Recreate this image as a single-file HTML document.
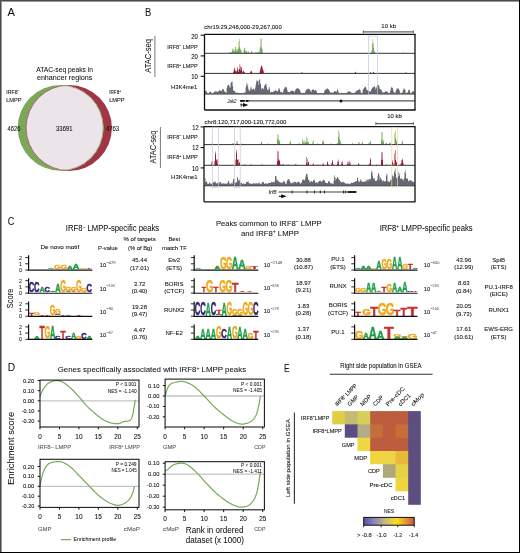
<!DOCTYPE html>
<html><head><meta charset="utf-8"><style>
html,body{margin:0;padding:0;background:#fff;width:520px;height:553px;overflow:hidden}
svg{display:block;will-change:transform}
text{font-family:"Liberation Sans", sans-serif;}
</style></head><body>
<svg width="520" height="553" viewBox="0 0 520 553">
<rect x="0" y="0" width="520" height="553" fill="#fff"/>
<text x="7.60" y="15.90" font-size="11" fill="#111" stroke="#111" stroke-width="0.050" textLength="7.40" lengthAdjust="spacingAndGlyphs" >A</text>
<text x="36.20" y="71.60" font-size="7.4" fill="#111" stroke="#111" stroke-width="0.050" textLength="56.90" lengthAdjust="spacingAndGlyphs" >ATAC-seq peaks in</text>
<text x="36.90" y="80.40" font-size="7.4" fill="#111" stroke="#111" stroke-width="0.050" textLength="55.40" lengthAdjust="spacingAndGlyphs" >enhancer regions</text>
<text x="6.20" y="94.20" font-size="6.2" fill="#111" stroke="#111" stroke-width="0.080" textLength="13.40" lengthAdjust="spacingAndGlyphs" >IRF8<tspan font-size="65%" dy="-0.5em">&#8722;</tspan><tspan dy="0.325em"></tspan></text>
<text x="6.20" y="101.90" font-size="6.2" fill="#111" stroke="#111" stroke-width="0.080" textLength="15.30" lengthAdjust="spacingAndGlyphs" >LMPP</text>
<text x="109.20" y="94.10" font-size="6.2" fill="#111" stroke="#111" stroke-width="0.080" textLength="11.80" lengthAdjust="spacingAndGlyphs" >IRF8<tspan font-size="65%" dy="-0.5em">+</tspan><tspan dy="0.325em"></tspan></text>
<text x="109.20" y="101.90" font-size="6.2" fill="#111" stroke="#111" stroke-width="0.080" textLength="15.40" lengthAdjust="spacingAndGlyphs" >LMPP</text>
<defs><clipPath id="cg"><circle cx="60.6" cy="127.9" r="42.9"/></clipPath><clipPath id="cr"><circle cx="68.9" cy="127.9" r="43.0"/></clipPath></defs>
<circle cx="60.6" cy="127.9" r="42.9" fill="#7aa85a"/>
<circle cx="68.9" cy="127.9" r="43.0" fill="#a03644"/>
<g clip-path="url(#cg)"><circle cx="68.9" cy="127.9" r="43.0" fill="#ebe5ea"/><circle cx="68.9" cy="127.9" r="42.10" fill="none" stroke="#ffffff" stroke-width="0.6"/><circle cx="68.9" cy="127.9" r="42.70" fill="none" stroke="#a03644" stroke-width="0.7"/></g>
<g clip-path="url(#cr)"><circle cx="60.6" cy="127.9" r="42.60" fill="none" stroke="#7aa85a" stroke-width="0.7"/></g>
<text x="7.50" y="130.80" font-size="6.4" fill="#111" stroke="#111" stroke-width="0.080" textLength="13.00" lengthAdjust="spacingAndGlyphs" >4626</text>
<text x="56.10" y="130.60" font-size="6.6" fill="#111" stroke="#111" stroke-width="0.080" textLength="16.40" lengthAdjust="spacingAndGlyphs" >33691</text>
<text x="105.90" y="130.60" font-size="6.4" fill="#111" stroke="#111" stroke-width="0.080" textLength="13.30" lengthAdjust="spacingAndGlyphs" >4763</text>
<text x="145.00" y="15.90" font-size="11" fill="#111" stroke="#111" stroke-width="0.050" textLength="6.30" lengthAdjust="spacingAndGlyphs" >B</text>
<text x="0" y="0" font-size="9.2" fill="#111" stroke="#111" stroke-width="0.050" textLength="33.70" lengthAdjust="spacingAndGlyphs" transform="translate(150.90 72.80) rotate(-90)">ATAC-seq</text>
<line x1="154.90" y1="35.90" x2="154.90" y2="77.00" stroke="#777" stroke-width="1" />
<text x="204.20" y="29.40" font-size="6.2" fill="#111" stroke="#111" stroke-width="0.080" textLength="77.50" lengthAdjust="spacingAndGlyphs" >chr19:29,248,000-29,267,000</text>
<text x="381.30" y="27.50" font-size="6.2" fill="#111" stroke="#111" stroke-width="0.080" textLength="14.70" lengthAdjust="spacingAndGlyphs" >10 kb</text>
<line x1="363.10" y1="31.90" x2="413.50" y2="31.90" stroke="#666" stroke-width="1.3" />
<line x1="363.30" y1="30.40" x2="363.30" y2="33.20" stroke="#444" stroke-width="0.8" />
<line x1="413.30" y1="30.40" x2="413.30" y2="33.20" stroke="#444" stroke-width="0.8" />
<path d="M205.10 53.20 L205.10 53.20 L205.60 53.20 L205.60 53.20 L206.10 53.20 L206.10 53.20 L206.60 53.20 L206.60 53.20 L207.10 53.20 L207.10 53.20 L207.60 53.20 L207.60 53.20 L208.10 53.20 L208.10 53.20 L208.60 53.20 L208.60 53.20 L209.10 53.20 L209.10 53.20 L209.60 53.20 L209.60 53.20 L210.10 53.20 L210.10 53.20 L210.60 53.20 L210.60 53.20 L211.10 53.20 L211.10 53.20 L211.60 53.20 L211.60 53.20 L212.10 53.20 L212.10 53.20 L212.60 53.20 L212.60 53.20 L213.10 53.20 L213.10 53.20 L213.60 53.20 L213.60 53.20 L214.10 53.20 L214.10 53.20 L214.60 53.20 L214.60 53.20 L215.10 53.20 L215.10 53.20 L215.60 53.20 L215.60 53.20 L216.10 53.20 L216.10 53.20 L216.60 53.20 L216.60 53.20 L217.10 53.20 L217.10 53.20 L217.60 53.20 L217.60 53.20 L218.10 53.20 L218.10 53.20 L218.60 53.20 L218.60 53.20 L219.10 53.20 L219.10 53.20 L219.60 53.20 L219.60 53.20 L220.10 53.20 L220.10 53.20 L220.60 53.20 L220.60 53.20 L221.10 53.20 L221.10 53.20 L221.60 53.20 L221.60 53.20 L222.10 53.20 L222.10 53.20 L222.60 53.20 L222.60 53.20 L223.10 53.20 L223.10 53.20 L223.60 53.20 L223.60 53.20 L224.10 53.20 L224.10 53.20 L224.60 53.20 L224.60 53.20 L225.10 53.20 L225.10 53.20 L225.60 53.20 L225.60 53.20 L226.10 53.20 L226.10 53.20 L226.60 53.20 L226.60 53.20 L227.10 53.20 L227.10 53.20 L227.60 53.20 L227.60 53.20 L228.10 53.20 L228.10 53.20 L228.60 53.20 L228.60 53.20 L229.10 53.20 L229.10 52.84 L229.60 52.84 L229.60 52.49 L230.10 52.49 L230.10 52.11 L230.60 52.11 L230.60 52.25 L231.10 52.25 L231.10 52.86 L231.60 52.86 L231.60 52.22 L232.10 52.22 L232.10 50.15 L232.60 50.15 L232.60 48.29 L233.10 48.29 L233.10 48.93 L233.60 48.93 L233.60 50.87 L234.10 50.87 L234.10 51.62 L234.60 51.62 L234.60 50.40 L235.10 50.40 L235.10 46.91 L235.60 46.91 L235.60 46.91 L236.10 46.91 L236.10 49.85 L236.60 49.85 L236.60 51.68 L237.10 51.68 L237.10 49.74 L237.60 49.74 L237.60 48.86 L238.10 48.86 L238.10 48.52 L238.60 48.52 L238.60 41.20 L239.10 41.20 L239.10 38.91 L239.60 38.91 L239.60 46.97 L240.10 46.97 L240.10 50.23 L240.60 50.23 L240.60 48.78 L241.10 48.78 L241.10 50.60 L241.60 50.60 L241.60 53.20 L242.10 53.20 L242.10 53.20 L242.60 53.20 L242.60 53.20 L243.10 53.20 L243.10 53.20 L243.60 53.20 L243.60 50.02 L244.10 50.02 L244.10 47.52 L244.60 47.52 L244.60 48.34 L245.10 48.34 L245.10 50.40 L245.60 50.40 L245.60 52.24 L246.10 52.24 L246.10 51.32 L246.60 51.32 L246.60 50.97 L247.10 50.97 L247.10 52.14 L247.60 52.14 L247.60 52.70 L248.10 52.70 L248.10 51.59 L248.60 51.59 L248.60 51.96 L249.10 51.96 L249.10 53.20 L249.60 53.20 L249.60 53.20 L250.10 53.20 L250.10 53.20 L250.60 53.20 L250.60 52.42 L251.10 52.42 L251.10 51.15 L251.60 51.15 L251.60 51.15 L252.10 51.15 L252.10 52.54 L252.60 52.54 L252.60 53.20 L253.10 53.20 L253.10 53.20 L253.60 53.20 L253.60 53.20 L254.10 53.20 L254.10 53.20 L254.60 53.20 L254.60 52.99 L255.10 52.99 L255.10 52.64 L255.60 52.64 L255.60 52.11 L256.10 52.11 L256.10 52.25 L256.60 52.25 L256.60 52.79 L257.10 52.79 L257.10 52.86 L257.60 52.86 L257.60 52.33 L258.10 52.33 L258.10 51.83 L258.60 51.83 L258.60 52.02 L259.10 52.02 L259.10 52.62 L259.60 52.62 L259.60 49.03 L260.10 49.03 L260.10 46.69 L260.60 46.69 L260.60 38.56 L261.10 38.56 L261.10 38.56 L261.60 38.56 L261.60 47.64 L262.10 47.64 L262.10 49.58 L262.60 49.58 L262.60 53.20 L263.10 53.20 L263.10 53.20 L263.60 53.20 L263.60 53.20 L264.10 53.20 L264.10 53.20 L264.60 53.20 L264.60 53.20 L265.10 53.20 L265.10 53.20 L265.60 53.20 L265.60 53.20 L266.10 53.20 L266.10 53.20 L266.60 53.20 L266.60 53.20 L267.10 53.20 L267.10 53.20 L267.60 53.20 L267.60 53.20 L268.10 53.20 L268.10 53.20 L268.60 53.20 L268.60 53.20 L269.10 53.20 L269.10 53.20 L269.60 53.20 L269.60 53.20 L270.10 53.20 L270.10 53.20 L270.60 53.20 L270.60 53.20 L271.10 53.20 L271.10 53.20 L271.60 53.20 L271.60 53.20 L272.10 53.20 L272.10 53.20 L272.60 53.20 L272.60 53.20 L273.10 53.20 L273.10 53.20 L273.60 53.20 L273.60 53.20 L274.10 53.20 L274.10 53.20 L274.60 53.20 L274.60 53.20 L275.10 53.20 L275.10 53.20 L275.60 53.20 L275.60 53.20 L276.10 53.20 L276.10 53.20 L276.60 53.20 L276.60 53.20 L277.10 53.20 L277.10 53.20 L277.60 53.20 L277.60 53.20 L278.10 53.20 L278.10 53.20 L278.60 53.20 L278.60 53.20 L279.10 53.20 L279.10 53.20 L279.60 53.20 L279.60 53.20 L280.10 53.20 L280.10 53.20 L280.60 53.20 L280.60 53.20 L281.10 53.20 L281.10 53.20 L281.60 53.20 L281.60 53.20 L282.10 53.20 L282.10 53.20 L282.60 53.20 L282.60 53.20 L283.10 53.20 L283.10 53.20 L283.60 53.20 L283.60 53.20 L284.10 53.20 L284.10 53.20 L284.60 53.20 L284.60 53.20 L285.10 53.20 L285.10 53.20 L285.60 53.20 L285.60 53.20 L286.10 53.20 L286.10 53.20 L286.60 53.20 L286.60 53.20 L287.10 53.20 L287.10 53.20 L287.60 53.20 L287.60 53.20 L288.10 53.20 L288.10 53.20 L288.60 53.20 L288.60 53.20 L289.10 53.20 L289.10 53.20 L289.60 53.20 L289.60 53.20 L290.10 53.20 L290.10 53.20 L290.60 53.20 L290.60 53.20 L291.10 53.20 L291.10 53.20 L291.60 53.20 L291.60 53.20 L292.10 53.20 L292.10 53.20 L292.60 53.20 L292.60 53.20 L293.10 53.20 L293.10 53.20 L293.60 53.20 L293.60 53.20 L294.10 53.20 L294.10 53.20 L294.60 53.20 L294.60 53.20 L295.10 53.20 L295.10 53.20 L295.60 53.20 L295.60 53.20 L296.10 53.20 L296.10 53.20 L296.60 53.20 L296.60 53.20 L297.10 53.20 L297.10 53.20 L297.60 53.20 L297.60 53.20 L298.10 53.20 L298.10 53.20 L298.60 53.20 L298.60 53.20 L299.10 53.20 L299.10 53.20 L299.60 53.20 L299.60 53.20 L300.10 53.20 L300.10 53.20 L300.60 53.20 L300.60 53.20 L301.10 53.20 L301.10 53.20 L301.60 53.20 L301.60 53.20 L302.10 53.20 L302.10 53.20 L302.60 53.20 L302.60 53.20 L303.10 53.20 L303.10 53.20 L303.60 53.20 L303.60 53.20 L304.10 53.20 L304.10 53.20 L304.60 53.20 L304.60 53.20 L305.10 53.20 L305.10 53.20 L305.60 53.20 L305.60 53.20 L306.10 53.20 L306.10 53.20 L306.60 53.20 L306.60 53.20 L307.10 53.20 L307.10 53.20 L307.60 53.20 L307.60 53.20 L308.10 53.20 L308.10 53.20 L308.60 53.20 L308.60 53.20 L309.10 53.20 L309.10 53.20 L309.60 53.20 L309.60 53.20 L310.10 53.20 L310.10 53.20 L310.60 53.20 L310.60 53.20 L311.10 53.20 L311.10 53.20 L311.60 53.20 L311.60 53.20 L312.10 53.20 L312.10 53.20 L312.60 53.20 L312.60 53.20 L313.10 53.20 L313.10 53.20 L313.60 53.20 L313.60 53.20 L314.10 53.20 L314.10 53.20 L314.60 53.20 L314.60 53.20 L315.10 53.20 L315.10 53.20 L315.60 53.20 L315.60 53.20 L316.10 53.20 L316.10 53.20 L316.60 53.20 L316.60 53.20 L317.10 53.20 L317.10 53.20 L317.60 53.20 L317.60 53.20 L318.10 53.20 L318.10 53.20 L318.60 53.20 L318.60 53.20 L319.10 53.20 L319.10 53.20 L319.60 53.20 L319.60 53.20 L320.10 53.20 L320.10 53.20 L320.60 53.20 L320.60 53.20 L321.10 53.20 L321.10 53.20 L321.60 53.20 L321.60 53.20 L322.10 53.20 L322.10 53.20 L322.60 53.20 L322.60 53.20 L323.10 53.20 L323.10 53.20 L323.60 53.20 L323.60 53.20 L324.10 53.20 L324.10 53.20 L324.60 53.20 L324.60 53.20 L325.10 53.20 L325.10 53.20 L325.60 53.20 L325.60 53.20 L326.10 53.20 L326.10 53.20 L326.60 53.20 L326.60 53.20 L327.10 53.20 L327.10 53.20 L327.60 53.20 L327.60 53.20 L328.10 53.20 L328.10 53.20 L328.60 53.20 L328.60 53.20 L329.10 53.20 L329.10 53.20 L329.60 53.20 L329.60 53.20 L330.10 53.20 L330.10 53.20 L330.60 53.20 L330.60 53.20 L331.10 53.20 L331.10 53.20 L331.60 53.20 L331.60 53.20 L332.10 53.20 L332.10 53.20 L332.60 53.20 L332.60 53.20 L333.10 53.20 L333.10 53.20 L333.60 53.20 L333.60 53.20 L334.10 53.20 L334.10 53.20 L334.60 53.20 L334.60 53.20 L335.10 53.20 L335.10 53.20 L335.60 53.20 L335.60 53.20 L336.10 53.20 L336.10 53.20 L336.60 53.20 L336.60 53.20 L337.10 53.20 L337.10 53.20 L337.60 53.20 L337.60 53.20 L338.10 53.20 L338.10 53.20 L338.60 53.20 L338.60 53.20 L339.10 53.20 L339.10 53.20 L339.60 53.20 L339.60 53.20 L340.10 53.20 L340.10 53.20 L340.60 53.20 L340.60 53.20 L341.10 53.20 L341.10 53.20 L341.60 53.20 L341.60 53.20 L342.10 53.20 L342.10 53.20 L342.60 53.20 L342.60 53.20 L343.10 53.20 L343.10 53.20 L343.60 53.20 L343.60 53.20 L344.10 53.20 L344.10 53.20 L344.60 53.20 L344.60 53.20 L345.10 53.20 L345.10 53.20 L345.60 53.20 L345.60 53.20 L346.10 53.20 L346.10 53.20 L346.60 53.20 L346.60 53.20 L347.10 53.20 L347.10 53.20 L347.60 53.20 L347.60 53.20 L348.10 53.20 L348.10 53.20 L348.60 53.20 L348.60 53.20 L349.10 53.20 L349.10 53.20 L349.60 53.20 L349.60 53.20 L350.10 53.20 L350.10 53.20 L350.60 53.20 L350.60 53.20 L351.10 53.20 L351.10 53.20 L351.60 53.20 L351.60 53.20 L352.10 53.20 L352.10 53.20 L352.60 53.20 L352.60 53.20 L353.10 53.20 L353.10 53.20 L353.60 53.20 L353.60 53.20 L354.10 53.20 L354.10 53.20 L354.60 53.20 L354.60 53.20 L355.10 53.20 L355.10 53.20 L355.60 53.20 L355.60 53.20 L356.10 53.20 L356.10 53.20 L356.60 53.20 L356.60 53.20 L357.10 53.20 L357.10 53.20 L357.60 53.20 L357.60 53.20 L358.10 53.20 L358.10 53.20 L358.60 53.20 L358.60 53.20 L359.10 53.20 L359.10 53.20 L359.60 53.20 L359.60 53.20 L360.10 53.20 L360.10 53.20 L360.60 53.20 L360.60 53.20 L361.10 53.20 L361.10 53.20 L361.60 53.20 L361.60 53.20 L362.10 53.20 L362.10 53.20 L362.60 53.20 L362.60 53.20 L363.10 53.20 L363.10 53.20 L363.60 53.20 L363.60 53.20 L364.10 53.20 L364.10 53.20 L364.60 53.20 L364.60 53.20 L365.10 53.20 L365.10 53.20 L365.60 53.20 L365.60 53.20 L366.10 53.20 L366.10 53.20 L366.60 53.20 L366.60 53.20 L367.10 53.20 L367.10 53.20 L367.60 53.20 L367.60 53.20 L368.10 53.20 L368.10 53.20 L368.60 53.20 L368.60 53.20 L369.10 53.20 L369.10 53.20 L369.60 53.20 L369.60 53.20 L370.10 53.20 L370.10 53.20 L370.60 53.20 L370.60 53.20 L371.10 53.20 L371.10 51.76 L371.60 51.76 L371.60 50.37 L372.10 50.37 L372.10 43.84 L372.60 43.84 L372.60 39.08 L373.10 39.08 L373.10 42.88 L373.60 42.88 L373.60 47.65 L374.10 47.65 L374.10 51.08 L374.60 51.08 L374.60 52.45 L375.10 52.45 L375.10 53.20 L375.60 53.20 L375.60 53.20 L376.10 53.20 L376.10 53.20 L376.60 53.20 L376.60 53.20 L377.10 53.20 L377.10 53.20 L377.60 53.20 L377.60 53.20 L378.10 53.20 L378.10 53.20 L378.60 53.20 L378.60 53.20 L379.10 53.20 L379.10 53.20 L379.60 53.20 L379.60 53.20 L380.10 53.20 L380.10 53.20 L380.60 53.20 L380.60 53.20 L381.10 53.20 L381.10 53.20 L381.60 53.20 L381.60 53.20 L382.10 53.20 L382.10 53.20 L382.60 53.20 L382.60 53.20 L383.10 53.20 L383.10 53.20 L383.60 53.20 L383.60 53.20 L384.10 53.20 L384.10 53.20 L384.60 53.20 L384.60 53.20 L385.10 53.20 L385.10 53.20 L385.60 53.20 L385.60 53.20 L386.10 53.20 L386.10 53.20 L386.60 53.20 L386.60 53.20 L387.10 53.20 L387.10 53.20 L387.60 53.20 L387.60 53.20 L388.10 53.20 L388.10 53.20 L388.60 53.20 L388.60 53.20 L389.10 53.20 L389.10 53.20 L389.60 53.20 L389.60 53.20 L390.10 53.20 L390.10 53.20 L390.60 53.20 L390.60 53.20 L391.10 53.20 L391.10 53.20 L391.60 53.20 L391.60 53.20 L392.10 53.20 L392.10 53.20 L392.60 53.20 L392.60 53.20 L393.10 53.20 L393.10 53.20 L393.60 53.20 L393.60 53.20 L394.10 53.20 L394.10 53.20 L394.60 53.20 L394.60 53.20 L395.10 53.20 L395.10 53.20 L395.60 53.20 L395.60 53.20 L396.10 53.20 L396.10 53.20 L396.60 53.20 L396.60 53.20 L397.10 53.20 L397.10 53.20 L397.60 53.20 L397.60 53.20 L398.10 53.20 L398.10 53.20 L398.60 53.20 L398.60 53.20 L399.10 53.20 L399.10 53.20 L399.60 53.20 L399.60 53.20 L400.10 53.20 L400.10 53.20 L400.60 53.20 L400.60 53.20 L401.10 53.20 L401.10 53.20 L401.60 53.20 L401.60 53.20 L402.10 53.20 L402.10 53.02 L402.60 53.02 L402.60 52.52 L403.10 52.52 L403.10 52.68 L403.60 52.68 L403.60 53.20 L404.10 53.20 L404.10 53.20 L404.60 53.20 L404.60 53.20 L405.10 53.20 L405.10 53.20 L405.60 53.20 L405.60 53.20 L406.10 53.20 L406.10 53.20 L406.60 53.20 L406.60 53.20 L407.10 53.20 L407.10 53.20 L407.60 53.20 L407.60 53.20 L408.10 53.20 L408.10 53.20 L408.60 53.20 L408.60 53.20 L409.10 53.20 L409.10 53.20 L409.60 53.20 L409.60 53.20 L410.10 53.20 L410.10 53.20 L410.60 53.20 L410.60 53.20 L411.10 53.20 L411.10 53.20 L411.60 53.20 L411.60 53.20 L412.10 53.20 L412.10 53.20 L412.60 53.20 L412.60 53.20 L413.10 53.20 L413.10 53.20 L413.60 53.20 L413.60 53.20 L414.10 53.20 L414.10 53.20 L414.60 53.20 L414.40 53.20 Z" fill="#76aa5a"/>
<path d="M205.10 73.40 L205.10 73.40 L205.60 73.40 L205.60 73.40 L206.10 73.40 L206.10 73.40 L206.60 73.40 L206.60 73.40 L207.10 73.40 L207.10 73.40 L207.60 73.40 L207.60 73.40 L208.10 73.40 L208.10 73.40 L208.60 73.40 L208.60 73.40 L209.10 73.40 L209.10 73.40 L209.60 73.40 L209.60 73.40 L210.10 73.40 L210.10 73.40 L210.60 73.40 L210.60 73.40 L211.10 73.40 L211.10 73.40 L211.60 73.40 L211.60 73.40 L212.10 73.40 L212.10 73.40 L212.60 73.40 L212.60 73.40 L213.10 73.40 L213.10 73.40 L213.60 73.40 L213.60 73.40 L214.10 73.40 L214.10 73.40 L214.60 73.40 L214.60 73.40 L215.10 73.40 L215.10 73.40 L215.60 73.40 L215.60 73.40 L216.10 73.40 L216.10 73.40 L216.60 73.40 L216.60 73.40 L217.10 73.40 L217.10 73.40 L217.60 73.40 L217.60 73.40 L218.10 73.40 L218.10 73.40 L218.60 73.40 L218.60 73.40 L219.10 73.40 L219.10 73.40 L219.60 73.40 L219.60 73.40 L220.10 73.40 L220.10 73.40 L220.60 73.40 L220.60 73.40 L221.10 73.40 L221.10 73.40 L221.60 73.40 L221.60 73.40 L222.10 73.40 L222.10 73.40 L222.60 73.40 L222.60 73.40 L223.10 73.40 L223.10 73.40 L223.60 73.40 L223.60 73.40 L224.10 73.40 L224.10 73.40 L224.60 73.40 L224.60 73.40 L225.10 73.40 L225.10 73.40 L225.60 73.40 L225.60 73.40 L226.10 73.40 L226.10 73.40 L226.60 73.40 L226.60 73.40 L227.10 73.40 L227.10 73.40 L227.60 73.40 L227.60 73.40 L228.10 73.40 L228.10 73.40 L228.60 73.40 L228.60 73.40 L229.10 73.40 L229.10 73.40 L229.60 73.40 L229.60 73.40 L230.10 73.40 L230.10 73.40 L230.60 73.40 L230.60 73.40 L231.10 73.40 L231.10 73.40 L231.60 73.40 L231.60 73.40 L232.10 73.40 L232.10 73.40 L232.60 73.40 L232.60 73.40 L233.10 73.40 L233.10 72.03 L233.60 72.03 L233.60 70.59 L234.10 70.59 L234.10 68.42 L234.60 68.42 L234.60 67.84 L235.10 67.84 L235.10 70.45 L235.60 70.45 L235.60 71.21 L236.10 71.21 L236.10 71.72 L236.60 71.72 L236.60 71.02 L237.10 71.02 L237.10 67.21 L237.60 67.21 L237.60 68.88 L238.10 68.88 L238.10 72.05 L238.60 72.05 L238.60 69.77 L239.10 69.77 L239.10 69.05 L239.60 69.05 L239.60 64.26 L240.10 64.26 L240.10 66.35 L240.60 66.35 L240.60 70.49 L241.10 70.49 L241.10 67.11 L241.60 67.11 L241.60 68.59 L242.10 68.59 L242.10 72.43 L242.60 72.43 L242.60 71.49 L243.10 71.49 L243.10 70.86 L243.60 70.86 L243.60 71.37 L244.10 71.37 L244.10 72.10 L244.60 72.10 L244.60 72.81 L245.10 72.81 L245.10 73.40 L245.60 73.40 L245.60 73.40 L246.10 73.40 L246.10 73.40 L246.60 73.40 L246.60 73.40 L247.10 73.40 L247.10 73.40 L247.60 73.40 L247.60 73.40 L248.10 73.40 L248.10 73.40 L248.60 73.40 L248.60 73.40 L249.10 73.40 L249.10 73.40 L249.60 73.40 L249.60 73.40 L250.10 73.40 L250.10 72.29 L250.60 72.29 L250.60 71.30 L251.10 71.30 L251.10 70.68 L251.60 70.68 L251.60 71.46 L252.10 71.46 L252.10 72.68 L252.60 72.68 L252.60 73.40 L253.10 73.40 L253.10 73.40 L253.60 73.40 L253.60 73.40 L254.10 73.40 L254.10 73.40 L254.60 73.40 L254.60 73.40 L255.10 73.40 L255.10 73.40 L255.60 73.40 L255.60 73.40 L256.10 73.40 L256.10 73.40 L256.60 73.40 L256.60 73.40 L257.10 73.40 L257.10 73.40 L257.60 73.40 L257.60 73.40 L258.10 73.40 L258.10 73.40 L258.60 73.40 L258.60 73.40 L259.10 73.40 L259.10 73.40 L259.60 73.40 L259.60 71.24 L260.10 71.24 L260.10 69.27 L260.60 69.27 L260.60 67.21 L261.10 67.21 L261.10 65.40 L261.60 65.40 L261.60 65.40 L262.10 65.40 L262.10 67.21 L262.60 67.21 L262.60 69.52 L263.10 69.52 L263.10 70.36 L263.60 70.36 L263.60 72.54 L264.10 72.54 L264.10 73.40 L264.60 73.40 L264.60 73.40 L265.10 73.40 L265.10 73.40 L265.60 73.40 L265.60 73.40 L266.10 73.40 L266.10 73.40 L266.60 73.40 L266.60 73.40 L267.10 73.40 L267.10 73.40 L267.60 73.40 L267.60 73.40 L268.10 73.40 L268.10 73.40 L268.60 73.40 L268.60 73.40 L269.10 73.40 L269.10 73.40 L269.60 73.40 L269.60 73.40 L270.10 73.40 L270.10 73.40 L270.60 73.40 L270.60 73.40 L271.10 73.40 L271.10 73.40 L271.60 73.40 L271.60 73.40 L272.10 73.40 L272.10 73.40 L272.60 73.40 L272.60 73.40 L273.10 73.40 L273.10 73.40 L273.60 73.40 L273.60 73.40 L274.10 73.40 L274.10 73.40 L274.60 73.40 L274.60 73.40 L275.10 73.40 L275.10 73.40 L275.60 73.40 L275.60 73.40 L276.10 73.40 L276.10 73.40 L276.60 73.40 L276.60 73.40 L277.10 73.40 L277.10 73.40 L277.60 73.40 L277.60 73.40 L278.10 73.40 L278.10 73.40 L278.60 73.40 L278.60 73.40 L279.10 73.40 L279.10 73.40 L279.60 73.40 L279.60 73.40 L280.10 73.40 L280.10 73.40 L280.60 73.40 L280.60 73.40 L281.10 73.40 L281.10 73.40 L281.60 73.40 L281.60 73.40 L282.10 73.40 L282.10 73.40 L282.60 73.40 L282.60 73.40 L283.10 73.40 L283.10 73.40 L283.60 73.40 L283.60 73.40 L284.10 73.40 L284.10 73.40 L284.60 73.40 L284.60 73.40 L285.10 73.40 L285.10 73.40 L285.60 73.40 L285.60 73.40 L286.10 73.40 L286.10 73.40 L286.60 73.40 L286.60 73.40 L287.10 73.40 L287.10 73.40 L287.60 73.40 L287.60 73.40 L288.10 73.40 L288.10 73.40 L288.60 73.40 L288.60 73.40 L289.10 73.40 L289.10 73.40 L289.60 73.40 L289.60 73.40 L290.10 73.40 L290.10 73.40 L290.60 73.40 L290.60 73.40 L291.10 73.40 L291.10 73.40 L291.60 73.40 L291.60 73.40 L292.10 73.40 L292.10 73.40 L292.60 73.40 L292.60 73.40 L293.10 73.40 L293.10 73.40 L293.60 73.40 L293.60 73.40 L294.10 73.40 L294.10 73.40 L294.60 73.40 L294.60 73.40 L295.10 73.40 L295.10 73.40 L295.60 73.40 L295.60 73.40 L296.10 73.40 L296.10 73.40 L296.60 73.40 L296.60 73.40 L297.10 73.40 L297.10 73.40 L297.60 73.40 L297.60 73.40 L298.10 73.40 L298.10 73.40 L298.60 73.40 L298.60 73.40 L299.10 73.40 L299.10 73.40 L299.60 73.40 L299.60 73.40 L300.10 73.40 L300.10 73.40 L300.60 73.40 L300.60 73.40 L301.10 73.40 L301.10 72.87 L301.60 72.87 L301.60 72.19 L302.10 72.19 L302.10 72.43 L302.60 72.43 L302.60 73.40 L303.10 73.40 L303.10 73.40 L303.60 73.40 L303.60 73.40 L304.10 73.40 L304.10 73.40 L304.60 73.40 L304.60 73.40 L305.10 73.40 L305.10 73.40 L305.60 73.40 L305.60 73.40 L306.10 73.40 L306.10 73.40 L306.60 73.40 L306.60 73.40 L307.10 73.40 L307.10 73.40 L307.60 73.40 L307.60 73.40 L308.10 73.40 L308.10 73.40 L308.60 73.40 L308.60 73.40 L309.10 73.40 L309.10 73.40 L309.60 73.40 L309.60 73.40 L310.10 73.40 L310.10 73.40 L310.60 73.40 L310.60 73.40 L311.10 73.40 L311.10 73.40 L311.60 73.40 L311.60 73.40 L312.10 73.40 L312.10 73.40 L312.60 73.40 L312.60 73.40 L313.10 73.40 L313.10 73.40 L313.60 73.40 L313.60 73.40 L314.10 73.40 L314.10 73.40 L314.60 73.40 L314.60 73.40 L315.10 73.40 L315.10 73.40 L315.60 73.40 L315.60 73.40 L316.10 73.40 L316.10 73.40 L316.60 73.40 L316.60 73.40 L317.10 73.40 L317.10 73.40 L317.60 73.40 L317.60 73.40 L318.10 73.40 L318.10 73.40 L318.60 73.40 L318.60 73.40 L319.10 73.40 L319.10 73.40 L319.60 73.40 L319.60 73.40 L320.10 73.40 L320.10 73.40 L320.60 73.40 L320.60 73.40 L321.10 73.40 L321.10 73.40 L321.60 73.40 L321.60 73.40 L322.10 73.40 L322.10 73.40 L322.60 73.40 L322.60 73.40 L323.10 73.40 L323.10 73.40 L323.60 73.40 L323.60 73.40 L324.10 73.40 L324.10 73.40 L324.60 73.40 L324.60 73.40 L325.10 73.40 L325.10 73.40 L325.60 73.40 L325.60 73.40 L326.10 73.40 L326.10 73.40 L326.60 73.40 L326.60 73.40 L327.10 73.40 L327.10 73.40 L327.60 73.40 L327.60 73.40 L328.10 73.40 L328.10 73.40 L328.60 73.40 L328.60 73.40 L329.10 73.40 L329.10 73.40 L329.60 73.40 L329.60 73.40 L330.10 73.40 L330.10 73.40 L330.60 73.40 L330.60 73.40 L331.10 73.40 L331.10 73.40 L331.60 73.40 L331.60 73.40 L332.10 73.40 L332.10 73.40 L332.60 73.40 L332.60 73.40 L333.10 73.40 L333.10 73.40 L333.60 73.40 L333.60 73.40 L334.10 73.40 L334.10 73.40 L334.60 73.40 L334.60 73.40 L335.10 73.40 L335.10 73.40 L335.60 73.40 L335.60 73.40 L336.10 73.40 L336.10 73.40 L336.60 73.40 L336.60 73.40 L337.10 73.40 L337.10 73.40 L337.60 73.40 L337.60 73.40 L338.10 73.40 L338.10 73.40 L338.60 73.40 L338.60 73.40 L339.10 73.40 L339.10 73.40 L339.60 73.40 L339.60 73.40 L340.10 73.40 L340.10 73.40 L340.60 73.40 L340.60 73.40 L341.10 73.40 L341.10 73.40 L341.60 73.40 L341.60 73.40 L342.10 73.40 L342.10 73.40 L342.60 73.40 L342.60 73.40 L343.10 73.40 L343.10 73.40 L343.60 73.40 L343.60 73.40 L344.10 73.40 L344.10 73.40 L344.60 73.40 L344.60 73.40 L345.10 73.40 L345.10 73.40 L345.60 73.40 L345.60 73.40 L346.10 73.40 L346.10 73.40 L346.60 73.40 L346.60 73.40 L347.10 73.40 L347.10 73.40 L347.60 73.40 L347.60 73.40 L348.10 73.40 L348.10 73.40 L348.60 73.40 L348.60 73.40 L349.10 73.40 L349.10 73.40 L349.60 73.40 L349.60 73.40 L350.10 73.40 L350.10 73.40 L350.60 73.40 L350.60 73.40 L351.10 73.40 L351.10 73.40 L351.60 73.40 L351.60 73.40 L352.10 73.40 L352.10 73.40 L352.60 73.40 L352.60 73.40 L353.10 73.40 L353.10 73.40 L353.60 73.40 L353.60 73.40 L354.10 73.40 L354.10 73.40 L354.60 73.40 L354.60 72.47 L355.10 72.47 L355.10 71.68 L355.60 71.68 L355.60 72.31 L356.10 72.31 L356.10 73.40 L356.60 73.40 L356.60 73.40 L357.10 73.40 L357.10 73.40 L357.60 73.40 L357.60 73.40 L358.10 73.40 L358.10 73.40 L358.60 73.40 L358.60 73.40 L359.10 73.40 L359.10 73.40 L359.60 73.40 L359.60 73.40 L360.10 73.40 L360.10 73.40 L360.60 73.40 L360.60 73.40 L361.10 73.40 L361.10 73.40 L361.60 73.40 L361.60 73.40 L362.10 73.40 L362.10 73.40 L362.60 73.40 L362.60 73.40 L363.10 73.40 L363.10 73.40 L363.60 73.40 L363.60 73.40 L364.10 73.40 L364.10 73.40 L364.60 73.40 L364.60 73.40 L365.10 73.40 L365.10 73.40 L365.60 73.40 L365.60 73.40 L366.10 73.40 L366.10 73.40 L366.60 73.40 L366.60 73.40 L367.10 73.40 L367.10 73.40 L367.60 73.40 L367.60 73.40 L368.10 73.40 L368.10 73.40 L368.60 73.40 L368.60 73.40 L369.10 73.40 L369.10 73.40 L369.60 73.40 L369.60 72.97 L370.10 72.97 L370.10 72.12 L370.60 72.12 L370.60 72.43 L371.10 72.43 L371.10 73.40 L371.60 73.40 L371.60 73.40 L372.10 73.40 L372.10 73.40 L372.60 73.40 L372.60 72.87 L373.10 72.87 L373.10 71.84 L373.60 71.84 L373.60 72.16 L374.10 72.16 L374.10 73.40 L374.60 73.40 L374.60 73.40 L375.10 73.40 L375.10 73.40 L375.60 73.40 L375.60 73.40 L376.10 73.40 L376.10 73.40 L376.60 73.40 L376.60 73.40 L377.10 73.40 L377.10 73.40 L377.60 73.40 L377.60 73.40 L378.10 73.40 L378.10 73.40 L378.60 73.40 L378.60 73.40 L379.10 73.40 L379.10 73.40 L379.60 73.40 L379.60 73.40 L380.10 73.40 L380.10 73.40 L380.60 73.40 L380.60 73.40 L381.10 73.40 L381.10 73.40 L381.60 73.40 L381.60 73.40 L382.10 73.40 L382.10 73.40 L382.60 73.40 L382.60 73.40 L383.10 73.40 L383.10 73.40 L383.60 73.40 L383.60 73.40 L384.10 73.40 L384.10 73.40 L384.60 73.40 L384.60 73.40 L385.10 73.40 L385.10 73.40 L385.60 73.40 L385.60 73.40 L386.10 73.40 L386.10 73.40 L386.60 73.40 L386.60 73.40 L387.10 73.40 L387.10 73.40 L387.60 73.40 L387.60 73.40 L388.10 73.40 L388.10 73.40 L388.60 73.40 L388.60 73.40 L389.10 73.40 L389.10 73.40 L389.60 73.40 L389.60 73.40 L390.10 73.40 L390.10 73.40 L390.60 73.40 L390.60 73.40 L391.10 73.40 L391.10 73.40 L391.60 73.40 L391.60 73.40 L392.10 73.40 L392.10 73.40 L392.60 73.40 L392.60 73.40 L393.10 73.40 L393.10 73.40 L393.60 73.40 L393.60 73.40 L394.10 73.40 L394.10 73.40 L394.60 73.40 L394.60 73.40 L395.10 73.40 L395.10 73.40 L395.60 73.40 L395.60 73.40 L396.10 73.40 L396.10 73.40 L396.60 73.40 L396.60 73.40 L397.10 73.40 L397.10 73.40 L397.60 73.40 L397.60 73.40 L398.10 73.40 L398.10 73.40 L398.60 73.40 L398.60 73.40 L399.10 73.40 L399.10 73.40 L399.60 73.40 L399.60 73.40 L400.10 73.40 L400.10 73.40 L400.60 73.40 L400.60 73.40 L401.10 73.40 L401.10 73.40 L401.60 73.40 L401.60 73.40 L402.10 73.40 L402.10 73.40 L402.60 73.40 L402.60 73.40 L403.10 73.40 L403.10 73.40 L403.60 73.40 L403.60 73.40 L404.10 73.40 L404.10 73.40 L404.60 73.40 L404.60 73.40 L405.10 73.40 L405.10 73.09 L405.60 73.09 L405.60 72.27 L406.10 72.27 L406.10 72.50 L406.60 72.50 L406.60 73.40 L407.10 73.40 L407.10 73.40 L407.60 73.40 L407.60 73.40 L408.10 73.40 L408.10 73.40 L408.60 73.40 L408.60 73.40 L409.10 73.40 L409.10 73.40 L409.60 73.40 L409.60 73.40 L410.10 73.40 L410.10 73.40 L410.60 73.40 L410.60 73.40 L411.10 73.40 L411.10 73.40 L411.60 73.40 L411.60 73.40 L412.10 73.40 L412.10 73.40 L412.60 73.40 L412.60 73.40 L413.10 73.40 L413.10 73.40 L413.60 73.40 L413.60 73.40 L414.10 73.40 L414.10 73.40 L414.60 73.40 L414.40 73.40 Z" fill="#9e1c32"/>
<path d="M205.10 93.70 L205.10 90.95 L205.60 90.95 L205.60 90.45 L206.10 90.45 L206.10 90.96 L206.60 90.96 L206.60 92.26 L207.10 92.26 L207.10 93.28 L207.60 93.28 L207.60 93.04 L208.10 93.04 L208.10 93.26 L208.60 93.26 L208.60 93.25 L209.10 93.25 L209.10 92.37 L209.60 92.37 L209.60 91.78 L210.10 91.78 L210.10 91.42 L210.60 91.42 L210.60 91.95 L211.10 91.95 L211.10 92.71 L211.60 92.71 L211.60 93.27 L212.10 93.27 L212.10 92.78 L212.60 92.78 L212.60 93.13 L213.10 93.13 L213.10 93.21 L213.60 93.21 L213.60 92.59 L214.10 92.59 L214.10 91.83 L214.60 91.83 L214.60 91.51 L215.10 91.51 L215.10 91.37 L215.60 91.37 L215.60 91.43 L216.10 91.43 L216.10 91.38 L216.60 91.38 L216.60 91.42 L217.10 91.42 L217.10 91.66 L217.60 91.66 L217.60 92.12 L218.10 92.12 L218.10 91.22 L218.60 91.22 L218.60 90.74 L219.10 90.74 L219.10 90.17 L219.60 90.17 L219.60 90.45 L220.10 90.45 L220.10 90.61 L220.60 90.61 L220.60 90.38 L221.10 90.38 L221.10 90.98 L221.60 90.98 L221.60 90.68 L222.10 90.68 L222.10 89.33 L222.60 89.33 L222.60 88.99 L223.10 88.99 L223.10 88.84 L223.60 88.84 L223.60 89.90 L224.10 89.90 L224.10 91.34 L224.60 91.34 L224.60 91.85 L225.10 91.85 L225.10 91.92 L225.60 91.92 L225.60 92.35 L226.10 92.35 L226.10 93.13 L226.60 93.13 L226.60 87.99 L227.10 87.99 L227.10 86.31 L227.60 86.31 L227.60 84.74 L228.10 84.74 L228.10 84.61 L228.60 84.61 L228.60 85.01 L229.10 85.01 L229.10 86.02 L229.60 86.02 L229.60 88.08 L230.10 88.08 L230.10 87.16 L230.60 87.16 L230.60 82.87 L231.10 82.87 L231.10 82.19 L231.60 82.19 L231.60 81.65 L232.10 81.65 L232.10 81.46 L232.60 81.46 L232.60 86.16 L233.10 86.16 L233.10 90.95 L233.60 90.95 L233.60 90.07 L234.10 90.07 L234.10 90.67 L234.60 90.67 L234.60 91.34 L235.10 91.34 L235.10 92.49 L235.60 92.49 L235.60 92.35 L236.10 92.35 L236.10 92.69 L236.60 92.69 L236.60 92.76 L237.10 92.76 L237.10 92.83 L237.60 92.83 L237.60 92.78 L238.10 92.78 L238.10 92.82 L238.60 92.82 L238.60 93.06 L239.10 93.06 L239.10 93.06 L239.60 93.06 L239.60 93.24 L240.10 93.24 L240.10 92.92 L240.60 92.92 L240.60 93.26 L241.10 93.26 L241.10 93.26 L241.60 93.26 L241.60 93.17 L242.10 93.17 L242.10 93.20 L242.60 93.20 L242.60 93.10 L243.10 93.10 L243.10 93.20 L243.60 93.20 L243.60 92.69 L244.10 92.69 L244.10 92.40 L244.60 92.40 L244.60 92.32 L245.10 92.32 L245.10 92.86 L245.60 92.86 L245.60 87.38 L246.10 87.38 L246.10 85.50 L246.60 85.50 L246.60 82.58 L247.10 82.58 L247.10 83.98 L247.60 83.98 L247.60 86.27 L248.10 86.27 L248.10 88.76 L248.60 88.76 L248.60 90.40 L249.10 90.40 L249.10 89.96 L249.60 89.96 L249.60 91.33 L250.10 91.33 L250.10 89.13 L250.60 89.13 L250.60 86.80 L251.10 86.80 L251.10 87.49 L251.60 87.49 L251.60 89.57 L252.10 89.57 L252.10 89.83 L252.60 89.83 L252.60 88.89 L253.10 88.89 L253.10 89.08 L253.60 89.08 L253.60 88.35 L254.10 88.35 L254.10 89.17 L254.60 89.17 L254.60 90.38 L255.10 90.38 L255.10 87.49 L255.60 87.49 L255.60 84.80 L256.10 84.80 L256.10 81.94 L256.60 81.94 L256.60 79.69 L257.10 79.69 L257.10 80.68 L257.60 80.68 L257.60 80.89 L258.10 80.89 L258.10 84.91 L258.60 84.91 L258.60 80.71 L259.10 80.71 L259.10 79.51 L259.60 79.51 L259.60 79.38 L260.10 79.38 L260.10 82.97 L260.60 82.97 L260.60 84.62 L261.10 84.62 L261.10 89.58 L261.60 89.58 L261.60 88.44 L262.10 88.44 L262.10 88.35 L262.60 88.35 L262.60 88.09 L263.10 88.09 L263.10 88.77 L263.60 88.77 L263.60 89.27 L264.10 89.27 L264.10 85.68 L264.60 85.68 L264.60 85.30 L265.10 85.30 L265.10 84.61 L265.60 84.61 L265.60 83.38 L266.10 83.38 L266.10 84.61 L266.60 84.61 L266.60 87.17 L267.10 87.17 L267.10 89.99 L267.60 89.99 L267.60 89.69 L268.10 89.69 L268.10 90.34 L268.60 90.34 L268.60 87.77 L269.10 87.77 L269.10 86.89 L269.60 86.89 L269.60 89.05 L270.10 89.05 L270.10 92.69 L270.60 92.69 L270.60 92.11 L271.10 92.11 L271.10 91.94 L271.60 91.94 L271.60 91.81 L272.10 91.81 L272.10 92.32 L272.60 92.32 L272.60 92.00 L273.10 92.00 L273.10 91.40 L273.60 91.40 L273.60 91.15 L274.10 91.15 L274.10 91.15 L274.60 91.15 L274.60 90.86 L275.10 90.86 L275.10 90.35 L275.60 90.35 L275.60 90.60 L276.10 90.60 L276.10 90.68 L276.60 90.68 L276.60 90.95 L277.10 90.95 L277.10 91.17 L277.60 91.17 L277.60 91.47 L278.10 91.47 L278.10 89.54 L278.60 89.54 L278.60 88.35 L279.10 88.35 L279.10 88.30 L279.60 88.30 L279.60 90.09 L280.10 90.09 L280.10 92.24 L280.60 92.24 L280.60 91.84 L281.10 91.84 L281.10 91.99 L281.60 91.99 L281.60 92.36 L282.10 92.36 L282.10 92.77 L282.60 92.77 L282.60 92.73 L283.10 92.73 L283.10 91.33 L283.60 91.33 L283.60 88.95 L284.10 88.95 L284.10 88.49 L284.60 88.49 L284.60 87.26 L285.10 87.26 L285.10 87.19 L285.60 87.19 L285.60 86.63 L286.10 86.63 L286.10 86.91 L286.60 86.91 L286.60 88.27 L287.10 88.27 L287.10 90.34 L287.60 90.34 L287.60 91.97 L288.10 91.97 L288.10 91.73 L288.60 91.73 L288.60 91.97 L289.10 91.97 L289.10 92.20 L289.60 92.20 L289.60 92.20 L290.10 92.20 L290.10 91.59 L290.60 91.59 L290.60 91.12 L291.10 91.12 L291.10 91.02 L291.60 91.02 L291.60 90.60 L292.10 90.60 L292.10 90.71 L292.60 90.71 L292.60 90.80 L293.10 90.80 L293.10 90.92 L293.60 90.92 L293.60 91.55 L294.10 91.55 L294.10 92.56 L294.60 92.56 L294.60 90.85 L295.10 90.85 L295.10 90.39 L295.60 90.39 L295.60 88.96 L296.10 88.96 L296.10 89.07 L296.60 89.07 L296.60 87.98 L297.10 87.98 L297.10 88.07 L297.60 88.07 L297.60 88.87 L298.10 88.87 L298.10 88.66 L298.60 88.66 L298.60 88.55 L299.10 88.55 L299.10 89.35 L299.60 89.35 L299.60 90.18 L300.10 90.18 L300.10 91.26 L300.60 91.26 L300.60 92.97 L301.10 92.97 L301.10 92.86 L301.60 92.86 L301.60 92.91 L302.10 92.91 L302.10 92.85 L302.60 92.85 L302.60 92.88 L303.10 92.88 L303.10 92.93 L303.60 92.93 L303.60 92.84 L304.10 92.84 L304.10 93.00 L304.60 93.00 L304.60 93.09 L305.10 93.09 L305.10 91.50 L305.60 91.50 L305.60 90.75 L306.10 90.75 L306.10 89.67 L306.60 89.67 L306.60 89.24 L307.10 89.24 L307.10 89.32 L307.60 89.32 L307.60 88.83 L308.10 88.83 L308.10 88.43 L308.60 88.43 L308.60 89.00 L309.10 89.00 L309.10 88.94 L309.60 88.94 L309.60 89.69 L310.10 89.69 L310.10 90.62 L310.60 90.62 L310.60 91.70 L311.10 91.70 L311.10 91.81 L311.60 91.81 L311.60 90.21 L312.10 90.21 L312.10 89.89 L312.60 89.89 L312.60 88.88 L313.10 88.88 L313.10 89.14 L313.60 89.14 L313.60 90.07 L314.10 90.07 L314.10 90.86 L314.60 90.86 L314.60 90.61 L315.10 90.61 L315.10 89.76 L315.60 89.76 L315.60 90.20 L316.10 90.20 L316.10 90.62 L316.60 90.62 L316.60 92.19 L317.10 92.19 L317.10 93.07 L317.60 93.07 L317.60 93.02 L318.10 93.02 L318.10 93.00 L318.60 93.00 L318.60 93.18 L319.10 93.18 L319.10 93.00 L319.60 93.00 L319.60 93.30 L320.10 93.30 L320.10 93.14 L320.60 93.14 L320.60 93.25 L321.10 93.25 L321.10 93.06 L321.60 93.06 L321.60 93.27 L322.10 93.27 L322.10 93.29 L322.60 93.29 L322.60 93.12 L323.10 93.12 L323.10 93.16 L323.60 93.16 L323.60 92.95 L324.10 92.95 L324.10 91.23 L324.60 91.23 L324.60 90.27 L325.10 90.27 L325.10 89.38 L325.60 89.38 L325.60 89.39 L326.10 89.39 L326.10 89.27 L326.60 89.27 L326.60 88.60 L327.10 88.60 L327.10 88.43 L327.60 88.43 L327.60 88.87 L328.10 88.87 L328.10 89.10 L328.60 89.10 L328.60 89.94 L329.10 89.94 L329.10 90.49 L329.60 90.49 L329.60 91.48 L330.10 91.48 L330.10 92.84 L330.60 92.84 L330.60 92.48 L331.10 92.48 L331.10 92.50 L331.60 92.50 L331.60 92.44 L332.10 92.44 L332.10 92.58 L332.60 92.58 L332.60 92.92 L333.10 92.92 L333.10 92.41 L333.60 92.41 L333.60 91.93 L334.10 91.93 L334.10 91.09 L334.60 91.09 L334.60 90.99 L335.10 90.99 L335.10 91.32 L335.60 91.32 L335.60 91.52 L336.10 91.52 L336.10 92.07 L336.60 92.07 L336.60 90.74 L337.10 90.74 L337.10 88.80 L337.60 88.80 L337.60 89.69 L338.10 89.69 L338.10 91.39 L338.60 91.39 L338.60 92.93 L339.10 92.93 L339.10 92.91 L339.60 92.91 L339.60 93.25 L340.10 93.25 L340.10 93.21 L340.60 93.21 L340.60 93.15 L341.10 93.15 L341.10 92.85 L341.60 92.85 L341.60 93.12 L342.10 93.12 L342.10 92.96 L342.60 92.96 L342.60 93.29 L343.10 93.29 L343.10 93.26 L343.60 93.26 L343.60 93.14 L344.10 93.14 L344.10 92.90 L344.60 92.90 L344.60 92.88 L345.10 92.88 L345.10 92.89 L345.60 92.89 L345.60 93.13 L346.10 93.13 L346.10 92.99 L346.60 92.99 L346.60 92.62 L347.10 92.62 L347.10 92.27 L347.60 92.27 L347.60 91.91 L348.10 91.91 L348.10 91.35 L348.60 91.35 L348.60 91.48 L349.10 91.48 L349.10 91.25 L349.60 91.25 L349.60 91.74 L350.10 91.74 L350.10 91.73 L350.60 91.73 L350.60 92.29 L351.10 92.29 L351.10 92.73 L351.60 92.73 L351.60 93.22 L352.10 93.22 L352.10 92.81 L352.60 92.81 L352.60 92.99 L353.10 92.99 L353.10 92.77 L353.60 92.77 L353.60 92.88 L354.10 92.88 L354.10 93.16 L354.60 93.16 L354.60 92.76 L355.10 92.76 L355.10 91.92 L355.60 91.92 L355.60 91.56 L356.10 91.56 L356.10 90.83 L356.60 90.83 L356.60 90.70 L357.10 90.70 L357.10 90.35 L357.60 90.35 L357.60 90.50 L358.10 90.50 L358.10 89.86 L358.60 89.86 L358.60 89.71 L359.10 89.71 L359.10 88.85 L359.60 88.85 L359.60 89.57 L360.10 89.57 L360.10 90.32 L360.60 90.32 L360.60 92.24 L361.10 92.24 L361.10 93.13 L361.60 93.13 L361.60 93.27 L362.10 93.27 L362.10 93.24 L362.60 93.24 L362.60 90.34 L363.10 90.34 L363.10 88.76 L363.60 88.76 L363.60 88.47 L364.10 88.47 L364.10 87.95 L364.60 87.95 L364.60 86.58 L365.10 86.58 L365.10 86.87 L365.60 86.87 L365.60 87.20 L366.10 87.20 L366.10 88.49 L366.60 88.49 L366.60 90.10 L367.10 90.10 L367.10 90.44 L367.60 90.44 L367.60 90.00 L368.10 90.00 L368.10 90.54 L368.60 90.54 L368.60 90.87 L369.10 90.87 L369.10 91.49 L369.60 91.49 L369.60 91.35 L370.10 91.35 L370.10 91.69 L370.60 91.69 L370.60 90.80 L371.10 90.80 L371.10 89.42 L371.60 89.42 L371.60 88.74 L372.10 88.74 L372.10 87.16 L372.60 87.16 L372.60 87.81 L373.10 87.81 L373.10 86.80 L373.60 86.80 L373.60 87.16 L374.10 87.16 L374.10 86.31 L374.60 86.31 L374.60 86.54 L375.10 86.54 L375.10 87.69 L375.60 87.69 L375.60 89.85 L376.10 89.85 L376.10 87.98 L376.60 87.98 L376.60 86.01 L377.10 86.01 L377.10 85.20 L377.60 85.20 L377.60 84.83 L378.10 84.83 L378.10 85.26 L378.60 85.26 L378.60 85.03 L379.10 85.03 L379.10 87.14 L379.60 87.14 L379.60 89.05 L380.10 89.05 L380.10 89.27 L380.60 89.27 L380.60 88.97 L381.10 88.97 L381.10 90.26 L381.60 90.26 L381.60 90.70 L382.10 90.70 L382.10 92.28 L382.60 92.28 L382.60 92.51 L383.10 92.51 L383.10 92.30 L383.60 92.30 L383.60 92.53 L384.10 92.53 L384.10 92.22 L384.60 92.22 L384.60 91.93 L385.10 91.93 L385.10 91.47 L385.60 91.47 L385.60 91.35 L386.10 91.35 L386.10 91.35 L386.60 91.35 L386.60 91.61 L387.10 91.61 L387.10 91.80 L387.60 91.80 L387.60 92.18 L388.10 92.18 L388.10 92.88 L388.60 92.88 L388.60 93.15 L389.10 93.15 L389.10 92.92 L389.60 92.92 L389.60 92.88 L390.10 92.88 L390.10 90.93 L390.60 90.93 L390.60 88.47 L391.10 88.47 L391.10 87.39 L391.60 87.39 L391.60 86.71 L392.10 86.71 L392.10 87.69 L392.60 87.69 L392.60 88.37 L393.10 88.37 L393.10 91.00 L393.60 91.00 L393.60 92.44 L394.10 92.44 L394.10 92.29 L394.60 92.29 L394.60 92.83 L395.10 92.83 L395.10 93.00 L395.60 93.00 L395.60 90.91 L396.10 90.91 L396.10 89.90 L396.60 89.90 L396.60 88.27 L397.10 88.27 L397.10 88.76 L397.60 88.76 L397.60 88.13 L398.10 88.13 L398.10 88.63 L398.60 88.63 L398.60 88.64 L399.10 88.64 L399.10 90.16 L399.60 90.16 L399.60 91.42 L400.10 91.42 L400.10 93.16 L400.60 93.16 L400.60 93.17 L401.10 93.17 L401.10 92.84 L401.60 92.84 L401.60 93.12 L402.10 93.12 L402.10 92.73 L402.60 92.73 L402.60 90.96 L403.10 90.96 L403.10 89.67 L403.60 89.67 L403.60 88.37 L404.10 88.37 L404.10 88.84 L404.60 88.84 L404.60 89.29 L405.10 89.29 L405.10 90.53 L405.60 90.53 L405.60 93.26 L406.10 93.26 L406.10 93.06 L406.60 93.06 L406.60 92.76 L407.10 92.76 L407.10 92.77 L407.60 92.77 L407.60 91.93 L408.10 91.93 L408.10 90.02 L408.60 90.02 L408.60 89.89 L409.10 89.89 L409.10 89.57 L409.60 89.57 L409.60 90.80 L410.10 90.80 L410.10 93.08 L410.60 93.08 L410.60 93.10 L411.10 93.10 L411.10 93.20 L411.60 93.20 L411.60 92.29 L412.10 92.29 L412.10 91.43 L412.60 91.43 L412.60 91.24 L413.10 91.24 L413.10 91.27 L413.60 91.27 L413.60 91.46 L414.10 91.46 L414.10 92.55 L414.60 92.55 L414.40 93.70 Z" fill="#646874"/>
<line x1="204.50" y1="53.30" x2="415.00" y2="53.30" stroke="#333" stroke-width="1.0" />
<line x1="204.50" y1="73.40" x2="415.00" y2="73.40" stroke="#333" stroke-width="1.0" />
<line x1="204.50" y1="94.00" x2="415.00" y2="94.00" stroke="#333" stroke-width="1.0" />
<line x1="204.50" y1="34.30" x2="415.60" y2="34.30" stroke="#111" stroke-width="1.3" />
<line x1="204.50" y1="110.00" x2="415.60" y2="110.00" stroke="#111" stroke-width="1.3" />
<line x1="204.50" y1="34.30" x2="204.50" y2="110.00" stroke="#111" stroke-width="1.3" />
<line x1="415.00" y1="34.30" x2="415.00" y2="110.00" stroke="#111" stroke-width="1.3" />
<line x1="200.60" y1="35.20" x2="204.50" y2="35.20" stroke="#111" stroke-width="1.1" />
<line x1="200.60" y1="55.90" x2="204.50" y2="55.90" stroke="#111" stroke-width="1.1" />
<line x1="200.60" y1="76.30" x2="204.50" y2="76.30" stroke="#111" stroke-width="1.1" />
<text x="197.90" y="38.60" font-size="6.3" fill="#111" stroke="#111" stroke-width="0.080" textLength="6.60" lengthAdjust="spacingAndGlyphs" text-anchor="end" >20</text>
<text x="197.70" y="48.60" font-size="6.0" fill="#111" stroke="#111" stroke-width="0.080" textLength="30.50" lengthAdjust="spacingAndGlyphs" text-anchor="end" >IRF8<tspan font-size="65%" dy="-0.5em">&#8722;</tspan><tspan dy="0.325em"> LMPP</tspan></text>
<text x="197.90" y="58.50" font-size="6.3" fill="#111" stroke="#111" stroke-width="0.080" textLength="6.60" lengthAdjust="spacingAndGlyphs" text-anchor="end" >20</text>
<text x="197.70" y="68.00" font-size="6.0" fill="#111" stroke="#111" stroke-width="0.080" textLength="30.50" lengthAdjust="spacingAndGlyphs" text-anchor="end" >IRF8<tspan font-size="65%" dy="-0.5em">+</tspan><tspan dy="0.325em"> LMPP</tspan></text>
<text x="197.90" y="78.70" font-size="6.3" fill="#111" stroke="#111" stroke-width="0.080" textLength="6.60" lengthAdjust="spacingAndGlyphs" text-anchor="end" >10</text>
<text x="197.30" y="88.50" font-size="6.0" fill="#111" stroke="#111" stroke-width="0.080" textLength="26.20" lengthAdjust="spacingAndGlyphs" text-anchor="end" >H3K4me1</text>
<rect x="368.60" y="36.10" width="9.00" height="58.40" fill="none" stroke="#c4c4e4" stroke-width="0.7" />
<text x="227.30" y="102.80" font-size="5.4" fill="#111" stroke="#111" stroke-width="0.040" textLength="9.20" lengthAdjust="spacingAndGlyphs" font-style="italic" >Jak2</text>
<line x1="240.20" y1="100.90" x2="415.00" y2="100.90" stroke="#111" stroke-width="0.9" />
<line x1="240.20" y1="100.90" x2="244.50" y2="100.90" stroke="#111" stroke-width="1.8" />
<line x1="246.00" y1="100.90" x2="248.50" y2="100.90" stroke="#111" stroke-width="1.8" />
<circle cx="341" cy="101.1" r="1.5" fill="#111"/>
<line x1="240.40" y1="104.90" x2="245.00" y2="104.90" stroke="#111" stroke-width="1.0" />
<path d="M243.0 102.9 L248.4 104.9 L243.0 106.9 Z" fill="#111"/>
<line x1="241.20" y1="103.20" x2="241.20" y2="106.80" stroke="#111" stroke-width="0.6" />
<text x="0" y="0" font-size="8.6" fill="#111" stroke="#111" stroke-width="0.050" textLength="32.60" lengthAdjust="spacingAndGlyphs" transform="translate(155.60 163.40) rotate(-90)">ATAC-seq</text>
<line x1="160.40" y1="127.00" x2="160.40" y2="168.00" stroke="#777" stroke-width="1" />
<text x="204.60" y="123.70" font-size="6.2" fill="#111" stroke="#111" stroke-width="0.080" textLength="81.70" lengthAdjust="spacingAndGlyphs" >chr8:120,717,000-120,772,000</text>
<text x="387.20" y="118.30" font-size="6.2" fill="#111" stroke="#111" stroke-width="0.080" textLength="14.50" lengthAdjust="spacingAndGlyphs" >10 kb</text>
<line x1="375.70" y1="123.60" x2="413.60" y2="123.60" stroke="#666" stroke-width="1.3" />
<line x1="375.90" y1="122.10" x2="375.90" y2="124.90" stroke="#444" stroke-width="0.8" />
<line x1="413.40" y1="122.10" x2="413.40" y2="124.90" stroke="#444" stroke-width="0.8" />
<path d="M205.00 144.60 L205.00 143.85 L205.50 143.85 L205.50 144.41 L206.00 144.41 L206.00 144.60 L206.50 144.60 L206.50 144.60 L207.00 144.60 L207.00 144.60 L207.50 144.60 L207.50 144.60 L208.00 144.60 L208.00 144.60 L208.50 144.60 L208.50 144.60 L209.00 144.60 L209.00 144.60 L209.50 144.60 L209.50 144.60 L210.00 144.60 L210.00 144.60 L210.50 144.60 L210.50 144.60 L211.00 144.60 L211.00 144.30 L211.50 144.30 L211.50 143.47 L212.00 143.47 L212.00 143.47 L212.50 143.47 L212.50 144.24 L213.00 144.24 L213.00 144.60 L213.50 144.60 L213.50 144.60 L214.00 144.60 L214.00 144.60 L214.50 144.60 L214.50 144.60 L215.00 144.60 L215.00 144.60 L215.50 144.60 L215.50 144.60 L216.00 144.60 L216.00 144.60 L216.50 144.60 L216.50 144.60 L217.00 144.60 L217.00 144.60 L217.50 144.60 L217.50 144.60 L218.00 144.60 L218.00 144.60 L218.50 144.60 L218.50 144.60 L219.00 144.60 L219.00 144.60 L219.50 144.60 L219.50 144.60 L220.00 144.60 L220.00 144.60 L220.50 144.60 L220.50 144.60 L221.00 144.60 L221.00 144.60 L221.50 144.60 L221.50 144.60 L222.00 144.60 L222.00 144.60 L222.50 144.60 L222.50 144.60 L223.00 144.60 L223.00 144.60 L223.50 144.60 L223.50 144.60 L224.00 144.60 L224.00 144.60 L224.50 144.60 L224.50 144.60 L225.00 144.60 L225.00 144.60 L225.50 144.60 L225.50 144.60 L226.00 144.60 L226.00 144.60 L226.50 144.60 L226.50 144.60 L227.00 144.60 L227.00 144.60 L227.50 144.60 L227.50 144.60 L228.00 144.60 L228.00 144.60 L228.50 144.60 L228.50 144.60 L229.00 144.60 L229.00 144.60 L229.50 144.60 L229.50 144.60 L230.00 144.60 L230.00 144.60 L230.50 144.60 L230.50 144.60 L231.00 144.60 L231.00 144.60 L231.50 144.60 L231.50 144.60 L232.00 144.60 L232.00 144.22 L232.50 144.22 L232.50 143.10 L233.00 143.10 L233.00 143.10 L233.50 143.10 L233.50 144.21 L234.00 144.21 L234.00 144.60 L234.50 144.60 L234.50 144.60 L235.00 144.60 L235.00 144.60 L235.50 144.60 L235.50 144.60 L236.00 144.60 L236.00 143.36 L236.50 143.36 L236.50 141.09 L237.00 141.09 L237.00 141.09 L237.50 141.09 L237.50 143.64 L238.00 143.64 L238.00 144.60 L238.50 144.60 L238.50 144.60 L239.00 144.60 L239.00 144.60 L239.50 144.60 L239.50 144.60 L240.00 144.60 L240.00 144.60 L240.50 144.60 L240.50 144.60 L241.00 144.60 L241.00 144.31 L241.50 144.31 L241.50 143.47 L242.00 143.47 L242.00 143.47 L242.50 143.47 L242.50 144.29 L243.00 144.29 L243.00 144.60 L243.50 144.60 L243.50 144.60 L244.00 144.60 L244.00 144.60 L244.50 144.60 L244.50 144.60 L245.00 144.60 L245.00 144.60 L245.50 144.60 L245.50 144.60 L246.00 144.60 L246.00 144.60 L246.50 144.60 L246.50 144.60 L247.00 144.60 L247.00 144.60 L247.50 144.60 L247.50 144.60 L248.00 144.60 L248.00 144.60 L248.50 144.60 L248.50 144.60 L249.00 144.60 L249.00 144.60 L249.50 144.60 L249.50 144.60 L250.00 144.60 L250.00 144.60 L250.50 144.60 L250.50 144.60 L251.00 144.60 L251.00 144.60 L251.50 144.60 L251.50 144.60 L252.00 144.60 L252.00 144.60 L252.50 144.60 L252.50 144.60 L253.00 144.60 L253.00 144.60 L253.50 144.60 L253.50 144.60 L254.00 144.60 L254.00 144.60 L254.50 144.60 L254.50 144.60 L255.00 144.60 L255.00 144.60 L255.50 144.60 L255.50 144.60 L256.00 144.60 L256.00 144.60 L256.50 144.60 L256.50 144.60 L257.00 144.60 L257.00 144.60 L257.50 144.60 L257.50 144.60 L258.00 144.60 L258.00 144.60 L258.50 144.60 L258.50 144.60 L259.00 144.60 L259.00 144.60 L259.50 144.60 L259.50 144.60 L260.00 144.60 L260.00 144.60 L260.50 144.60 L260.50 143.43 L261.00 143.43 L261.00 141.64 L261.50 141.64 L261.50 141.64 L262.00 141.64 L262.00 143.84 L262.50 143.84 L262.50 144.60 L263.00 144.60 L263.00 144.60 L263.50 144.60 L263.50 144.60 L264.00 144.60 L264.00 144.60 L264.50 144.60 L264.50 144.60 L265.00 144.60 L265.00 144.60 L265.50 144.60 L265.50 144.60 L266.00 144.60 L266.00 144.60 L266.50 144.60 L266.50 144.60 L267.00 144.60 L267.00 144.34 L267.50 144.34 L267.50 143.47 L268.00 143.47 L268.00 143.47 L268.50 143.47 L268.50 144.38 L269.00 144.38 L269.00 144.60 L269.50 144.60 L269.50 144.60 L270.00 144.60 L270.00 144.60 L270.50 144.60 L270.50 144.60 L271.00 144.60 L271.00 144.60 L271.50 144.60 L271.50 144.60 L272.00 144.60 L272.00 144.60 L272.50 144.60 L272.50 144.60 L273.00 144.60 L273.00 144.60 L273.50 144.60 L273.50 144.60 L274.00 144.60 L274.00 144.60 L274.50 144.60 L274.50 144.60 L275.00 144.60 L275.00 144.60 L275.50 144.60 L275.50 144.60 L276.00 144.60 L276.00 144.60 L276.50 144.60 L276.50 144.60 L277.00 144.60 L277.00 139.38 L277.50 139.38 L277.50 134.50 L278.00 134.50 L278.00 134.50 L278.50 134.50 L278.50 139.68 L279.00 139.68 L279.00 141.14 L279.50 141.14 L279.50 140.26 L280.00 140.26 L280.00 143.39 L280.50 143.39 L280.50 144.60 L281.00 144.60 L281.00 144.60 L281.50 144.60 L281.50 144.60 L282.00 144.60 L282.00 144.60 L282.50 144.60 L282.50 144.60 L283.00 144.60 L283.00 144.60 L283.50 144.60 L283.50 144.60 L284.00 144.60 L284.00 144.60 L284.50 144.60 L284.50 144.60 L285.00 144.60 L285.00 144.60 L285.50 144.60 L285.50 144.60 L286.00 144.60 L286.00 144.60 L286.50 144.60 L286.50 144.60 L287.00 144.60 L287.00 144.60 L287.50 144.60 L287.50 144.60 L288.00 144.60 L288.00 144.60 L288.50 144.60 L288.50 144.60 L289.00 144.60 L289.00 144.60 L289.50 144.60 L289.50 142.07 L290.00 142.07 L290.00 140.59 L290.50 140.59 L290.50 142.46 L291.00 142.46 L291.00 144.60 L291.50 144.60 L291.50 144.60 L292.00 144.60 L292.00 144.60 L292.50 144.60 L292.50 144.60 L293.00 144.60 L293.00 144.60 L293.50 144.60 L293.50 144.60 L294.00 144.60 L294.00 144.60 L294.50 144.60 L294.50 144.60 L295.00 144.60 L295.00 144.60 L295.50 144.60 L295.50 144.60 L296.00 144.60 L296.00 144.60 L296.50 144.60 L296.50 144.60 L297.00 144.60 L297.00 144.60 L297.50 144.60 L297.50 144.60 L298.00 144.60 L298.00 144.60 L298.50 144.60 L298.50 143.50 L299.00 143.50 L299.00 142.70 L299.50 142.70 L299.50 143.71 L300.00 143.71 L300.00 144.60 L300.50 144.60 L300.50 144.60 L301.00 144.60 L301.00 144.60 L301.50 144.60 L301.50 144.60 L302.00 144.60 L302.00 141.64 L302.50 141.64 L302.50 138.64 L303.00 138.64 L303.00 140.60 L303.50 140.60 L303.50 143.32 L304.00 143.32 L304.00 143.21 L304.50 143.21 L304.50 140.54 L305.00 140.54 L305.00 141.27 L305.50 141.27 L305.50 142.93 L306.00 142.93 L306.00 141.78 L306.50 141.78 L306.50 136.93 L307.00 136.93 L307.00 138.04 L307.50 138.04 L307.50 142.19 L308.00 142.19 L308.00 142.35 L308.50 142.35 L308.50 142.35 L309.00 142.35 L309.00 144.18 L309.50 144.18 L309.50 144.60 L310.00 144.60 L310.00 144.60 L310.50 144.60 L310.50 144.60 L311.00 144.60 L311.00 144.60 L311.50 144.60 L311.50 144.60 L312.00 144.60 L312.00 144.60 L312.50 144.60 L312.50 141.35 L313.00 141.35 L313.00 140.35 L313.50 140.35 L313.50 143.27 L314.00 143.27 L314.00 144.60 L314.50 144.60 L314.50 144.60 L315.00 144.60 L315.00 144.60 L315.50 144.60 L315.50 144.60 L316.00 144.60 L316.00 144.60 L316.50 144.60 L316.50 144.09 L317.00 144.09 L317.00 143.18 L317.50 143.18 L317.50 143.77 L318.00 143.77 L318.00 144.60 L318.50 144.60 L318.50 144.60 L319.00 144.60 L319.00 144.60 L319.50 144.60 L319.50 144.60 L320.00 144.60 L320.00 144.60 L320.50 144.60 L320.50 144.60 L321.00 144.60 L321.00 144.60 L321.50 144.60 L321.50 144.60 L322.00 144.60 L322.00 142.53 L322.50 142.53 L322.50 140.74 L323.00 140.74 L323.00 140.09 L323.50 140.09 L323.50 142.34 L324.00 142.34 L324.00 143.55 L324.50 143.55 L324.50 144.60 L325.00 144.60 L325.00 144.60 L325.50 144.60 L325.50 144.60 L326.00 144.60 L326.00 144.60 L326.50 144.60 L326.50 144.60 L327.00 144.60 L327.00 144.60 L327.50 144.60 L327.50 144.60 L328.00 144.60 L328.00 144.60 L328.50 144.60 L328.50 144.60 L329.00 144.60 L329.00 144.60 L329.50 144.60 L329.50 144.60 L330.00 144.60 L330.00 144.31 L330.50 144.31 L330.50 143.47 L331.00 143.47 L331.00 143.47 L331.50 143.47 L331.50 144.28 L332.00 144.28 L332.00 144.60 L332.50 144.60 L332.50 144.60 L333.00 144.60 L333.00 144.60 L333.50 144.60 L333.50 144.60 L334.00 144.60 L334.00 144.60 L334.50 144.60 L334.50 144.60 L335.00 144.60 L335.00 144.60 L335.50 144.60 L335.50 144.60 L336.00 144.60 L336.00 144.60 L336.50 144.60 L336.50 143.68 L337.00 143.68 L337.00 142.67 L337.50 142.67 L337.50 143.24 L338.00 143.24 L338.00 136.67 L338.50 136.67 L338.50 130.23 L339.00 130.23 L339.00 132.80 L339.50 132.80 L339.50 139.25 L340.00 139.25 L340.00 140.76 L340.50 140.76 L340.50 142.02 L341.00 142.02 L341.00 143.73 L341.50 143.73 L341.50 144.60 L342.00 144.60 L342.00 144.60 L342.50 144.60 L342.50 144.60 L343.00 144.60 L343.00 144.60 L343.50 144.60 L343.50 144.60 L344.00 144.60 L344.00 144.60 L344.50 144.60 L344.50 144.60 L345.00 144.60 L345.00 144.60 L345.50 144.60 L345.50 144.60 L346.00 144.60 L346.00 144.60 L346.50 144.60 L346.50 144.60 L347.00 144.60 L347.00 144.60 L347.50 144.60 L347.50 144.60 L348.00 144.60 L348.00 144.60 L348.50 144.60 L348.50 144.60 L349.00 144.60 L349.00 144.60 L349.50 144.60 L349.50 144.60 L350.00 144.60 L350.00 144.60 L350.50 144.60 L350.50 144.60 L351.00 144.60 L351.00 144.23 L351.50 144.23 L351.50 144.00 L352.00 144.00 L352.00 143.29 L352.50 143.29 L352.50 143.29 L353.00 143.29 L353.00 143.98 L353.50 143.98 L353.50 144.29 L354.00 144.29 L354.00 144.60 L354.50 144.60 L354.50 144.60 L355.00 144.60 L355.00 144.60 L355.50 144.60 L355.50 144.60 L356.00 144.60 L356.00 144.60 L356.50 144.60 L356.50 144.60 L357.00 144.60 L357.00 144.60 L357.50 144.60 L357.50 144.60 L358.00 144.60 L358.00 143.86 L358.50 143.86 L358.50 142.12 L359.00 142.12 L359.00 142.12 L359.50 142.12 L359.50 144.00 L360.00 144.00 L360.00 144.60 L360.50 144.60 L360.50 144.60 L361.00 144.60 L361.00 144.60 L361.50 144.60 L361.50 143.34 L362.00 143.34 L362.00 141.75 L362.50 141.75 L362.50 142.95 L363.00 142.95 L363.00 144.60 L363.50 144.60 L363.50 144.60 L364.00 144.60 L364.00 144.60 L364.50 144.60 L364.50 144.60 L365.00 144.60 L365.00 144.60 L365.50 144.60 L365.50 144.60 L366.00 144.60 L366.00 144.60 L366.50 144.60 L366.50 144.60 L367.00 144.60 L367.00 144.60 L367.50 144.60 L367.50 144.60 L368.00 144.60 L368.00 143.95 L368.50 143.95 L368.50 142.70 L369.00 142.70 L369.00 143.50 L369.50 143.50 L369.50 143.02 L370.00 143.02 L370.00 140.69 L370.50 140.69 L370.50 141.61 L371.00 141.61 L371.00 144.60 L371.50 144.60 L371.50 144.60 L372.00 144.60 L372.00 144.60 L372.50 144.60 L372.50 144.60 L373.00 144.60 L373.00 144.60 L373.50 144.60 L373.50 144.60 L374.00 144.60 L374.00 144.60 L374.50 144.60 L374.50 144.60 L375.00 144.60 L375.00 144.60 L375.50 144.60 L375.50 144.60 L376.00 144.60 L376.00 144.60 L376.50 144.60 L376.50 144.60 L377.00 144.60 L377.00 144.60 L377.50 144.60 L377.50 144.60 L378.00 144.60 L378.00 144.60 L378.50 144.60 L378.50 144.60 L379.00 144.60 L379.00 144.60 L379.50 144.60 L379.50 144.60 L380.00 144.60 L380.00 144.60 L380.50 144.60 L380.50 144.60 L381.00 144.60 L381.00 139.47 L381.50 139.47 L381.50 131.90 L382.00 131.90 L382.00 131.90 L382.50 131.90 L382.50 141.57 L383.00 141.57 L383.00 139.82 L383.50 139.82 L383.50 141.59 L384.00 141.59 L384.00 144.60 L384.50 144.60 L384.50 144.60 L385.00 144.60 L385.00 144.60 L385.50 144.60 L385.50 143.57 L386.00 143.57 L386.00 142.81 L386.50 142.81 L386.50 143.10 L387.00 143.10 L387.00 144.00 L387.50 144.00 L387.50 144.60 L388.00 144.60 L388.00 144.60 L388.50 144.60 L388.50 143.72 L389.00 143.72 L389.00 143.48 L389.50 143.48 L389.50 142.42 L390.00 142.42 L390.00 142.42 L390.50 142.42 L390.50 143.71 L391.00 143.71 L391.00 143.86 L391.50 143.86 L391.50 144.60 L392.00 144.60 L392.00 144.60 L392.50 144.60 L392.50 144.60 L393.00 144.60 L393.00 144.60 L393.50 144.60 L393.50 144.60 L394.00 144.60 L394.00 144.60 L394.50 144.60 L394.50 133.33 L395.00 133.33 L395.00 130.46 L395.50 130.46 L395.50 138.34 L396.00 138.34 L396.00 140.26 L396.50 140.26 L396.50 141.14 L397.00 141.14 L397.00 144.60 L397.50 144.60 L397.50 144.60 L398.00 144.60 L398.00 144.60 L398.50 144.60 L398.50 144.60 L399.00 144.60 L399.00 144.60 L399.50 144.60 L399.50 144.60 L400.00 144.60 L400.00 144.60 L400.50 144.60 L400.50 144.60 L401.00 144.60 L401.00 144.60 L401.50 144.60 L401.50 143.30 L402.00 143.30 L402.00 139.95 L402.50 139.95 L402.50 141.90 L403.00 141.90 L403.00 144.60 L403.50 144.60 L403.50 144.60 L404.00 144.60 L404.00 144.60 L404.50 144.60 L404.50 144.60 L405.00 144.60 L405.00 144.60 L405.50 144.60 L405.50 144.60 L406.00 144.60 L406.00 144.60 L406.50 144.60 L406.50 144.60 L407.00 144.60 L407.00 144.60 L407.50 144.60 L407.50 144.60 L408.00 144.60 L408.00 144.60 L408.50 144.60 L408.50 144.60 L409.00 144.60 L409.00 144.60 L409.50 144.60 L409.50 144.60 L410.00 144.60 L410.00 144.60 L410.50 144.60 L410.50 144.60 L411.00 144.60 L411.00 144.60 L411.50 144.60 L411.50 144.60 L412.00 144.60 L412.00 144.60 L412.50 144.60 L412.50 144.60 L413.00 144.60 L413.00 144.60 L413.50 144.60 L413.50 144.60 L414.00 144.60 L414.00 144.60 L414.50 144.60 L414.40 144.60 Z" fill="#76aa5a"/>
<path d="M205.00 165.30 L205.00 165.30 L205.50 165.30 L205.50 165.30 L206.00 165.30 L206.00 165.30 L206.50 165.30 L206.50 165.30 L207.00 165.30 L207.00 165.30 L207.50 165.30 L207.50 165.30 L208.00 165.30 L208.00 165.30 L208.50 165.30 L208.50 165.30 L209.00 165.30 L209.00 165.30 L209.50 165.30 L209.50 165.30 L210.00 165.30 L210.00 165.30 L210.50 165.30 L210.50 165.30 L211.00 165.30 L211.00 164.35 L211.50 164.35 L211.50 161.55 L212.00 161.55 L212.00 161.55 L212.50 161.55 L212.50 164.24 L213.00 164.24 L213.00 165.30 L213.50 165.30 L213.50 165.30 L214.00 165.30 L214.00 165.30 L214.50 165.30 L214.50 160.91 L215.00 160.91 L215.00 153.94 L215.50 153.94 L215.50 151.46 L216.00 151.46 L216.00 160.61 L216.50 160.61 L216.50 159.30 L217.00 159.30 L217.00 159.30 L217.50 159.30 L217.50 163.86 L218.00 163.86 L218.00 165.30 L218.50 165.30 L218.50 165.30 L219.00 165.30 L219.00 165.30 L219.50 165.30 L219.50 165.30 L220.00 165.30 L220.00 165.30 L220.50 165.30 L220.50 165.30 L221.00 165.30 L221.00 165.30 L221.50 165.30 L221.50 165.30 L222.00 165.30 L222.00 165.30 L222.50 165.30 L222.50 165.30 L223.00 165.30 L223.00 165.30 L223.50 165.30 L223.50 165.30 L224.00 165.30 L224.00 165.30 L224.50 165.30 L224.50 165.30 L225.00 165.30 L225.00 165.30 L225.50 165.30 L225.50 165.30 L226.00 165.30 L226.00 165.30 L226.50 165.30 L226.50 165.30 L227.00 165.30 L227.00 165.30 L227.50 165.30 L227.50 165.30 L228.00 165.30 L228.00 165.30 L228.50 165.30 L228.50 165.30 L229.00 165.30 L229.00 165.30 L229.50 165.30 L229.50 165.30 L230.00 165.30 L230.00 165.30 L230.50 165.30 L230.50 165.30 L231.00 165.30 L231.00 165.30 L231.50 165.30 L231.50 165.30 L232.00 165.30 L232.00 165.30 L232.50 165.30 L232.50 165.30 L233.00 165.30 L233.00 165.30 L233.50 165.30 L233.50 165.30 L234.00 165.30 L234.00 165.30 L234.50 165.30 L234.50 165.30 L235.00 165.30 L235.00 165.30 L235.50 165.30 L235.50 159.53 L236.00 159.53 L236.00 149.78 L236.50 149.78 L236.50 152.56 L237.00 152.56 L237.00 160.00 L237.50 160.00 L237.50 159.30 L238.00 159.30 L238.00 159.30 L238.50 159.30 L238.50 163.66 L239.00 163.66 L239.00 162.30 L239.50 162.30 L239.50 162.30 L240.00 162.30 L240.00 164.45 L240.50 164.45 L240.50 165.30 L241.00 165.30 L241.00 165.30 L241.50 165.30 L241.50 165.30 L242.00 165.30 L242.00 165.30 L242.50 165.30 L242.50 165.30 L243.00 165.30 L243.00 165.30 L243.50 165.30 L243.50 165.30 L244.00 165.30 L244.00 165.15 L244.50 165.15 L244.50 164.55 L245.00 164.55 L245.00 164.55 L245.50 164.55 L245.50 165.11 L246.00 165.11 L246.00 165.30 L246.50 165.30 L246.50 165.30 L247.00 165.30 L247.00 165.30 L247.50 165.30 L247.50 165.30 L248.00 165.30 L248.00 165.30 L248.50 165.30 L248.50 165.30 L249.00 165.30 L249.00 165.30 L249.50 165.30 L249.50 165.30 L250.00 165.30 L250.00 165.14 L250.50 165.14 L250.50 164.55 L251.00 164.55 L251.00 164.55 L251.50 164.55 L251.50 165.06 L252.00 165.06 L252.00 165.30 L252.50 165.30 L252.50 165.30 L253.00 165.30 L253.00 165.30 L253.50 165.30 L253.50 165.30 L254.00 165.30 L254.00 165.30 L254.50 165.30 L254.50 165.30 L255.00 165.30 L255.00 165.30 L255.50 165.30 L255.50 165.30 L256.00 165.30 L256.00 165.30 L256.50 165.30 L256.50 165.30 L257.00 165.30 L257.00 165.30 L257.50 165.30 L257.50 165.30 L258.00 165.30 L258.00 165.30 L258.50 165.30 L258.50 165.30 L259.00 165.30 L259.00 165.30 L259.50 165.30 L259.50 165.30 L260.00 165.30 L260.00 165.30 L260.50 165.30 L260.50 165.30 L261.00 165.30 L261.00 165.16 L261.50 165.16 L261.50 164.55 L262.00 164.55 L262.00 164.55 L262.50 164.55 L262.50 165.07 L263.00 165.07 L263.00 165.30 L263.50 165.30 L263.50 165.30 L264.00 165.30 L264.00 165.30 L264.50 165.30 L264.50 165.30 L265.00 165.30 L265.00 165.30 L265.50 165.30 L265.50 165.30 L266.00 165.30 L266.00 165.30 L266.50 165.30 L266.50 165.30 L267.00 165.30 L267.00 165.30 L267.50 165.30 L267.50 165.30 L268.00 165.30 L268.00 165.30 L268.50 165.30 L268.50 165.30 L269.00 165.30 L269.00 165.30 L269.50 165.30 L269.50 165.30 L270.00 165.30 L270.00 165.30 L270.50 165.30 L270.50 165.30 L271.00 165.30 L271.00 165.30 L271.50 165.30 L271.50 165.30 L272.00 165.30 L272.00 165.30 L272.50 165.30 L272.50 165.30 L273.00 165.30 L273.00 165.30 L273.50 165.30 L273.50 165.30 L274.00 165.30 L274.00 165.30 L274.50 165.30 L274.50 165.30 L275.00 165.30 L275.00 165.30 L275.50 165.30 L275.50 165.30 L276.00 165.30 L276.00 165.30 L276.50 165.30 L276.50 165.30 L277.00 165.30 L277.00 161.16 L277.50 161.16 L277.50 151.33 L278.00 151.33 L278.00 151.33 L278.50 151.33 L278.50 159.20 L279.00 159.20 L279.00 160.62 L279.50 160.62 L279.50 160.62 L280.00 160.62 L280.00 163.81 L280.50 163.81 L280.50 165.30 L281.00 165.30 L281.00 165.30 L281.50 165.30 L281.50 165.30 L282.00 165.30 L282.00 165.30 L282.50 165.30 L282.50 164.33 L283.00 164.33 L283.00 164.02 L283.50 164.02 L283.50 164.81 L284.00 164.81 L284.00 165.30 L284.50 165.30 L284.50 165.30 L285.00 165.30 L285.00 165.30 L285.50 165.30 L285.50 165.30 L286.00 165.30 L286.00 165.30 L286.50 165.30 L286.50 165.30 L287.00 165.30 L287.00 165.16 L287.50 165.16 L287.50 164.55 L288.00 164.55 L288.00 164.55 L288.50 164.55 L288.50 165.16 L289.00 165.16 L289.00 165.30 L289.50 165.30 L289.50 165.30 L290.00 165.30 L290.00 165.30 L290.50 165.30 L290.50 165.30 L291.00 165.30 L291.00 165.30 L291.50 165.30 L291.50 165.30 L292.00 165.30 L292.00 165.30 L292.50 165.30 L292.50 165.30 L293.00 165.30 L293.00 165.30 L293.50 165.30 L293.50 165.30 L294.00 165.30 L294.00 165.30 L294.50 165.30 L294.50 165.30 L295.00 165.30 L295.00 164.65 L295.50 164.65 L295.50 163.88 L296.00 163.88 L296.00 164.47 L296.50 164.47 L296.50 165.30 L297.00 165.30 L297.00 165.30 L297.50 165.30 L297.50 165.30 L298.00 165.30 L298.00 165.30 L298.50 165.30 L298.50 165.30 L299.00 165.30 L299.00 165.30 L299.50 165.30 L299.50 165.30 L300.00 165.30 L300.00 165.30 L300.50 165.30 L300.50 165.30 L301.00 165.30 L301.00 165.30 L301.50 165.30 L301.50 165.30 L302.00 165.30 L302.00 165.30 L302.50 165.30 L302.50 165.30 L303.00 165.30 L303.00 165.30 L303.50 165.30 L303.50 165.30 L304.00 165.30 L304.00 165.30 L304.50 165.30 L304.50 165.30 L305.00 165.30 L305.00 165.30 L305.50 165.30 L305.50 165.30 L306.00 165.30 L306.00 162.66 L306.50 162.66 L306.50 157.05 L307.00 157.05 L307.00 159.00 L307.50 159.00 L307.50 164.35 L308.00 164.35 L308.00 161.39 L308.50 161.39 L308.50 162.31 L309.00 162.31 L309.00 165.30 L309.50 165.30 L309.50 165.30 L310.00 165.30 L310.00 165.30 L310.50 165.30 L310.50 165.30 L311.00 165.30 L311.00 165.30 L311.50 165.30 L311.50 165.30 L312.00 165.30 L312.00 165.30 L312.50 165.30 L312.50 164.20 L313.00 164.20 L313.00 163.40 L313.50 163.40 L313.50 164.41 L314.00 164.41 L314.00 165.30 L314.50 165.30 L314.50 165.30 L315.00 165.30 L315.00 165.30 L315.50 165.30 L315.50 165.30 L316.00 165.30 L316.00 165.30 L316.50 165.30 L316.50 165.30 L317.00 165.30 L317.00 165.06 L317.50 165.06 L317.50 164.55 L318.00 164.55 L318.00 164.55 L318.50 164.55 L318.50 165.15 L319.00 165.15 L319.00 165.30 L319.50 165.30 L319.50 165.30 L320.00 165.30 L320.00 165.30 L320.50 165.30 L320.50 165.30 L321.00 165.30 L321.00 165.30 L321.50 165.30 L321.50 165.30 L322.00 165.30 L322.00 165.30 L322.50 165.30 L322.50 163.68 L323.00 163.68 L323.00 163.17 L323.50 163.17 L323.50 164.65 L324.00 164.65 L324.00 165.30 L324.50 165.30 L324.50 165.30 L325.00 165.30 L325.00 165.30 L325.50 165.30 L325.50 165.30 L326.00 165.30 L326.00 165.30 L326.50 165.30 L326.50 165.30 L327.00 165.30 L327.00 162.31 L327.50 162.31 L327.50 161.39 L328.00 161.39 L328.00 164.32 L328.50 164.32 L328.50 165.30 L329.00 165.30 L329.00 165.30 L329.50 165.30 L329.50 165.30 L330.00 165.30 L330.00 165.30 L330.50 165.30 L330.50 165.30 L331.00 165.30 L331.00 165.30 L331.50 165.30 L331.50 163.11 L332.00 163.11 L332.00 159.92 L332.50 159.92 L332.50 161.69 L333.00 161.69 L333.00 164.14 L333.50 164.14 L333.50 165.30 L334.00 165.30 L334.00 165.30 L334.50 165.30 L334.50 165.30 L335.00 165.30 L335.00 165.30 L335.50 165.30 L335.50 165.30 L336.00 165.30 L336.00 165.30 L336.50 165.30 L336.50 165.30 L337.00 165.30 L337.00 164.10 L337.50 164.10 L337.50 161.23 L338.00 161.23 L338.00 159.51 L338.50 159.51 L338.50 162.15 L339.00 162.15 L339.00 165.30 L339.50 165.30 L339.50 165.30 L340.00 165.30 L340.00 165.30 L340.50 165.30 L340.50 165.30 L341.00 165.30 L341.00 164.49 L341.50 164.49 L341.50 162.31 L342.00 162.31 L342.00 161.06 L342.50 161.06 L342.50 163.62 L343.00 163.62 L343.00 165.30 L343.50 165.30 L343.50 165.30 L344.00 165.30 L344.00 165.30 L344.50 165.30 L344.50 165.30 L345.00 165.30 L345.00 165.30 L345.50 165.30 L345.50 165.30 L346.00 165.30 L346.00 165.30 L346.50 165.30 L346.50 165.30 L347.00 165.30 L347.00 164.22 L347.50 164.22 L347.50 161.78 L348.00 161.78 L348.00 161.78 L348.50 161.78 L348.50 164.44 L349.00 164.44 L349.00 163.74 L349.50 163.74 L349.50 160.84 L350.00 160.84 L350.00 162.71 L350.50 162.71 L350.50 165.30 L351.00 165.30 L351.00 165.30 L351.50 165.30 L351.50 165.30 L352.00 165.30 L352.00 165.30 L352.50 165.30 L352.50 165.30 L353.00 165.30 L353.00 165.30 L353.50 165.30 L353.50 165.30 L354.00 165.30 L354.00 165.30 L354.50 165.30 L354.50 165.30 L355.00 165.30 L355.00 165.30 L355.50 165.30 L355.50 165.30 L356.00 165.30 L356.00 165.30 L356.50 165.30 L356.50 165.30 L357.00 165.30 L357.00 165.30 L357.50 165.30 L357.50 165.30 L358.00 165.30 L358.00 163.68 L358.50 163.68 L358.50 163.17 L359.00 163.17 L359.00 164.58 L359.50 164.58 L359.50 165.30 L360.00 165.30 L360.00 165.30 L360.50 165.30 L360.50 165.30 L361.00 165.30 L361.00 165.30 L361.50 165.30 L361.50 165.30 L362.00 165.30 L362.00 165.30 L362.50 165.30 L362.50 165.30 L363.00 165.30 L363.00 165.30 L363.50 165.30 L363.50 165.30 L364.00 165.30 L364.00 165.30 L364.50 165.30 L364.50 165.30 L365.00 165.30 L365.00 165.30 L365.50 165.30 L365.50 165.30 L366.00 165.30 L366.00 165.30 L366.50 165.30 L366.50 165.30 L367.00 165.30 L367.00 165.30 L367.50 165.30 L367.50 165.30 L368.00 165.30 L368.00 164.96 L368.50 164.96 L368.50 164.35 L369.00 164.35 L369.00 164.75 L369.50 164.75 L369.50 163.15 L370.00 163.15 L370.00 158.07 L370.50 158.07 L370.50 159.78 L371.00 159.78 L371.00 165.30 L371.50 165.30 L371.50 165.30 L372.00 165.30 L372.00 165.30 L372.50 165.30 L372.50 165.30 L373.00 165.30 L373.00 165.30 L373.50 165.30 L373.50 165.30 L374.00 165.30 L374.00 165.30 L374.50 165.30 L374.50 165.30 L375.00 165.30 L375.00 165.30 L375.50 165.30 L375.50 165.30 L376.00 165.30 L376.00 164.65 L376.50 164.65 L376.50 164.45 L377.00 164.45 L377.00 165.10 L377.50 165.10 L377.50 165.30 L378.00 165.30 L378.00 165.30 L378.50 165.30 L378.50 165.30 L379.00 165.30 L379.00 165.30 L379.50 165.30 L379.50 165.30 L380.00 165.30 L380.00 165.30 L380.50 165.30 L380.50 165.30 L381.00 165.30 L381.00 160.35 L381.50 160.35 L381.50 152.28 L382.00 152.28 L382.00 152.28 L382.50 152.28 L382.50 159.73 L383.00 159.73 L383.00 165.30 L383.50 165.30 L383.50 165.30 L384.00 165.30 L384.00 165.30 L384.50 165.30 L384.50 165.30 L385.00 165.30 L385.00 165.30 L385.50 165.30 L385.50 164.95 L386.00 164.95 L386.00 164.45 L386.50 164.45 L386.50 164.65 L387.00 164.65 L387.00 165.30 L387.50 165.30 L387.50 165.30 L388.00 165.30 L388.00 165.30 L388.50 165.30 L388.50 165.30 L389.00 165.30 L389.00 165.30 L389.50 165.30 L389.50 165.30 L390.00 165.30 L390.00 165.30 L390.50 165.30 L390.50 165.30 L391.00 165.30 L391.00 165.30 L391.50 165.30 L391.50 164.20 L392.00 164.20 L392.00 161.95 L392.50 161.95 L392.50 160.31 L393.00 160.31 L393.00 163.21 L393.50 163.21 L393.50 165.30 L394.00 165.30 L394.00 165.30 L394.50 165.30 L394.50 153.20 L395.00 153.20 L395.00 150.12 L395.50 150.12 L395.50 159.98 L396.00 159.98 L396.00 161.83 L396.50 161.83 L396.50 162.54 L397.00 162.54 L397.00 165.30 L397.50 165.30 L397.50 165.30 L398.00 165.30 L398.00 165.30 L398.50 165.30 L398.50 165.30 L399.00 165.30 L399.00 165.30 L399.50 165.30 L399.50 165.30 L400.00 165.30 L400.00 165.30 L400.50 165.30 L400.50 163.83 L401.00 163.83 L401.00 163.19 L401.50 163.19 L401.50 160.01 L402.00 160.01 L402.00 158.58 L402.50 158.58 L402.50 160.36 L403.00 160.36 L403.00 163.23 L403.50 163.23 L403.50 165.30 L404.00 165.30 L404.00 165.30 L404.50 165.30 L404.50 165.30 L405.00 165.30 L405.00 165.30 L405.50 165.30 L405.50 165.30 L406.00 165.30 L406.00 165.30 L406.50 165.30 L406.50 165.30 L407.00 165.30 L407.00 165.30 L407.50 165.30 L407.50 165.30 L408.00 165.30 L408.00 165.30 L408.50 165.30 L408.50 165.30 L409.00 165.30 L409.00 165.30 L409.50 165.30 L409.50 165.30 L410.00 165.30 L410.00 165.30 L410.50 165.30 L410.50 165.30 L411.00 165.30 L411.00 165.30 L411.50 165.30 L411.50 165.30 L412.00 165.30 L412.00 165.30 L412.50 165.30 L412.50 165.30 L413.00 165.30 L413.00 165.30 L413.50 165.30 L413.50 165.30 L414.00 165.30 L414.00 165.30 L414.50 165.30 L414.40 165.30 Z" fill="#9e1c32"/>
<path d="M205.00 185.50 L205.00 178.10 L205.50 178.10 L205.50 182.01 L206.00 182.01 L206.00 181.73 L206.50 181.73 L206.50 180.88 L207.00 180.88 L207.00 183.31 L207.50 183.31 L207.50 183.87 L208.00 183.87 L208.00 183.75 L208.50 183.75 L208.50 183.91 L209.00 183.91 L209.00 182.70 L209.50 182.70 L209.50 182.53 L210.00 182.53 L210.00 183.25 L210.50 183.25 L210.50 183.86 L211.00 183.86 L211.00 183.91 L211.50 183.91 L211.50 183.41 L212.00 183.41 L212.00 182.72 L212.50 182.72 L212.50 182.80 L213.00 182.80 L213.00 182.57 L213.50 182.57 L213.50 182.15 L214.00 182.15 L214.00 182.28 L214.50 182.28 L214.50 181.62 L215.00 181.62 L215.00 181.20 L215.50 181.20 L215.50 182.77 L216.00 182.77 L216.00 183.53 L216.50 183.53 L216.50 183.35 L217.00 183.35 L217.00 182.61 L217.50 182.61 L217.50 183.13 L218.00 183.13 L218.00 183.13 L218.50 183.13 L218.50 183.69 L219.00 183.69 L219.00 183.15 L219.50 183.15 L219.50 181.96 L220.00 181.96 L220.00 181.82 L220.50 181.82 L220.50 182.34 L221.00 182.34 L221.00 183.60 L221.50 183.60 L221.50 183.51 L222.00 183.51 L222.00 184.04 L222.50 184.04 L222.50 182.90 L223.00 182.90 L223.00 183.36 L223.50 183.36 L223.50 183.58 L224.00 183.58 L224.00 183.66 L224.50 183.66 L224.50 183.41 L225.00 183.41 L225.00 183.25 L225.50 183.25 L225.50 183.92 L226.00 183.92 L226.00 183.55 L226.50 183.55 L226.50 183.83 L227.00 183.83 L227.00 183.56 L227.50 183.56 L227.50 182.67 L228.00 182.67 L228.00 180.77 L228.50 180.77 L228.50 180.90 L229.00 180.90 L229.00 182.45 L229.50 182.45 L229.50 184.30 L230.00 184.30 L230.00 184.33 L230.50 184.33 L230.50 183.20 L231.00 183.20 L231.00 183.35 L231.50 183.35 L231.50 183.31 L232.00 183.31 L232.00 184.10 L232.50 184.10 L232.50 182.11 L233.00 182.11 L233.00 179.60 L233.50 179.60 L233.50 178.52 L234.00 178.52 L234.00 179.53 L234.50 179.53 L234.50 181.88 L235.00 181.88 L235.00 183.07 L235.50 183.07 L235.50 182.59 L236.00 182.59 L236.00 182.79 L236.50 182.79 L236.50 181.80 L237.00 181.80 L237.00 177.64 L237.50 177.64 L237.50 176.61 L238.00 176.61 L238.00 180.79 L238.50 180.79 L238.50 179.83 L239.00 179.83 L239.00 179.25 L239.50 179.25 L239.50 180.87 L240.00 180.87 L240.00 182.34 L240.50 182.34 L240.50 182.92 L241.00 182.92 L241.00 183.05 L241.50 183.05 L241.50 183.09 L242.00 183.09 L242.00 184.21 L242.50 184.21 L242.50 183.64 L243.00 183.64 L243.00 183.48 L243.50 183.48 L243.50 183.24 L244.00 183.24 L244.00 184.26 L244.50 184.26 L244.50 183.75 L245.00 183.75 L245.00 183.85 L245.50 183.85 L245.50 183.67 L246.00 183.67 L246.00 182.46 L246.50 182.46 L246.50 181.88 L247.00 181.88 L247.00 181.54 L247.50 181.54 L247.50 181.90 L248.00 181.90 L248.00 180.98 L248.50 180.98 L248.50 183.00 L249.00 183.00 L249.00 183.51 L249.50 183.51 L249.50 183.34 L250.00 183.34 L250.00 183.37 L250.50 183.37 L250.50 183.70 L251.00 183.70 L251.00 184.12 L251.50 184.12 L251.50 183.88 L252.00 183.88 L252.00 184.10 L252.50 184.10 L252.50 183.32 L253.00 183.32 L253.00 183.09 L253.50 183.09 L253.50 183.53 L254.00 183.53 L254.00 183.40 L254.50 183.40 L254.50 183.58 L255.00 183.58 L255.00 183.50 L255.50 183.50 L255.50 183.42 L256.00 183.42 L256.00 183.33 L256.50 183.33 L256.50 183.34 L257.00 183.34 L257.00 183.42 L257.50 183.42 L257.50 183.72 L258.00 183.72 L258.00 183.54 L258.50 183.54 L258.50 182.83 L259.00 182.83 L259.00 182.60 L259.50 182.60 L259.50 183.30 L260.00 183.30 L260.00 184.16 L260.50 184.16 L260.50 184.11 L261.00 184.11 L261.00 184.29 L261.50 184.29 L261.50 183.00 L262.00 183.00 L262.00 182.26 L262.50 182.26 L262.50 181.79 L263.00 181.79 L263.00 181.96 L263.50 181.96 L263.50 182.49 L264.00 182.49 L264.00 183.65 L264.50 183.65 L264.50 183.77 L265.00 183.77 L265.00 183.57 L265.50 183.57 L265.50 183.21 L266.00 183.21 L266.00 183.75 L266.50 183.75 L266.50 183.37 L267.00 183.37 L267.00 183.65 L267.50 183.65 L267.50 183.66 L268.00 183.66 L268.00 182.94 L268.50 182.94 L268.50 183.05 L269.00 183.05 L269.00 183.09 L269.50 183.09 L269.50 182.95 L270.00 182.95 L270.00 183.11 L270.50 183.11 L270.50 182.66 L271.00 182.66 L271.00 182.21 L271.50 182.21 L271.50 181.75 L272.00 181.75 L272.00 182.14 L272.50 182.14 L272.50 181.94 L273.00 181.94 L273.00 181.95 L273.50 181.95 L273.50 182.43 L274.00 182.43 L274.00 182.60 L274.50 182.60 L274.50 180.93 L275.00 180.93 L275.00 176.13 L275.50 176.13 L275.50 175.75 L276.00 175.75 L276.00 176.34 L276.50 176.34 L276.50 179.73 L277.00 179.73 L277.00 180.23 L277.50 180.23 L277.50 180.45 L278.00 180.45 L278.00 180.65 L278.50 180.65 L278.50 181.68 L279.00 181.68 L279.00 182.34 L279.50 182.34 L279.50 181.71 L280.00 181.71 L280.00 182.29 L280.50 182.29 L280.50 182.71 L281.00 182.71 L281.00 183.31 L281.50 183.31 L281.50 182.34 L282.00 182.34 L282.00 182.62 L282.50 182.62 L282.50 182.66 L283.00 182.66 L283.00 181.44 L283.50 181.44 L283.50 181.20 L284.00 181.20 L284.00 181.09 L284.50 181.09 L284.50 181.69 L285.00 181.69 L285.00 183.45 L285.50 183.45 L285.50 183.86 L286.00 183.86 L286.00 184.18 L286.50 184.18 L286.50 181.97 L287.00 181.97 L287.00 180.58 L287.50 180.58 L287.50 179.49 L288.00 179.49 L288.00 179.29 L288.50 179.29 L288.50 179.01 L289.00 179.01 L289.00 179.40 L289.50 179.40 L289.50 181.04 L290.00 181.04 L290.00 181.92 L290.50 181.92 L290.50 183.29 L291.00 183.29 L291.00 183.52 L291.50 183.52 L291.50 183.01 L292.00 183.01 L292.00 183.15 L292.50 183.15 L292.50 182.30 L293.00 182.30 L293.00 182.50 L293.50 182.50 L293.50 182.23 L294.00 182.23 L294.00 181.59 L294.50 181.59 L294.50 182.15 L295.00 182.15 L295.00 182.07 L295.50 182.07 L295.50 181.83 L296.00 181.83 L296.00 182.34 L296.50 182.34 L296.50 183.13 L297.00 183.13 L297.00 182.79 L297.50 182.79 L297.50 182.10 L298.00 182.10 L298.00 181.89 L298.50 181.89 L298.50 181.57 L299.00 181.57 L299.00 182.31 L299.50 182.31 L299.50 182.57 L300.00 182.57 L300.00 183.63 L300.50 183.63 L300.50 183.57 L301.00 183.57 L301.00 182.94 L301.50 182.94 L301.50 182.31 L302.00 182.31 L302.00 180.28 L302.50 180.28 L302.50 180.11 L303.00 180.11 L303.00 179.56 L303.50 179.56 L303.50 179.54 L304.00 179.54 L304.00 179.85 L304.50 179.85 L304.50 180.71 L305.00 180.71 L305.00 178.53 L305.50 178.53 L305.50 175.77 L306.00 175.77 L306.00 174.32 L306.50 174.32 L306.50 173.46 L307.00 173.46 L307.00 174.12 L307.50 174.12 L307.50 177.01 L308.00 177.01 L308.00 180.01 L308.50 180.01 L308.50 179.35 L309.00 179.35 L309.00 180.21 L309.50 180.21 L309.50 182.61 L310.00 182.61 L310.00 182.35 L310.50 182.35 L310.50 181.36 L311.00 181.36 L311.00 180.93 L311.50 180.93 L311.50 181.19 L312.00 181.19 L312.00 181.65 L312.50 181.65 L312.50 182.02 L313.00 182.02 L313.00 179.98 L313.50 179.98 L313.50 180.00 L314.00 180.00 L314.00 179.85 L314.50 179.85 L314.50 180.69 L315.00 180.69 L315.00 182.39 L315.50 182.39 L315.50 182.70 L316.00 182.70 L316.00 182.50 L316.50 182.50 L316.50 182.34 L317.00 182.34 L317.00 182.46 L317.50 182.46 L317.50 183.16 L318.00 183.16 L318.00 181.89 L318.50 181.89 L318.50 181.71 L319.00 181.71 L319.00 181.01 L319.50 181.01 L319.50 180.82 L320.00 180.82 L320.00 180.58 L320.50 180.58 L320.50 181.14 L321.00 181.14 L321.00 181.28 L321.50 181.28 L321.50 182.03 L322.00 182.03 L322.00 181.49 L322.50 181.49 L322.50 180.12 L323.00 180.12 L323.00 179.59 L323.50 179.59 L323.50 180.20 L324.00 180.20 L324.00 180.22 L324.50 180.22 L324.50 181.12 L325.00 181.12 L325.00 182.30 L325.50 182.30 L325.50 182.75 L326.00 182.75 L326.00 183.00 L326.50 183.00 L326.50 182.97 L327.00 182.97 L327.00 182.97 L327.50 182.97 L327.50 183.45 L328.00 183.45 L328.00 181.60 L328.50 181.60 L328.50 181.17 L329.00 181.17 L329.00 181.16 L329.50 181.16 L329.50 181.48 L330.00 181.48 L330.00 182.93 L330.50 182.93 L330.50 183.59 L331.00 183.59 L331.00 183.37 L331.50 183.37 L331.50 183.46 L332.00 183.46 L332.00 183.51 L332.50 183.51 L332.50 183.82 L333.00 183.82 L333.00 184.14 L333.50 184.14 L333.50 181.00 L334.00 181.00 L334.00 177.01 L334.50 177.01 L334.50 175.26 L335.00 175.26 L335.00 177.39 L335.50 177.39 L335.50 180.17 L336.00 180.17 L336.00 178.92 L336.50 178.92 L336.50 178.38 L337.00 178.38 L337.00 176.99 L337.50 176.99 L337.50 177.31 L338.00 177.31 L338.00 178.11 L338.50 178.11 L338.50 179.40 L339.00 179.40 L339.00 179.95 L339.50 179.95 L339.50 180.24 L340.00 180.24 L340.00 181.08 L340.50 181.08 L340.50 182.39 L341.00 182.39 L341.00 182.17 L341.50 182.17 L341.50 181.95 L342.00 181.95 L342.00 182.08 L342.50 182.08 L342.50 182.25 L343.00 182.25 L343.00 181.85 L343.50 181.85 L343.50 182.44 L344.00 182.44 L344.00 182.24 L344.50 182.24 L344.50 182.90 L345.00 182.90 L345.00 183.22 L345.50 183.22 L345.50 183.83 L346.00 183.83 L346.00 183.37 L346.50 183.37 L346.50 183.72 L347.00 183.72 L347.00 183.95 L347.50 183.95 L347.50 183.04 L348.00 183.04 L348.00 184.06 L348.50 184.06 L348.50 183.51 L349.00 183.51 L349.00 184.24 L349.50 184.24 L349.50 183.76 L350.00 183.76 L350.00 183.39 L350.50 183.39 L350.50 183.47 L351.00 183.47 L351.00 182.84 L351.50 182.84 L351.50 182.84 L352.00 182.84 L352.00 182.65 L352.50 182.65 L352.50 182.94 L353.00 182.94 L353.00 182.72 L353.50 182.72 L353.50 182.04 L354.00 182.04 L354.00 182.24 L354.50 182.24 L354.50 182.03 L355.00 182.03 L355.00 181.26 L355.50 181.26 L355.50 181.39 L356.00 181.39 L356.00 181.07 L356.50 181.07 L356.50 181.15 L357.00 181.15 L357.00 178.01 L357.50 178.01 L357.50 177.14 L358.00 177.14 L358.00 180.05 L358.50 180.05 L358.50 181.89 L359.00 181.89 L359.00 181.33 L359.50 181.33 L359.50 181.89 L360.00 181.89 L360.00 180.77 L360.50 180.77 L360.50 178.89 L361.00 178.89 L361.00 180.05 L361.50 180.05 L361.50 181.66 L362.00 181.66 L362.00 182.04 L362.50 182.04 L362.50 181.80 L363.00 181.80 L363.00 181.90 L363.50 181.90 L363.50 181.58 L364.00 181.58 L364.00 181.58 L364.50 181.58 L364.50 181.58 L365.00 181.58 L365.00 180.80 L365.50 180.80 L365.50 181.45 L366.00 181.45 L366.00 181.84 L366.50 181.84 L366.50 179.68 L367.00 179.68 L367.00 179.52 L367.50 179.52 L367.50 180.19 L368.00 180.19 L368.00 180.67 L368.50 180.67 L368.50 178.71 L369.00 178.71 L369.00 179.15 L369.50 179.15 L369.50 179.36 L370.00 179.36 L370.00 179.71 L370.50 179.71 L370.50 178.62 L371.00 178.62 L371.00 172.51 L371.50 172.51 L371.50 170.58 L372.00 170.58 L372.00 171.78 L372.50 171.78 L372.50 176.16 L373.00 176.16 L373.00 178.24 L373.50 178.24 L373.50 178.78 L374.00 178.78 L374.00 177.69 L374.50 177.69 L374.50 179.49 L375.00 179.49 L375.00 180.94 L375.50 180.94 L375.50 180.92 L376.00 180.92 L376.00 180.72 L376.50 180.72 L376.50 180.65 L377.00 180.65 L377.00 179.93 L377.50 179.93 L377.50 175.89 L378.00 175.89 L378.00 173.32 L378.50 173.32 L378.50 173.28 L379.00 173.28 L379.00 175.19 L379.50 175.19 L379.50 179.74 L380.00 179.74 L380.00 177.72 L380.50 177.72 L380.50 177.28 L381.00 177.28 L381.00 178.94 L381.50 178.94 L381.50 180.13 L382.00 180.13 L382.00 181.42 L382.50 181.42 L382.50 180.48 L383.00 180.48 L383.00 179.88 L383.50 179.88 L383.50 181.34 L384.00 181.34 L384.00 181.78 L384.50 181.78 L384.50 181.09 L385.00 181.09 L385.00 181.02 L385.50 181.02 L385.50 181.57 L386.00 181.57 L386.00 175.92 L386.50 175.92 L386.50 173.43 L387.00 173.43 L387.00 174.78 L387.50 174.78 L387.50 181.34 L388.00 181.34 L388.00 181.78 L388.50 181.78 L388.50 181.37 L389.00 181.37 L389.00 181.84 L389.50 181.84 L389.50 181.95 L390.00 181.95 L390.00 180.59 L390.50 180.59 L390.50 179.24 L391.00 179.24 L391.00 179.57 L391.50 179.57 L391.50 180.27 L392.00 180.27 L392.00 176.25 L392.50 176.25 L392.50 174.64 L393.00 174.64 L393.00 175.78 L393.50 175.78 L393.50 177.56 L394.00 177.56 L394.00 172.13 L394.50 172.13 L394.50 170.50 L395.00 170.50 L395.00 168.15 L395.50 168.15 L395.50 173.83 L396.00 173.83 L396.00 177.96 L396.50 177.96 L396.50 177.39 L397.00 177.39 L397.00 177.85 L397.50 177.85 L397.50 179.18 L398.00 179.18 L398.00 176.15 L398.50 176.15 L398.50 171.75 L399.00 171.75 L399.00 173.20 L399.50 173.20 L399.50 175.57 L400.00 175.57 L400.00 179.37 L400.50 179.37 L400.50 178.22 L401.00 178.22 L401.00 178.75 L401.50 178.75 L401.50 178.40 L402.00 178.40 L402.00 178.93 L402.50 178.93 L402.50 179.82 L403.00 179.82 L403.00 180.70 L403.50 180.70 L403.50 179.29 L404.00 179.29 L404.00 178.02 L404.50 178.02 L404.50 172.07 L405.00 172.07 L405.00 170.06 L405.50 170.06 L405.50 173.33 L406.00 173.33 L406.00 178.97 L406.50 178.97 L406.50 178.01 L407.00 178.01 L407.00 177.89 L407.50 177.89 L407.50 179.06 L408.00 179.06 L408.00 181.05 L408.50 181.05 L408.50 181.13 L409.00 181.13 L409.00 180.49 L409.50 180.49 L409.50 180.26 L410.00 180.26 L410.00 180.31 L410.50 180.31 L410.50 180.15 L411.00 180.15 L411.00 180.32 L411.50 180.32 L411.50 181.56 L412.00 181.56 L412.00 181.15 L412.50 181.15 L412.50 181.87 L413.00 181.87 L413.00 181.75 L413.50 181.75 L413.50 181.94 L414.00 181.94 L414.00 182.29 L414.50 182.29 L414.40 185.50 Z" fill="#646874"/>
<line x1="204.00" y1="144.60" x2="415.00" y2="144.60" stroke="#333" stroke-width="1.0" />
<line x1="204.00" y1="165.30" x2="415.00" y2="165.30" stroke="#333" stroke-width="1.0" />
<line x1="204.00" y1="185.80" x2="415.00" y2="185.80" stroke="#333" stroke-width="1.0" />
<line x1="204.00" y1="126.70" x2="415.60" y2="126.70" stroke="#111" stroke-width="1.3" />
<line x1="204.00" y1="201.80" x2="415.60" y2="201.80" stroke="#111" stroke-width="1.3" />
<line x1="204.00" y1="126.70" x2="204.00" y2="201.80" stroke="#111" stroke-width="1.3" />
<line x1="415.00" y1="126.70" x2="415.00" y2="201.80" stroke="#111" stroke-width="1.3" />
<line x1="200.60" y1="126.90" x2="204.00" y2="126.90" stroke="#111" stroke-width="1.1" />
<line x1="200.60" y1="147.60" x2="204.00" y2="147.60" stroke="#111" stroke-width="1.1" />
<line x1="200.60" y1="167.90" x2="204.00" y2="167.90" stroke="#111" stroke-width="1.1" />
<text x="198.60" y="129.50" font-size="6.3" fill="#111" stroke="#111" stroke-width="0.080" textLength="6.40" lengthAdjust="spacingAndGlyphs" text-anchor="end" >12</text>
<text x="197.80" y="138.60" font-size="6.0" fill="#111" stroke="#111" stroke-width="0.080" textLength="30.50" lengthAdjust="spacingAndGlyphs" text-anchor="end" >IRF8<tspan font-size="65%" dy="-0.5em">&#8722;</tspan><tspan dy="0.325em"> LMPP</tspan></text>
<text x="198.60" y="150.30" font-size="6.3" fill="#111" stroke="#111" stroke-width="0.080" textLength="6.40" lengthAdjust="spacingAndGlyphs" text-anchor="end" >12</text>
<text x="197.80" y="159.00" font-size="6.0" fill="#111" stroke="#111" stroke-width="0.080" textLength="30.50" lengthAdjust="spacingAndGlyphs" text-anchor="end" >IRF8<tspan font-size="65%" dy="-0.5em">+</tspan><tspan dy="0.325em"> LMPP</tspan></text>
<text x="198.60" y="170.50" font-size="6.3" fill="#111" stroke="#111" stroke-width="0.080" textLength="6.60" lengthAdjust="spacingAndGlyphs" text-anchor="end" >10</text>
<text x="197.50" y="179.30" font-size="6.0" fill="#111" stroke="#111" stroke-width="0.080" textLength="26.40" lengthAdjust="spacingAndGlyphs" text-anchor="end" >H3K4me1</text>
<rect x="212.30" y="127.20" width="6.30" height="60.10" fill="none" stroke="#c4c4e4" stroke-width="0.7" />
<rect x="234.50" y="127.20" width="5.70" height="60.10" fill="none" stroke="#c4c4e4" stroke-width="0.7" />
<rect x="391.80" y="127.40" width="5.60" height="59.60" fill="none" stroke="#f2d2a0" stroke-width="0.7" />
<text x="268.50" y="193.50" font-size="5.4" fill="#111" stroke="#111" stroke-width="0.040" textLength="8.00" lengthAdjust="spacingAndGlyphs" font-style="italic" >Irf8</text>
<line x1="278.60" y1="192.00" x2="356.30" y2="192.00" stroke="#111" stroke-width="0.8" />
<line x1="292.20" y1="190.60" x2="292.20" y2="193.40" stroke="#111" stroke-width="0.9" />
<line x1="307.00" y1="190.60" x2="307.00" y2="193.40" stroke="#111" stroke-width="0.9" />
<line x1="314.60" y1="190.60" x2="314.60" y2="193.40" stroke="#111" stroke-width="0.9" />
<line x1="320.30" y1="190.60" x2="320.30" y2="193.40" stroke="#111" stroke-width="0.9" />
<line x1="324.50" y1="190.60" x2="324.50" y2="193.40" stroke="#111" stroke-width="0.9" />
<line x1="343.60" y1="190.60" x2="343.60" y2="193.40" stroke="#111" stroke-width="0.9" />
<line x1="345.70" y1="190.60" x2="345.70" y2="193.40" stroke="#111" stroke-width="0.9" />
<line x1="347.80" y1="192.00" x2="356.30" y2="192.00" stroke="#111" stroke-width="1.8" />
<line x1="278.80" y1="196.30" x2="283.00" y2="196.30" stroke="#111" stroke-width="1.0" />
<path d="M281.2 194.3 L286.6 196.3 L281.2 198.3 Z" fill="#111"/>
<text x="7.70" y="225.20" font-size="11" fill="#111" stroke="#111" stroke-width="0.050" textLength="6.60" lengthAdjust="spacingAndGlyphs" >C</text>
<text x="65.80" y="231.20" font-size="8.2" fill="#111" stroke="#111" stroke-width="0.050" textLength="93.40" lengthAdjust="spacingAndGlyphs" >IRF8<tspan font-size="65%" dy="-0.5em">&#8722;</tspan><tspan dy="0.325em"> LMPP-specific peaks</tspan></text>
<text x="40.40" y="249.40" font-size="6.0" fill="#111" stroke="#111" stroke-width="0.080" textLength="38.80" lengthAdjust="spacingAndGlyphs" >De novo motif</text>
<text x="98.10" y="249.60" font-size="6.0" fill="#111" stroke="#111" stroke-width="0.080" textLength="19.60" lengthAdjust="spacingAndGlyphs" >P-value</text>
<text x="123.50" y="241.20" font-size="6.0" fill="#111" stroke="#111" stroke-width="0.080" textLength="32.30" lengthAdjust="spacingAndGlyphs" >% of targets</text>
<text x="128.00" y="249.60" font-size="6.0" fill="#111" stroke="#111" stroke-width="0.080" textLength="24.30" lengthAdjust="spacingAndGlyphs" >(% of Bg)</text>
<text x="168.50" y="241.30" font-size="6.0" fill="#111" stroke="#111" stroke-width="0.080" textLength="11.50" lengthAdjust="spacingAndGlyphs" >Best</text>
<text x="162.00" y="249.60" font-size="6.0" fill="#111" stroke="#111" stroke-width="0.080" textLength="24.90" lengthAdjust="spacingAndGlyphs" >match TF</text>
<text x="215.90" y="225.80" font-size="7.8" fill="#111" stroke="#111" stroke-width="0.050" textLength="105.80" lengthAdjust="spacingAndGlyphs" >Peaks common to IRF8<tspan font-size="65%" dy="-0.5em">&#8722;</tspan><tspan dy="0.325em"> LMPP</tspan></text>
<text x="241.00" y="236.00" font-size="7.8" fill="#111" stroke="#111" stroke-width="0.050" textLength="57.90" lengthAdjust="spacingAndGlyphs" >and IRF8<tspan font-size="65%" dy="-0.5em">+</tspan><tspan dy="0.325em"> LMPP</tspan></text>
<text x="379.70" y="230.80" font-size="8.2" fill="#111" stroke="#111" stroke-width="0.050" textLength="93.00" lengthAdjust="spacingAndGlyphs" >IRF8<tspan font-size="65%" dy="-0.5em">+</tspan><tspan dy="0.325em"> LMPP-specific peaks</tspan></text>
<text x="0" y="0" font-size="8.4" fill="#111" stroke="#111" stroke-width="0.050" textLength="19.50" lengthAdjust="spacingAndGlyphs" transform="translate(13.40 308.20) rotate(-90)">Score</text>
<text x="0" y="0" font-size="1" font-weight="bold" fill="#1e9f46" stroke="#1e9f46" stroke-width="0.45" vector-effect="non-scaling-stroke" transform="matrix(7.006 0 0 0.581 34.98 269.30)">A</text>
<text x="0" y="0" font-size="1" font-weight="bold" fill="#1e9f46" stroke="#1e9f46" stroke-width="0.45" vector-effect="non-scaling-stroke" transform="matrix(8.496 0 0 0.727 47.94 269.30)">A</text>
<text x="0" y="0" font-size="1" font-weight="bold" fill="#f0a81e" stroke="#f0a81e" stroke-width="0.45" vector-effect="non-scaling-stroke" transform="matrix(8.891 0 0 5.791 54.09 269.24)">G</text>
<text x="0" y="0" font-size="1" font-weight="bold" fill="#f0a81e" stroke="#f0a81e" stroke-width="0.45" vector-effect="non-scaling-stroke" transform="matrix(8.891 0 0 5.791 60.39 269.24)">G</text>
<text x="0" y="0" font-size="1" font-weight="bold" fill="#1e9f46" stroke="#1e9f46" stroke-width="0.45" vector-effect="non-scaling-stroke" transform="matrix(7.453 0 0 3.634 67.26 269.30)">A</text>
<text x="0" y="0" font-size="1" font-weight="bold" fill="#1e9f46" stroke="#1e9f46" stroke-width="0.45" vector-effect="non-scaling-stroke" transform="matrix(9.092 0 0 6.686 72.72 269.30)">A</text>
<text x="0" y="0" font-size="1" font-weight="bold" fill="#f0a81e" stroke="#f0a81e" stroke-width="0.45" vector-effect="non-scaling-stroke" transform="matrix(9.188 0 0 2.260 79.27 269.28)">G</text>
<text x="0" y="0" font-size="1" font-weight="bold" fill="#c83030" stroke="#c83030" stroke-width="0.45" vector-effect="non-scaling-stroke" transform="matrix(9.680 0 0 0.872 86.04 269.30)">T</text>
<line x1="28.60" y1="255.20" x2="28.60" y2="270.60" stroke="#111" stroke-width="1.2" />
<line x1="28.00" y1="270.10" x2="92.30" y2="270.10" stroke="#111" stroke-width="1.15" />
<line x1="25.30" y1="270.00" x2="28.60" y2="270.00" stroke="#111" stroke-width="0.9" />
<line x1="25.30" y1="263.80" x2="28.60" y2="263.80" stroke="#111" stroke-width="0.9" />
<line x1="25.30" y1="257.60" x2="28.60" y2="257.60" stroke="#111" stroke-width="0.9" />
<text x="20.50" y="271.90" font-size="5.4" fill="#111" stroke="#111" stroke-width="0.040" text-anchor="middle" >0</text>
<text x="20.50" y="265.70" font-size="5.4" fill="#111" stroke="#111" stroke-width="0.040" text-anchor="middle" >1</text>
<text x="20.50" y="259.50" font-size="5.4" fill="#111" stroke="#111" stroke-width="0.040" text-anchor="middle" >2</text>
<text x="0" y="0" font-size="1" font-weight="bold" fill="#33207a" stroke="#33207a" stroke-width="0.45" vector-effect="non-scaling-stroke" transform="matrix(7.571 0 0 14.407 28.84 292.26)">C</text>
<text x="0" y="0" font-size="1" font-weight="bold" fill="#33207a" stroke="#33207a" stroke-width="0.45" vector-effect="non-scaling-stroke" transform="matrix(7.571 0 0 14.407 34.09 292.26)">C</text>
<text x="0" y="0" font-size="1" font-weight="bold" fill="#1e9f46" stroke="#1e9f46" stroke-width="0.45" vector-effect="non-scaling-stroke" transform="matrix(7.378 0 0 7.268 39.47 292.40)">A</text>
<text x="0" y="0" font-size="1" font-weight="bold" fill="#33207a" stroke="#33207a" stroke-width="0.45" vector-effect="non-scaling-stroke" transform="matrix(7.571 0 0 7.062 44.59 292.33)">C</text>
<text x="0" y="0" font-size="1" font-weight="bold" fill="#c83030" stroke="#c83030" stroke-width="0.45" vector-effect="non-scaling-stroke" transform="matrix(8.406 0 0 0.872 50.06 292.40)">T</text>
<text x="0" y="0" font-size="1" font-weight="bold" fill="#1e9f46" stroke="#1e9f46" stroke-width="0.45" vector-effect="non-scaling-stroke" transform="matrix(7.378 0 0 0.872 49.97 291.80)">A</text>
<text x="0" y="0" font-size="1" font-weight="bold" fill="#1e9f46" stroke="#1e9f46" stroke-width="0.45" vector-effect="non-scaling-stroke" transform="matrix(7.378 0 0 11.047 55.22 292.40)">A</text>
<text x="0" y="0" font-size="1" font-weight="bold" fill="#f0a81e" stroke="#f0a81e" stroke-width="0.45" vector-effect="non-scaling-stroke" transform="matrix(7.335 0 0 16.384 60.35 292.24)">G</text>
<text x="0" y="0" font-size="1" font-weight="bold" fill="#1e9f46" stroke="#1e9f46" stroke-width="0.45" vector-effect="non-scaling-stroke" transform="matrix(7.378 0 0 1.744 65.72 292.40)">A</text>
<text x="0" y="0" font-size="1" font-weight="bold" fill="#f0a81e" stroke="#f0a81e" stroke-width="0.45" vector-effect="non-scaling-stroke" transform="matrix(7.335 0 0 4.802 65.60 291.15)">G</text>
<text x="0" y="0" font-size="1" font-weight="bold" fill="#c83030" stroke="#c83030" stroke-width="0.45" vector-effect="non-scaling-stroke" transform="matrix(8.406 0 0 1.744 71.06 292.40)">T</text>
<text x="0" y="0" font-size="1" font-weight="bold" fill="#f0a81e" stroke="#f0a81e" stroke-width="0.45" vector-effect="non-scaling-stroke" transform="matrix(7.335 0 0 4.802 70.85 291.15)">G</text>
<text x="0" y="0" font-size="1" font-weight="bold" fill="#f0a81e" stroke="#f0a81e" stroke-width="0.45" vector-effect="non-scaling-stroke" transform="matrix(7.335 0 0 16.384 76.10 292.24)">G</text>
<text x="0" y="0" font-size="1" font-weight="bold" fill="#f0a81e" stroke="#f0a81e" stroke-width="0.45" vector-effect="non-scaling-stroke" transform="matrix(7.335 0 0 6.215 81.35 292.34)">G</text>
<text x="0" y="0" font-size="1" font-weight="bold" fill="#33207a" stroke="#33207a" stroke-width="0.45" vector-effect="non-scaling-stroke" transform="matrix(7.571 0 0 10.876 86.59 292.29)">C</text>
<line x1="28.60" y1="278.30" x2="28.60" y2="293.70" stroke="#111" stroke-width="1.2" />
<line x1="28.00" y1="293.20" x2="92.30" y2="293.20" stroke="#111" stroke-width="1.15" />
<line x1="25.30" y1="293.10" x2="28.60" y2="293.10" stroke="#111" stroke-width="0.9" />
<line x1="25.30" y1="286.90" x2="28.60" y2="286.90" stroke="#111" stroke-width="0.9" />
<line x1="25.30" y1="280.70" x2="28.60" y2="280.70" stroke="#111" stroke-width="0.9" />
<text x="20.50" y="295.00" font-size="5.4" fill="#111" stroke="#111" stroke-width="0.040" text-anchor="middle" >0</text>
<text x="20.50" y="288.80" font-size="5.4" fill="#111" stroke="#111" stroke-width="0.040" text-anchor="middle" >1</text>
<text x="20.50" y="282.60" font-size="5.4" fill="#111" stroke="#111" stroke-width="0.040" text-anchor="middle" >2</text>
<text x="0" y="0" font-size="1" font-weight="bold" fill="#c83030" stroke="#c83030" stroke-width="0.45" vector-effect="non-scaling-stroke" transform="matrix(8.406 0 0 4.070 29.06 315.50)">T</text>
<text x="0" y="0" font-size="1" font-weight="bold" fill="#f0a81e" stroke="#f0a81e" stroke-width="0.45" vector-effect="non-scaling-stroke" transform="matrix(7.335 0 0 3.107 34.10 315.47)">G</text>
<text x="0" y="0" font-size="1" font-weight="bold" fill="#c83030" stroke="#c83030" stroke-width="0.45" vector-effect="non-scaling-stroke" transform="matrix(8.406 0 0 2.180 39.56 315.50)">T</text>
<text x="0" y="0" font-size="1" font-weight="bold" fill="#c83030" stroke="#c83030" stroke-width="0.45" vector-effect="non-scaling-stroke" transform="matrix(8.406 0 0 1.744 44.81 315.50)">T</text>
<text x="0" y="0" font-size="1" font-weight="bold" fill="#f0a81e" stroke="#f0a81e" stroke-width="0.45" vector-effect="non-scaling-stroke" transform="matrix(7.335 0 0 14.124 49.85 315.36)">G</text>
<text x="0" y="0" font-size="1" font-weight="bold" fill="#33207a" stroke="#33207a" stroke-width="0.45" vector-effect="non-scaling-stroke" transform="matrix(7.571 0 0 1.412 55.09 315.49)">C</text>
<text x="0" y="0" font-size="1" font-weight="bold" fill="#f0a81e" stroke="#f0a81e" stroke-width="0.45" vector-effect="non-scaling-stroke" transform="matrix(7.335 0 0 7.062 55.10 314.43)">G</text>
<text x="0" y="0" font-size="1" font-weight="bold" fill="#c83030" stroke="#c83030" stroke-width="0.45" vector-effect="non-scaling-stroke" transform="matrix(8.406 0 0 2.180 60.56 315.50)">T</text>
<text x="0" y="0" font-size="1" font-weight="bold" fill="#1e9f46" stroke="#1e9f46" stroke-width="0.45" vector-effect="non-scaling-stroke" transform="matrix(7.378 0 0 0.727 65.72 315.50)">A</text>
<text x="0" y="0" font-size="1" font-weight="bold" fill="#f0a81e" stroke="#f0a81e" stroke-width="0.45" vector-effect="non-scaling-stroke" transform="matrix(7.335 0 0 0.565 70.85 315.49)">G</text>
<text x="0" y="0" font-size="1" font-weight="bold" fill="#c83030" stroke="#c83030" stroke-width="0.45" vector-effect="non-scaling-stroke" transform="matrix(8.406 0 0 1.163 76.31 315.50)">T</text>
<text x="0" y="0" font-size="1" font-weight="bold" fill="#1e9f46" stroke="#1e9f46" stroke-width="0.45" vector-effect="non-scaling-stroke" transform="matrix(7.378 0 0 0.581 81.47 315.50)">A</text>
<line x1="28.60" y1="301.40" x2="28.60" y2="316.80" stroke="#111" stroke-width="1.2" />
<line x1="28.00" y1="316.30" x2="92.30" y2="316.30" stroke="#111" stroke-width="1.15" />
<line x1="25.30" y1="316.20" x2="28.60" y2="316.20" stroke="#111" stroke-width="0.9" />
<line x1="25.30" y1="310.00" x2="28.60" y2="310.00" stroke="#111" stroke-width="0.9" />
<line x1="25.30" y1="303.80" x2="28.60" y2="303.80" stroke="#111" stroke-width="0.9" />
<text x="20.50" y="318.10" font-size="5.4" fill="#111" stroke="#111" stroke-width="0.040" text-anchor="middle" >0</text>
<text x="20.50" y="311.90" font-size="5.4" fill="#111" stroke="#111" stroke-width="0.040" text-anchor="middle" >1</text>
<text x="20.50" y="305.70" font-size="5.4" fill="#111" stroke="#111" stroke-width="0.040" text-anchor="middle" >2</text>
<text x="0" y="0" font-size="1" font-weight="bold" fill="#1e9f46" stroke="#1e9f46" stroke-width="0.45" vector-effect="non-scaling-stroke" transform="matrix(7.378 0 0 0.581 28.97 338.60)">A</text>
<text x="0" y="0" font-size="1" font-weight="bold" fill="#1e9f46" stroke="#1e9f46" stroke-width="0.45" vector-effect="non-scaling-stroke" transform="matrix(7.378 0 0 2.907 34.22 338.60)">A</text>
<text x="0" y="0" font-size="1" font-weight="bold" fill="#c83030" stroke="#c83030" stroke-width="0.45" vector-effect="non-scaling-stroke" transform="matrix(8.406 0 0 17.733 39.56 338.60)">T</text>
<text x="0" y="0" font-size="1" font-weight="bold" fill="#f0a81e" stroke="#f0a81e" stroke-width="0.45" vector-effect="non-scaling-stroke" transform="matrix(7.335 0 0 17.231 44.60 338.43)">G</text>
<text x="0" y="0" font-size="1" font-weight="bold" fill="#1e9f46" stroke="#1e9f46" stroke-width="0.45" vector-effect="non-scaling-stroke" transform="matrix(7.378 0 0 17.733 49.97 338.60)">A</text>
<text x="0" y="0" font-size="1" font-weight="bold" fill="#33207a" stroke="#33207a" stroke-width="0.45" vector-effect="non-scaling-stroke" transform="matrix(7.571 0 0 3.390 55.09 338.57)">C</text>
<text x="0" y="0" font-size="1" font-weight="bold" fill="#c83030" stroke="#c83030" stroke-width="0.45" vector-effect="non-scaling-stroke" transform="matrix(8.406 0 0 11.047 60.56 338.60)">T</text>
<text x="0" y="0" font-size="1" font-weight="bold" fill="#33207a" stroke="#33207a" stroke-width="0.45" vector-effect="non-scaling-stroke" transform="matrix(7.571 0 0 3.390 65.59 338.57)">C</text>
<text x="0" y="0" font-size="1" font-weight="bold" fill="#1e9f46" stroke="#1e9f46" stroke-width="0.45" vector-effect="non-scaling-stroke" transform="matrix(7.378 0 0 9.302 70.97 338.60)">A</text>
<text x="0" y="0" font-size="1" font-weight="bold" fill="#f0a81e" stroke="#f0a81e" stroke-width="0.45" vector-effect="non-scaling-stroke" transform="matrix(7.335 0 0 4.237 76.10 338.56)">G</text>
<text x="0" y="0" font-size="1" font-weight="bold" fill="#33207a" stroke="#33207a" stroke-width="0.45" vector-effect="non-scaling-stroke" transform="matrix(7.571 0 0 9.887 81.34 338.50)">C</text>
<text x="0" y="0" font-size="1" font-weight="bold" fill="#1e9f46" stroke="#1e9f46" stroke-width="0.45" vector-effect="non-scaling-stroke" transform="matrix(7.378 0 0 4.361 86.72 338.60)">A</text>
<line x1="28.60" y1="324.50" x2="28.60" y2="339.90" stroke="#111" stroke-width="1.2" />
<line x1="28.00" y1="339.40" x2="92.30" y2="339.40" stroke="#111" stroke-width="1.15" />
<line x1="25.30" y1="339.30" x2="28.60" y2="339.30" stroke="#111" stroke-width="0.9" />
<line x1="25.30" y1="333.10" x2="28.60" y2="333.10" stroke="#111" stroke-width="0.9" />
<line x1="25.30" y1="326.90" x2="28.60" y2="326.90" stroke="#111" stroke-width="0.9" />
<text x="20.50" y="341.20" font-size="5.4" fill="#111" stroke="#111" stroke-width="0.040" text-anchor="middle" >0</text>
<text x="20.50" y="335.00" font-size="5.4" fill="#111" stroke="#111" stroke-width="0.040" text-anchor="middle" >1</text>
<text x="20.50" y="328.80" font-size="5.4" fill="#111" stroke="#111" stroke-width="0.040" text-anchor="middle" >2</text>
<text x="0" y="0" font-size="1" font-weight="bold" fill="#1e9f46" stroke="#1e9f46" stroke-width="0.45" vector-effect="non-scaling-stroke" transform="matrix(7.751 0 0 0.727 195.46 269.30)">A</text>
<text x="0" y="0" font-size="1" font-weight="bold" fill="#f0a81e" stroke="#f0a81e" stroke-width="0.45" vector-effect="non-scaling-stroke" transform="matrix(8.447 0 0 0.565 200.80 269.29)">G</text>
<text x="0" y="0" font-size="1" font-weight="bold" fill="#c83030" stroke="#c83030" stroke-width="0.45" vector-effect="non-scaling-stroke" transform="matrix(9.680 0 0 0.581 207.04 269.30)">T</text>
<text x="0" y="0" font-size="1" font-weight="bold" fill="#1e9f46" stroke="#1e9f46" stroke-width="0.45" vector-effect="non-scaling-stroke" transform="matrix(7.900 0 0 3.779 214.45 269.30)">A</text>
<text x="0" y="0" font-size="1" font-weight="bold" fill="#f0a81e" stroke="#f0a81e" stroke-width="0.45" vector-effect="non-scaling-stroke" transform="matrix(8.595 0 0 16.102 219.90 269.14)">G</text>
<text x="0" y="0" font-size="1" font-weight="bold" fill="#f0a81e" stroke="#f0a81e" stroke-width="0.45" vector-effect="non-scaling-stroke" transform="matrix(8.002 0 0 16.102 226.02 269.14)">G</text>
<text x="0" y="0" font-size="1" font-weight="bold" fill="#1e9f46" stroke="#1e9f46" stroke-width="0.45" vector-effect="non-scaling-stroke" transform="matrix(9.241 0 0 17.151 231.82 269.30)">A</text>
<text x="0" y="0" font-size="1" font-weight="bold" fill="#1e9f46" stroke="#1e9f46" stroke-width="0.45" vector-effect="non-scaling-stroke" transform="matrix(10.285 0 0 13.372 238.29 269.30)">A</text>
<text x="0" y="0" font-size="1" font-weight="bold" fill="#f0a81e" stroke="#f0a81e" stroke-width="0.45" vector-effect="non-scaling-stroke" transform="matrix(7.558 0 0 4.237 245.44 269.26)">G</text>
<text x="0" y="0" font-size="1" font-weight="bold" fill="#c83030" stroke="#c83030" stroke-width="0.45" vector-effect="non-scaling-stroke" transform="matrix(11.378 0 0 3.634 251.02 269.30)">T</text>
<line x1="194.20" y1="255.20" x2="194.20" y2="270.60" stroke="#111" stroke-width="1.2" />
<line x1="193.60" y1="270.10" x2="258.30" y2="270.10" stroke="#111" stroke-width="1.15" />
<line x1="190.90" y1="270.00" x2="194.20" y2="270.00" stroke="#111" stroke-width="0.9" />
<line x1="190.90" y1="263.80" x2="194.20" y2="263.80" stroke="#111" stroke-width="0.9" />
<line x1="190.90" y1="257.60" x2="194.20" y2="257.60" stroke="#111" stroke-width="0.9" />
<text x="0" y="0" font-size="1" font-weight="bold" fill="#33207a" stroke="#33207a" stroke-width="0.45" vector-effect="non-scaling-stroke" transform="matrix(8.106 0 0 0.565 195.82 292.39)">C</text>
<text x="0" y="0" font-size="1" font-weight="bold" fill="#c83030" stroke="#c83030" stroke-width="0.45" vector-effect="non-scaling-stroke" transform="matrix(9.000 0 0 0.581 196.05 292.00)">T</text>
<text x="0" y="0" font-size="1" font-weight="bold" fill="#c83030" stroke="#c83030" stroke-width="0.45" vector-effect="non-scaling-stroke" transform="matrix(6.793 0 0 7.849 201.87 292.10)">T</text>
<text x="0" y="0" font-size="1" font-weight="bold" fill="#f0a81e" stroke="#f0a81e" stroke-width="0.45" vector-effect="non-scaling-stroke" transform="matrix(9.336 0 0 16.666 206.07 292.24)">G</text>
<text x="0" y="0" font-size="1" font-weight="bold" fill="#c83030" stroke="#c83030" stroke-width="0.45" vector-effect="non-scaling-stroke" transform="matrix(8.491 0 0 7.849 213.35 292.40)">T</text>
<text x="0" y="0" font-size="1" font-weight="bold" fill="#f0a81e" stroke="#f0a81e" stroke-width="0.45" vector-effect="non-scaling-stroke" transform="matrix(8.595 0 0 16.666 219.30 292.24)">G</text>
<text x="0" y="0" font-size="1" font-weight="bold" fill="#f0a81e" stroke="#f0a81e" stroke-width="0.45" vector-effect="non-scaling-stroke" transform="matrix(8.743 0 0 16.666 225.49 292.24)">G</text>
<text x="0" y="0" font-size="1" font-weight="bold" fill="#c83030" stroke="#c83030" stroke-width="0.45" vector-effect="non-scaling-stroke" transform="matrix(10.529 0 0 12.064 231.93 292.40)">T</text>
<text x="0" y="0" font-size="1" font-weight="bold" fill="#c83030" stroke="#c83030" stroke-width="0.45" vector-effect="non-scaling-stroke" transform="matrix(7.981 0 0 2.035 240.06 292.40)">T</text>
<text x="0" y="0" font-size="1" font-weight="bold" fill="#c83030" stroke="#c83030" stroke-width="0.45" vector-effect="non-scaling-stroke" transform="matrix(7.132 0 0 1.454 247.57 292.40)">T</text>
<line x1="194.20" y1="278.30" x2="194.20" y2="293.70" stroke="#111" stroke-width="1.2" />
<line x1="193.60" y1="293.20" x2="258.30" y2="293.20" stroke="#111" stroke-width="1.15" />
<line x1="190.90" y1="293.10" x2="194.20" y2="293.10" stroke="#111" stroke-width="0.9" />
<line x1="190.90" y1="286.90" x2="194.20" y2="286.90" stroke="#111" stroke-width="0.9" />
<line x1="190.90" y1="280.70" x2="194.20" y2="280.70" stroke="#111" stroke-width="0.9" />
<text x="0" y="0" font-size="1" font-weight="bold" fill="#33207a" stroke="#33207a" stroke-width="0.45" vector-effect="non-scaling-stroke" transform="matrix(7.635 0 0 17.514 194.84 315.33)">C</text>
<text x="0" y="0" font-size="1" font-weight="bold" fill="#33207a" stroke="#33207a" stroke-width="0.45" vector-effect="non-scaling-stroke" transform="matrix(7.635 0 0 17.514 200.13 315.33)">C</text>
<text x="0" y="0" font-size="1" font-weight="bold" fill="#1e9f46" stroke="#1e9f46" stroke-width="0.45" vector-effect="non-scaling-stroke" transform="matrix(7.440 0 0 18.024 205.55 315.50)">A</text>
<text x="0" y="0" font-size="1" font-weight="bold" fill="#33207a" stroke="#33207a" stroke-width="0.45" vector-effect="non-scaling-stroke" transform="matrix(7.635 0 0 17.514 210.71 315.33)">C</text>
<text x="0" y="0" font-size="1" font-weight="bold" fill="#33207a" stroke="#33207a" stroke-width="0.45" vector-effect="non-scaling-stroke" transform="matrix(7.635 0 0 0.847 216.00 315.49)">C</text>
<text x="0" y="0" font-size="1" font-weight="bold" fill="#1e9f46" stroke="#1e9f46" stroke-width="0.45" vector-effect="non-scaling-stroke" transform="matrix(7.440 0 0 0.872 216.13 314.90)">A</text>
<text x="0" y="0" font-size="1" font-weight="bold" fill="#c83030" stroke="#c83030" stroke-width="0.45" vector-effect="non-scaling-stroke" transform="matrix(8.477 0 0 5.523 216.22 314.30)">T</text>
<text x="0" y="0" font-size="1" font-weight="bold" fill="#1e9f46" stroke="#1e9f46" stroke-width="0.45" vector-effect="non-scaling-stroke" transform="matrix(7.440 0 0 18.024 221.42 315.50)">A</text>
<text x="0" y="0" font-size="1" font-weight="bold" fill="#f0a81e" stroke="#f0a81e" stroke-width="0.45" vector-effect="non-scaling-stroke" transform="matrix(7.397 0 0 17.514 226.60 315.33)">G</text>
<text x="0" y="0" font-size="1" font-weight="bold" fill="#1e9f46" stroke="#1e9f46" stroke-width="0.45" vector-effect="non-scaling-stroke" transform="matrix(7.440 0 0 0.872 232.01 315.50)">A</text>
<text x="0" y="0" font-size="1" font-weight="bold" fill="#f0a81e" stroke="#f0a81e" stroke-width="0.45" vector-effect="non-scaling-stroke" transform="matrix(7.397 0 0 8.474 231.89 314.82)">G</text>
<text x="0" y="0" font-size="1" font-weight="bold" fill="#1e9f46" stroke="#1e9f46" stroke-width="0.45" vector-effect="non-scaling-stroke" transform="matrix(7.440 0 0 0.872 237.30 315.50)">A</text>
<text x="0" y="0" font-size="1" font-weight="bold" fill="#f0a81e" stroke="#f0a81e" stroke-width="0.45" vector-effect="non-scaling-stroke" transform="matrix(7.397 0 0 8.474 237.18 314.82)">G</text>
<text x="0" y="0" font-size="1" font-weight="bold" fill="#f0a81e" stroke="#f0a81e" stroke-width="0.45" vector-effect="non-scaling-stroke" transform="matrix(7.397 0 0 17.514 242.47 315.33)">G</text>
<text x="0" y="0" font-size="1" font-weight="bold" fill="#f0a81e" stroke="#f0a81e" stroke-width="0.45" vector-effect="non-scaling-stroke" transform="matrix(7.397 0 0 17.514 247.76 315.33)">G</text>
<text x="0" y="0" font-size="1" font-weight="bold" fill="#33207a" stroke="#33207a" stroke-width="0.45" vector-effect="non-scaling-stroke" transform="matrix(7.635 0 0 17.514 253.05 315.33)">C</text>
<line x1="194.20" y1="301.40" x2="194.20" y2="316.80" stroke="#111" stroke-width="1.2" />
<line x1="193.60" y1="316.30" x2="258.30" y2="316.30" stroke="#111" stroke-width="1.15" />
<line x1="190.90" y1="316.20" x2="194.20" y2="316.20" stroke="#111" stroke-width="0.9" />
<line x1="190.90" y1="310.00" x2="194.20" y2="310.00" stroke="#111" stroke-width="0.9" />
<line x1="190.90" y1="303.80" x2="194.20" y2="303.80" stroke="#111" stroke-width="0.9" />
<text x="0" y="0" font-size="1" font-weight="bold" fill="#1e9f46" stroke="#1e9f46" stroke-width="0.45" vector-effect="non-scaling-stroke" transform="matrix(7.440 0 0 4.361 194.96 338.60)">A</text>
<text x="0" y="0" font-size="1" font-weight="bold" fill="#1e9f46" stroke="#1e9f46" stroke-width="0.45" vector-effect="non-scaling-stroke" transform="matrix(7.440 0 0 14.826 200.26 338.60)">A</text>
<text x="0" y="0" font-size="1" font-weight="bold" fill="#1e9f46" stroke="#1e9f46" stroke-width="0.45" vector-effect="non-scaling-stroke" transform="matrix(7.440 0 0 14.826 205.55 338.60)">A</text>
<text x="0" y="0" font-size="1" font-weight="bold" fill="#1e9f46" stroke="#1e9f46" stroke-width="0.45" vector-effect="non-scaling-stroke" transform="matrix(7.440 0 0 14.826 210.84 338.60)">A</text>
<text x="0" y="0" font-size="1" font-weight="bold" fill="#f0a81e" stroke="#f0a81e" stroke-width="0.45" vector-effect="non-scaling-stroke" transform="matrix(7.397 0 0 17.231 216.01 338.43)">G</text>
<text x="0" y="0" font-size="1" font-weight="bold" fill="#33207a" stroke="#33207a" stroke-width="0.45" vector-effect="non-scaling-stroke" transform="matrix(7.635 0 0 12.006 221.30 338.48)">C</text>
<text x="0" y="0" font-size="1" font-weight="bold" fill="#1e9f46" stroke="#1e9f46" stroke-width="0.45" vector-effect="non-scaling-stroke" transform="matrix(7.440 0 0 17.151 226.71 338.60)">A</text>
<text x="0" y="0" font-size="1" font-weight="bold" fill="#f0a81e" stroke="#f0a81e" stroke-width="0.45" vector-effect="non-scaling-stroke" transform="matrix(7.397 0 0 17.231 231.89 338.43)">G</text>
<text x="0" y="0" font-size="1" font-weight="bold" fill="#1e9f46" stroke="#1e9f46" stroke-width="0.45" vector-effect="non-scaling-stroke" transform="matrix(7.440 0 0 17.151 237.30 338.60)">A</text>
<text x="0" y="0" font-size="1" font-weight="bold" fill="#1e9f46" stroke="#1e9f46" stroke-width="0.45" vector-effect="non-scaling-stroke" transform="matrix(7.440 0 0 14.826 242.59 338.60)">A</text>
<text x="0" y="0" font-size="1" font-weight="bold" fill="#f0a81e" stroke="#f0a81e" stroke-width="0.45" vector-effect="non-scaling-stroke" transform="matrix(7.397 0 0 8.474 247.76 338.52)">G</text>
<text x="0" y="0" font-size="1" font-weight="bold" fill="#c83030" stroke="#c83030" stroke-width="0.45" vector-effect="non-scaling-stroke" transform="matrix(8.477 0 0 11.628 253.26 338.60)">T</text>
<line x1="194.20" y1="324.50" x2="194.20" y2="339.90" stroke="#111" stroke-width="1.2" />
<line x1="193.60" y1="339.40" x2="258.30" y2="339.40" stroke="#111" stroke-width="1.15" />
<line x1="190.90" y1="339.30" x2="194.20" y2="339.30" stroke="#111" stroke-width="0.9" />
<line x1="190.90" y1="333.10" x2="194.20" y2="333.10" stroke="#111" stroke-width="0.9" />
<line x1="190.90" y1="326.90" x2="194.20" y2="326.90" stroke="#111" stroke-width="0.9" />
<text x="0" y="0" font-size="1" font-weight="bold" fill="#1e9f46" stroke="#1e9f46" stroke-width="0.45" vector-effect="non-scaling-stroke" transform="matrix(7.316 0 0 1.163 355.47 269.30)">A</text>
<text x="0" y="0" font-size="1" font-weight="bold" fill="#1e9f46" stroke="#1e9f46" stroke-width="0.45" vector-effect="non-scaling-stroke" transform="matrix(7.316 0 0 3.488 360.68 269.30)">A</text>
<text x="0" y="0" font-size="1" font-weight="bold" fill="#1e9f46" stroke="#1e9f46" stroke-width="0.45" vector-effect="non-scaling-stroke" transform="matrix(7.316 0 0 3.488 365.88 269.30)">A</text>
<text x="0" y="0" font-size="1" font-weight="bold" fill="#f0a81e" stroke="#f0a81e" stroke-width="0.45" vector-effect="non-scaling-stroke" transform="matrix(7.274 0 0 1.412 370.98 269.29)">G</text>
<text x="0" y="0" font-size="1" font-weight="bold" fill="#1e9f46" stroke="#1e9f46" stroke-width="0.45" vector-effect="non-scaling-stroke" transform="matrix(7.316 0 0 10.175 376.30 269.30)">A</text>
<text x="0" y="0" font-size="1" font-weight="bold" fill="#f0a81e" stroke="#f0a81e" stroke-width="0.45" vector-effect="non-scaling-stroke" transform="matrix(7.274 0 0 15.537 381.39 269.15)">G</text>
<text x="0" y="0" font-size="1" font-weight="bold" fill="#f0a81e" stroke="#f0a81e" stroke-width="0.45" vector-effect="non-scaling-stroke" transform="matrix(7.274 0 0 15.537 386.60 269.15)">G</text>
<text x="0" y="0" font-size="1" font-weight="bold" fill="#1e9f46" stroke="#1e9f46" stroke-width="0.45" vector-effect="non-scaling-stroke" transform="matrix(7.316 0 0 17.151 391.93 269.30)">A</text>
<text x="0" y="0" font-size="1" font-weight="bold" fill="#1e9f46" stroke="#1e9f46" stroke-width="0.45" vector-effect="non-scaling-stroke" transform="matrix(7.316 0 0 15.698 397.13 269.30)">A</text>
<text x="0" y="0" font-size="1" font-weight="bold" fill="#f0a81e" stroke="#f0a81e" stroke-width="0.45" vector-effect="non-scaling-stroke" transform="matrix(7.274 0 0 6.356 402.23 269.24)">G</text>
<text x="0" y="0" font-size="1" font-weight="bold" fill="#c83030" stroke="#c83030" stroke-width="0.45" vector-effect="non-scaling-stroke" transform="matrix(8.335 0 0 7.704 407.64 269.30)">T</text>
<text x="0" y="0" font-size="1" font-weight="bold" fill="#1e9f46" stroke="#1e9f46" stroke-width="0.45" vector-effect="non-scaling-stroke" transform="matrix(7.316 0 0 0.727 412.76 269.30)">A</text>
<line x1="354.60" y1="255.20" x2="354.60" y2="270.60" stroke="#111" stroke-width="1.2" />
<line x1="354.00" y1="270.10" x2="417.50" y2="270.10" stroke="#111" stroke-width="1.15" />
<line x1="351.30" y1="270.00" x2="354.60" y2="270.00" stroke="#111" stroke-width="0.9" />
<line x1="351.30" y1="263.80" x2="354.60" y2="263.80" stroke="#111" stroke-width="0.9" />
<line x1="351.30" y1="257.60" x2="354.60" y2="257.60" stroke="#111" stroke-width="0.9" />
<text x="0" y="0" font-size="1" font-weight="bold" fill="#f0a81e" stroke="#f0a81e" stroke-width="0.45" vector-effect="non-scaling-stroke" transform="matrix(7.274 0 0 5.650 355.35 292.34)">G</text>
<text x="0" y="0" font-size="1" font-weight="bold" fill="#f0a81e" stroke="#f0a81e" stroke-width="0.45" vector-effect="non-scaling-stroke" transform="matrix(7.274 0 0 4.943 360.56 292.35)">G</text>
<text x="0" y="0" font-size="1" font-weight="bold" fill="#1e9f46" stroke="#1e9f46" stroke-width="0.45" vector-effect="non-scaling-stroke" transform="matrix(7.316 0 0 12.064 365.88 292.40)">A</text>
<text x="0" y="0" font-size="1" font-weight="bold" fill="#1e9f46" stroke="#1e9f46" stroke-width="0.45" vector-effect="non-scaling-stroke" transform="matrix(7.316 0 0 12.064 371.09 292.40)">A</text>
<text x="0" y="0" font-size="1" font-weight="bold" fill="#1e9f46" stroke="#1e9f46" stroke-width="0.45" vector-effect="non-scaling-stroke" transform="matrix(7.316 0 0 0.727 376.30 292.40)">A</text>
<text x="0" y="0" font-size="1" font-weight="bold" fill="#c83030" stroke="#c83030" stroke-width="0.45" vector-effect="non-scaling-stroke" transform="matrix(8.335 0 0 7.268 381.60 292.40)">T</text>
<text x="0" y="0" font-size="1" font-weight="bold" fill="#f0a81e" stroke="#f0a81e" stroke-width="0.45" vector-effect="non-scaling-stroke" transform="matrix(7.274 0 0 11.723 386.60 292.29)">G</text>
<text x="0" y="0" font-size="1" font-weight="bold" fill="#1e9f46" stroke="#1e9f46" stroke-width="0.45" vector-effect="non-scaling-stroke" transform="matrix(7.316 0 0 13.082 391.93 292.40)">A</text>
<text x="0" y="0" font-size="1" font-weight="bold" fill="#1e9f46" stroke="#1e9f46" stroke-width="0.45" vector-effect="non-scaling-stroke" transform="matrix(7.316 0 0 7.994 397.13 292.40)">A</text>
<text x="0" y="0" font-size="1" font-weight="bold" fill="#1e9f46" stroke="#1e9f46" stroke-width="0.45" vector-effect="non-scaling-stroke" transform="matrix(7.316 0 0 14.244 402.34 292.40)">A</text>
<text x="0" y="0" font-size="1" font-weight="bold" fill="#33207a" stroke="#33207a" stroke-width="0.45" vector-effect="non-scaling-stroke" transform="matrix(7.507 0 0 1.695 407.43 292.38)">C</text>
<text x="0" y="0" font-size="1" font-weight="bold" fill="#c83030" stroke="#c83030" stroke-width="0.45" vector-effect="non-scaling-stroke" transform="matrix(8.335 0 0 1.744 412.85 292.40)">T</text>
<line x1="354.60" y1="278.30" x2="354.60" y2="293.70" stroke="#111" stroke-width="1.2" />
<line x1="354.00" y1="293.20" x2="417.50" y2="293.20" stroke="#111" stroke-width="1.15" />
<line x1="351.30" y1="293.10" x2="354.60" y2="293.10" stroke="#111" stroke-width="0.9" />
<line x1="351.30" y1="286.90" x2="354.60" y2="286.90" stroke="#111" stroke-width="0.9" />
<line x1="351.30" y1="280.70" x2="354.60" y2="280.70" stroke="#111" stroke-width="0.9" />
<text x="0" y="0" font-size="1" font-weight="bold" fill="#c83030" stroke="#c83030" stroke-width="0.45" vector-effect="non-scaling-stroke" transform="matrix(9.170 0 0 5.814 355.35 315.50)">T</text>
<text x="0" y="0" font-size="1" font-weight="bold" fill="#f0a81e" stroke="#f0a81e" stroke-width="0.45" vector-effect="non-scaling-stroke" transform="matrix(11.114 0 0 8.474 362.19 315.42)">G</text>
<text x="0" y="0" font-size="1" font-weight="bold" fill="#c83030" stroke="#c83030" stroke-width="0.45" vector-effect="non-scaling-stroke" transform="matrix(12.736 0 0 12.646 370.31 315.50)">T</text>
<text x="0" y="0" font-size="1" font-weight="bold" fill="#f0a81e" stroke="#f0a81e" stroke-width="0.45" vector-effect="non-scaling-stroke" transform="matrix(11.263 0 0 16.949 377.79 315.33)">G</text>
<text x="0" y="0" font-size="1" font-weight="bold" fill="#f0a81e" stroke="#f0a81e" stroke-width="0.45" vector-effect="non-scaling-stroke" transform="matrix(11.114 0 0 16.949 385.69 315.33)">G</text>
<text x="0" y="0" font-size="1" font-weight="bold" fill="#c83030" stroke="#c83030" stroke-width="0.45" vector-effect="non-scaling-stroke" transform="matrix(10.699 0 0 8.721 393.83 315.50)">T</text>
<text x="0" y="0" font-size="1" font-weight="bold" fill="#c83030" stroke="#c83030" stroke-width="0.45" vector-effect="non-scaling-stroke" transform="matrix(10.529 0 0 10.175 400.43 315.50)">T</text>
<text x="0" y="0" font-size="1" font-weight="bold" fill="#c83030" stroke="#c83030" stroke-width="0.45" vector-effect="non-scaling-stroke" transform="matrix(16.812 0 0 13.082 407.16 315.50)">T</text>
<line x1="354.60" y1="301.40" x2="354.60" y2="316.80" stroke="#111" stroke-width="1.2" />
<line x1="354.00" y1="316.30" x2="417.50" y2="316.30" stroke="#111" stroke-width="1.15" />
<line x1="351.30" y1="316.20" x2="354.60" y2="316.20" stroke="#111" stroke-width="0.9" />
<line x1="351.30" y1="310.00" x2="354.60" y2="310.00" stroke="#111" stroke-width="0.9" />
<line x1="351.30" y1="303.80" x2="354.60" y2="303.80" stroke="#111" stroke-width="0.9" />
<text x="0" y="0" font-size="1" font-weight="bold" fill="#f0a81e" stroke="#f0a81e" stroke-width="0.45" vector-effect="non-scaling-stroke" transform="matrix(11.114 0 0 10.169 354.99 338.50)">G</text>
<text x="0" y="0" font-size="1" font-weight="bold" fill="#1e9f46" stroke="#1e9f46" stroke-width="0.45" vector-effect="non-scaling-stroke" transform="matrix(8.347 0 0 8.285 363.04 338.60)">A</text>
<text x="0" y="0" font-size="1" font-weight="bold" fill="#1e9f46" stroke="#1e9f46" stroke-width="0.45" vector-effect="non-scaling-stroke" transform="matrix(11.179 0 0 16.570 368.87 338.60)">A</text>
<text x="0" y="0" font-size="1" font-weight="bold" fill="#1e9f46" stroke="#1e9f46" stroke-width="0.45" vector-effect="non-scaling-stroke" transform="matrix(10.285 0 0 11.628 376.69 338.60)">A</text>
<text x="0" y="0" font-size="1" font-weight="bold" fill="#c83030" stroke="#c83030" stroke-width="0.45" vector-effect="non-scaling-stroke" transform="matrix(16.133 0 0 16.570 383.97 338.60)">T</text>
<text x="0" y="0" font-size="1" font-weight="bold" fill="#1e9f46" stroke="#1e9f46" stroke-width="0.45" vector-effect="non-scaling-stroke" transform="matrix(10.285 0 0 2.907 393.69 338.60)">A</text>
<text x="0" y="0" font-size="1" font-weight="bold" fill="#f0a81e" stroke="#f0a81e" stroke-width="0.45" vector-effect="non-scaling-stroke" transform="matrix(10.225 0 0 3.107 393.53 336.57)">G</text>
<text x="0" y="0" font-size="1" font-weight="bold" fill="#1e9f46" stroke="#1e9f46" stroke-width="0.45" vector-effect="non-scaling-stroke" transform="matrix(9.987 0 0 2.616 400.90 338.60)">A</text>
<text x="0" y="0" font-size="1" font-weight="bold" fill="#f0a81e" stroke="#f0a81e" stroke-width="0.45" vector-effect="non-scaling-stroke" transform="matrix(9.929 0 0 1.412 400.74 336.79)">G</text>
<text x="0" y="0" font-size="1" font-weight="bold" fill="#f0a81e" stroke="#f0a81e" stroke-width="0.45" vector-effect="non-scaling-stroke" transform="matrix(12.893 0 0 8.051 407.62 338.52)">G</text>
<line x1="354.60" y1="324.50" x2="354.60" y2="339.90" stroke="#111" stroke-width="1.2" />
<line x1="354.00" y1="339.40" x2="417.50" y2="339.40" stroke="#111" stroke-width="1.15" />
<line x1="351.30" y1="339.30" x2="354.60" y2="339.30" stroke="#111" stroke-width="0.9" />
<line x1="351.30" y1="333.10" x2="354.60" y2="333.10" stroke="#111" stroke-width="0.9" />
<line x1="351.30" y1="326.90" x2="354.60" y2="326.90" stroke="#111" stroke-width="0.9" />
<text x="99.80" y="267.40" font-size="6.0" fill="#111" stroke="#111" stroke-width="0.080" textLength="6.40" lengthAdjust="spacingAndGlyphs" >10</text>
<text x="106.40" y="264.20" font-size="3.8" fill="#666" stroke="#666" stroke-width="0.040" textLength="9.20" lengthAdjust="spacingAndGlyphs" >&#8722;479</text>
<text x="139.50" y="262.40" font-size="6.0" fill="#111" stroke="#111" stroke-width="0.080" text-anchor="middle" >45.44</text>
<text x="139.50" y="270.10" font-size="6.0" fill="#111" stroke="#111" stroke-width="0.080" text-anchor="middle" >(17.01)</text>
<text x="174.20" y="262.40" font-size="6.0" fill="#111" stroke="#111" stroke-width="0.080" text-anchor="middle" >Etv2</text>
<text x="174.20" y="270.10" font-size="6.0" fill="#111" stroke="#111" stroke-width="0.080" text-anchor="middle" >(ETS)</text>
<text x="99.80" y="290.50" font-size="6.0" fill="#111" stroke="#111" stroke-width="0.080" textLength="6.40" lengthAdjust="spacingAndGlyphs" >10</text>
<text x="106.40" y="287.30" font-size="3.8" fill="#666" stroke="#666" stroke-width="0.040" textLength="8.40" lengthAdjust="spacingAndGlyphs" >&#8722;103</text>
<text x="139.50" y="285.50" font-size="6.0" fill="#111" stroke="#111" stroke-width="0.080" text-anchor="middle" >3.72</text>
<text x="139.50" y="293.20" font-size="6.0" fill="#111" stroke="#111" stroke-width="0.080" text-anchor="middle" >(0.40)</text>
<text x="174.20" y="285.50" font-size="6.0" fill="#111" stroke="#111" stroke-width="0.080" text-anchor="middle" >BORIS</text>
<text x="174.20" y="293.20" font-size="6.0" fill="#111" stroke="#111" stroke-width="0.080" text-anchor="middle" >(CTCF)</text>
<text x="99.80" y="313.60" font-size="6.0" fill="#111" stroke="#111" stroke-width="0.080" textLength="6.40" lengthAdjust="spacingAndGlyphs" >10</text>
<text x="106.40" y="310.40" font-size="3.8" fill="#666" stroke="#666" stroke-width="0.040" textLength="6.60" lengthAdjust="spacingAndGlyphs" >&#8722;90</text>
<text x="139.50" y="308.60" font-size="6.0" fill="#111" stroke="#111" stroke-width="0.080" text-anchor="middle" >19.28</text>
<text x="139.50" y="316.30" font-size="6.0" fill="#111" stroke="#111" stroke-width="0.080" text-anchor="middle" >(9.47)</text>
<text x="174.20" y="311.60" font-size="6.0" fill="#111" stroke="#111" stroke-width="0.080" text-anchor="middle" >RUNX2</text>
<text x="99.80" y="336.70" font-size="6.0" fill="#111" stroke="#111" stroke-width="0.080" textLength="6.40" lengthAdjust="spacingAndGlyphs" >10</text>
<text x="106.40" y="333.50" font-size="3.8" fill="#666" stroke="#666" stroke-width="0.040" textLength="6.60" lengthAdjust="spacingAndGlyphs" >&#8722;67</text>
<text x="139.50" y="331.70" font-size="6.0" fill="#111" stroke="#111" stroke-width="0.080" text-anchor="middle" >4.47</text>
<text x="139.50" y="339.40" font-size="6.0" fill="#111" stroke="#111" stroke-width="0.080" text-anchor="middle" >(0.76)</text>
<text x="174.20" y="334.70" font-size="6.0" fill="#111" stroke="#111" stroke-width="0.080" text-anchor="middle" >NF-E2</text>
<text x="263.80" y="267.20" font-size="6.0" fill="#111" stroke="#111" stroke-width="0.080" textLength="6.40" lengthAdjust="spacingAndGlyphs" >10</text>
<text x="270.40" y="264.00" font-size="3.8" fill="#666" stroke="#666" stroke-width="0.040" textLength="12.00" lengthAdjust="spacingAndGlyphs" >&#8722;2148</text>
<text x="303.40" y="261.80" font-size="6.0" fill="#111" stroke="#111" stroke-width="0.080" text-anchor="middle" >30.88</text>
<text x="303.40" y="269.20" font-size="6.0" fill="#111" stroke="#111" stroke-width="0.080" text-anchor="middle" >(10.87)</text>
<text x="338.00" y="261.20" font-size="6.0" fill="#111" stroke="#111" stroke-width="0.080" text-anchor="middle" >PU.1</text>
<text x="338.00" y="268.90" font-size="6.0" fill="#111" stroke="#111" stroke-width="0.080" text-anchor="middle" >(ETS)</text>
<text x="263.80" y="290.30" font-size="6.0" fill="#111" stroke="#111" stroke-width="0.080" textLength="6.40" lengthAdjust="spacingAndGlyphs" >10</text>
<text x="270.40" y="287.10" font-size="3.8" fill="#666" stroke="#666" stroke-width="0.040" textLength="8.40" lengthAdjust="spacingAndGlyphs" >&#8722;659</text>
<text x="303.40" y="284.90" font-size="6.0" fill="#111" stroke="#111" stroke-width="0.080" text-anchor="middle" >18.97</text>
<text x="303.40" y="292.30" font-size="6.0" fill="#111" stroke="#111" stroke-width="0.080" text-anchor="middle" >(9.21)</text>
<text x="338.00" y="287.60" font-size="6.0" fill="#111" stroke="#111" stroke-width="0.080" text-anchor="middle" >RUNX</text>
<text x="263.80" y="313.40" font-size="6.0" fill="#111" stroke="#111" stroke-width="0.080" textLength="6.40" lengthAdjust="spacingAndGlyphs" >10</text>
<text x="270.40" y="310.20" font-size="3.8" fill="#666" stroke="#666" stroke-width="0.040" textLength="8.40" lengthAdjust="spacingAndGlyphs" >&#8722;279</text>
<text x="303.40" y="308.00" font-size="6.0" fill="#111" stroke="#111" stroke-width="0.080" text-anchor="middle" >1.83</text>
<text x="303.40" y="315.40" font-size="6.0" fill="#111" stroke="#111" stroke-width="0.080" text-anchor="middle" >(0.28)</text>
<text x="338.00" y="307.40" font-size="6.0" fill="#111" stroke="#111" stroke-width="0.080" text-anchor="middle" >BORIS</text>
<text x="338.00" y="315.10" font-size="6.0" fill="#111" stroke="#111" stroke-width="0.080" text-anchor="middle" >(CTCF)</text>
<text x="263.80" y="336.50" font-size="6.0" fill="#111" stroke="#111" stroke-width="0.080" textLength="6.40" lengthAdjust="spacingAndGlyphs" >10</text>
<text x="270.40" y="333.30" font-size="3.8" fill="#666" stroke="#666" stroke-width="0.040" textLength="8.40" lengthAdjust="spacingAndGlyphs" >&#8722;235</text>
<text x="303.40" y="331.10" font-size="6.0" fill="#111" stroke="#111" stroke-width="0.080" text-anchor="middle" >1.37</text>
<text x="303.40" y="338.50" font-size="6.0" fill="#111" stroke="#111" stroke-width="0.080" text-anchor="middle" >(0.18)</text>
<text x="338.00" y="333.80" font-size="6.0" fill="#111" stroke="#111" stroke-width="0.080" text-anchor="middle" >PU.1</text>
<text x="423.80" y="267.40" font-size="6.0" fill="#111" stroke="#111" stroke-width="0.080" textLength="6.40" lengthAdjust="spacingAndGlyphs" >10</text>
<text x="430.40" y="264.20" font-size="3.8" fill="#666" stroke="#666" stroke-width="0.040" textLength="9.00" lengthAdjust="spacingAndGlyphs" >&#8722;600</text>
<text x="463.80" y="262.00" font-size="6.0" fill="#111" stroke="#111" stroke-width="0.080" text-anchor="middle" >43.96</text>
<text x="463.80" y="269.40" font-size="6.0" fill="#111" stroke="#111" stroke-width="0.080" text-anchor="middle" >(12.99)</text>
<text x="498.70" y="262.00" font-size="6.0" fill="#111" stroke="#111" stroke-width="0.080" text-anchor="middle" >SpiB</text>
<text x="498.70" y="269.40" font-size="6.0" fill="#111" stroke="#111" stroke-width="0.080" text-anchor="middle" >(ETS)</text>
<text x="423.80" y="290.50" font-size="6.0" fill="#111" stroke="#111" stroke-width="0.080" textLength="6.40" lengthAdjust="spacingAndGlyphs" >10</text>
<text x="430.40" y="287.30" font-size="3.8" fill="#666" stroke="#666" stroke-width="0.040" textLength="8.40" lengthAdjust="spacingAndGlyphs" >&#8722;263</text>
<text x="463.80" y="285.10" font-size="6.0" fill="#111" stroke="#111" stroke-width="0.080" text-anchor="middle" >8.63</text>
<text x="463.80" y="292.50" font-size="6.0" fill="#111" stroke="#111" stroke-width="0.080" text-anchor="middle" >(0.84)</text>
<text x="498.70" y="288.50" font-size="6.0" fill="#111" stroke="#111" stroke-width="0.080" text-anchor="middle" >PU.1-IRF8</text>
<text x="498.70" y="295.80" font-size="6.0" fill="#111" stroke="#111" stroke-width="0.080" text-anchor="middle" >(EICE)</text>
<text x="423.80" y="313.60" font-size="6.0" fill="#111" stroke="#111" stroke-width="0.080" textLength="6.40" lengthAdjust="spacingAndGlyphs" >10</text>
<text x="430.40" y="310.40" font-size="3.8" fill="#666" stroke="#666" stroke-width="0.040" textLength="8.40" lengthAdjust="spacingAndGlyphs" >&#8722;100</text>
<text x="463.80" y="308.20" font-size="6.0" fill="#111" stroke="#111" stroke-width="0.080" text-anchor="middle" >20.05</text>
<text x="463.80" y="315.60" font-size="6.0" fill="#111" stroke="#111" stroke-width="0.080" text-anchor="middle" >(9.73)</text>
<text x="498.70" y="311.70" font-size="6.0" fill="#111" stroke="#111" stroke-width="0.080" text-anchor="middle" >RUNX1</text>
<text x="423.80" y="336.70" font-size="6.0" fill="#111" stroke="#111" stroke-width="0.080" textLength="6.40" lengthAdjust="spacingAndGlyphs" >10</text>
<text x="430.40" y="333.50" font-size="3.8" fill="#666" stroke="#666" stroke-width="0.040" textLength="6.60" lengthAdjust="spacingAndGlyphs" >&#8722;47</text>
<text x="463.80" y="331.30" font-size="6.0" fill="#111" stroke="#111" stroke-width="0.080" text-anchor="middle" >17.61</text>
<text x="463.80" y="338.70" font-size="6.0" fill="#111" stroke="#111" stroke-width="0.080" text-anchor="middle" >(10.61)</text>
<text x="498.70" y="331.30" font-size="6.0" fill="#111" stroke="#111" stroke-width="0.080" text-anchor="middle" >EWS-ERG</text>
<text x="498.70" y="338.70" font-size="6.0" fill="#111" stroke="#111" stroke-width="0.080" text-anchor="middle" >(ETS)</text>
<text x="7.70" y="371.30" font-size="10.5" fill="#111" stroke="#111" stroke-width="0.050" textLength="7.40" lengthAdjust="spacingAndGlyphs" >D</text>
<text x="57.70" y="372.30" font-size="8.0" fill="#111" stroke="#111" stroke-width="0.050" textLength="188.40" lengthAdjust="spacingAndGlyphs" >Genes specifically associated with IRF8<tspan font-size="65%" dy="-0.5em">+</tspan><tspan dy="0.325em"> LMPP peaks</tspan></text>
<text x="0" y="0" font-size="8.6" fill="#111" stroke="#111" stroke-width="0.050" textLength="73.20" lengthAdjust="spacingAndGlyphs" transform="translate(14.10 485.00) rotate(-90)">Enrichment score</text>
<line x1="40.00" y1="400.80" x2="139.00" y2="400.80" stroke="#c4c4c4" stroke-width="1.3" />
<path d="M40.00 396.74 L40.14 396.36 L40.30 395.85 L40.50 395.25 L40.73 394.58 L40.99 393.87 L41.28 393.12 L41.60 392.38 L41.95 391.67 L42.34 390.93 L42.78 390.14 L43.26 389.32 L43.77 388.49 L44.29 387.68 L44.82 386.91 L45.34 386.20 L45.84 385.57 L46.31 385.04 L46.75 384.58 L47.18 384.17 L47.61 383.80 L48.07 383.46 L48.57 383.15 L49.11 382.84 L49.73 382.53 L50.42 382.20 L51.18 381.86 L51.99 381.52 L52.84 381.20 L53.72 380.92 L54.60 380.70 L55.48 380.55 L56.35 380.50 L57.20 380.53 L58.05 380.63 L58.91 380.79 L59.78 381.01 L60.65 381.29 L61.54 381.64 L62.44 382.05 L63.35 382.53 L64.29 383.08 L65.24 383.72 L66.21 384.43 L67.20 385.19 L68.18 386.01 L69.17 386.86 L70.16 387.73 L71.14 388.62 L72.11 389.53 L73.08 390.48 L74.06 391.47 L75.03 392.49 L76.00 393.53 L76.97 394.59 L77.95 395.66 L78.92 396.74 L79.89 397.85 L80.87 399.00 L81.84 400.18 L82.81 401.37 L83.78 402.55 L84.76 403.71 L85.73 404.82 L86.70 405.88 L87.68 406.87 L88.65 407.82 L89.62 408.73 L90.60 409.62 L91.57 410.48 L92.54 411.32 L93.52 412.15 L94.49 412.98 L95.46 413.81 L96.43 414.63 L97.41 415.45 L98.38 416.25 L99.35 417.02 L100.33 417.75 L101.30 418.44 L102.27 419.07 L103.26 419.65 L104.26 420.20 L105.28 420.70 L106.29 421.16 L107.28 421.59 L108.25 421.97 L109.18 422.32 L110.06 422.62 L110.89 422.88 L111.70 423.09 L112.47 423.25 L113.22 423.37 L113.93 423.47 L114.62 423.54 L115.27 423.59 L115.89 423.64 L116.47 423.67 L117.00 423.69 L117.50 423.68 L117.96 423.66 L118.41 423.61 L118.86 423.54 L119.31 423.45 L119.79 423.33 L120.27 423.18 L120.76 422.97 L121.25 422.74 L121.73 422.48 L122.22 422.23 L122.71 421.99 L123.19 421.77 L123.68 421.61 L124.17 421.49 L124.67 421.42 L125.17 421.37 L125.67 421.34 L126.17 421.31 L126.65 421.27 L127.12 421.20 L127.57 421.10 L128.00 420.98 L128.43 420.86 L128.85 420.74 L129.25 420.59 L129.64 420.42 L130.01 420.20 L130.36 419.92 L130.68 419.58 L130.99 419.18 L131.26 418.73 L131.52 418.24 L131.75 417.71 L131.98 417.12 L132.20 416.47 L132.41 415.77 L132.63 415.01 L132.85 414.16 L133.06 413.21 L133.26 412.18 L133.46 411.11 L133.65 410.02 L133.83 408.93 L134.01 407.88 L134.19 406.89 L134.36 405.90 L134.53 404.88 L134.70 403.84 L134.87 402.83 L135.02 401.88 L135.15 401.04 L135.27 400.33 L135.35 399.79" fill="none" stroke="#76aa5a" stroke-width="1.2" stroke-linejoin="round"/>
<rect x="40.00" y="380.10" width="99.00" height="46.90" fill="none" stroke="#111" stroke-width="1.05" />
<line x1="37.70" y1="380.50" x2="40.00" y2="380.50" stroke="#111" stroke-width="1.0" />
<text x="34.30" y="382.50" font-size="5.8" fill="#111" stroke="#111" stroke-width="0.080" textLength="11.40" lengthAdjust="spacingAndGlyphs" text-anchor="end" >0.20</text>
<line x1="37.70" y1="390.65" x2="40.00" y2="390.65" stroke="#111" stroke-width="1.0" />
<text x="34.30" y="392.65" font-size="5.8" fill="#111" stroke="#111" stroke-width="0.080" textLength="11.40" lengthAdjust="spacingAndGlyphs" text-anchor="end" >0.10</text>
<line x1="37.70" y1="400.80" x2="40.00" y2="400.80" stroke="#111" stroke-width="1.0" />
<text x="34.30" y="402.80" font-size="5.8" fill="#111" stroke="#111" stroke-width="0.080" textLength="11.40" lengthAdjust="spacingAndGlyphs" text-anchor="end" >0.00</text>
<line x1="37.70" y1="410.95" x2="40.00" y2="410.95" stroke="#111" stroke-width="1.0" />
<text x="34.30" y="412.95" font-size="5.8" fill="#111" stroke="#111" stroke-width="0.080" textLength="12.60" lengthAdjust="spacingAndGlyphs" text-anchor="end" >-0.10</text>
<line x1="37.70" y1="421.10" x2="40.00" y2="421.10" stroke="#111" stroke-width="1.0" />
<text x="34.30" y="423.10" font-size="5.8" fill="#111" stroke="#111" stroke-width="0.080" textLength="12.60" lengthAdjust="spacingAndGlyphs" text-anchor="end" >-0.20</text>
<line x1="40.00" y1="427.00" x2="40.00" y2="429.30" stroke="#111" stroke-width="1.0" />
<text x="40.00" y="438.50" font-size="6.4" fill="#111" stroke="#111" stroke-width="0.080" text-anchor="middle" >0</text>
<line x1="59.46" y1="427.00" x2="59.46" y2="429.30" stroke="#111" stroke-width="1.0" />
<text x="59.46" y="438.50" font-size="6.4" fill="#111" stroke="#111" stroke-width="0.080" text-anchor="middle" >5</text>
<line x1="78.92" y1="427.00" x2="78.92" y2="429.30" stroke="#111" stroke-width="1.0" />
<text x="78.92" y="438.50" font-size="6.4" fill="#111" stroke="#111" stroke-width="0.080" text-anchor="middle" >10</text>
<line x1="98.38" y1="427.00" x2="98.38" y2="429.30" stroke="#111" stroke-width="1.0" />
<text x="98.38" y="438.50" font-size="6.4" fill="#111" stroke="#111" stroke-width="0.080" text-anchor="middle" >15</text>
<line x1="117.84" y1="427.00" x2="117.84" y2="429.30" stroke="#111" stroke-width="1.0" />
<text x="117.84" y="438.50" font-size="6.4" fill="#111" stroke="#111" stroke-width="0.080" text-anchor="middle" >20</text>
<line x1="137.30" y1="427.00" x2="137.30" y2="429.30" stroke="#111" stroke-width="1.0" />
<text x="137.30" y="438.50" font-size="6.4" fill="#111" stroke="#111" stroke-width="0.080" text-anchor="middle" >25</text>
<text x="38.00" y="448.80" font-size="6.0" fill="#555" stroke="#555" stroke-width="0.080" textLength="33.00" lengthAdjust="spacingAndGlyphs" >IRF8&#8211; LMPP</text>
<text x="140.00" y="448.80" font-size="6.0" fill="#555" stroke="#555" stroke-width="0.080" textLength="30.70" lengthAdjust="spacingAndGlyphs" text-anchor="end" >IRF8<tspan font-size="65%" dy="-0.5em">+</tspan><tspan dy="0.325em"> LMPP</tspan></text>
<text x="136.60" y="386.30" font-size="4.8" fill="#111" stroke="#111" stroke-width="0.040" textLength="20.90" lengthAdjust="spacingAndGlyphs" text-anchor="end" >P &lt; 0.001</text>
<text x="136.60" y="392.80" font-size="4.8" fill="#111" stroke="#111" stroke-width="0.040" textLength="28.90" lengthAdjust="spacingAndGlyphs" text-anchor="end" >NES = -1.140</text>
<line x1="165.10" y1="396.00" x2="264.40" y2="396.00" stroke="#c4c4c4" stroke-width="1.3" />
<path d="M165.10 396.00 L165.22 395.60 L165.36 395.07 L165.54 394.43 L165.73 393.73 L165.95 392.98 L166.18 392.22 L166.42 391.49 L166.66 390.80 L166.91 390.13 L167.16 389.44 L167.41 388.74 L167.69 388.04 L167.98 387.36 L168.29 386.72 L168.63 386.13 L169.00 385.60 L169.39 385.14 L169.78 384.74 L170.18 384.39 L170.61 384.07 L171.09 383.78 L171.62 383.52 L172.22 383.26 L172.91 383.00 L173.71 382.74 L174.63 382.48 L175.64 382.22 L176.69 381.99 L177.76 381.79 L178.81 381.62 L179.81 381.50 L180.72 381.44 L181.53 381.42 L182.27 381.44 L182.97 381.50 L183.64 381.60 L184.32 381.75 L185.02 381.94 L185.76 382.18 L186.57 382.48 L187.44 382.82 L188.34 383.18 L189.27 383.58 L190.23 384.04 L191.22 384.56 L192.25 385.16 L193.30 385.85 L194.38 386.64 L195.51 387.55 L196.68 388.59 L197.90 389.72 L199.14 390.93 L200.39 392.19 L201.65 393.46 L202.91 394.74 L204.14 396.00 L205.36 397.26 L206.58 398.58 L207.80 399.92 L209.02 401.26 L210.24 402.61 L211.46 403.92 L212.68 405.19 L213.90 406.40 L215.13 407.56 L216.39 408.69 L217.65 409.79 L218.90 410.85 L220.14 411.88 L221.36 412.87 L222.53 413.82 L223.66 414.72 L224.74 415.58 L225.79 416.40 L226.82 417.18 L227.81 417.92 L228.77 418.62 L229.70 419.28 L230.60 419.88 L231.47 420.44 L232.30 420.94 L233.11 421.39 L233.88 421.79 L234.62 422.15 L235.33 422.47 L236.02 422.75 L236.68 423.01 L237.32 423.25 L237.94 423.46 L238.52 423.62 L239.07 423.76 L239.59 423.87 L240.11 423.95 L240.61 424.01 L241.11 424.05 L241.62 424.08 L242.13 424.09 L242.62 424.09 L243.11 424.06 L243.59 424.01 L244.08 423.95 L244.56 423.87 L245.04 423.77 L245.52 423.66 L246.01 423.54 L246.50 423.40 L246.99 423.25 L247.47 423.09 L247.96 422.90 L248.45 422.69 L248.94 422.46 L249.43 422.21 L249.92 421.94 L250.42 421.66 L250.92 421.36 L251.43 421.04 L251.92 420.69 L252.41 420.30 L252.88 419.87 L253.33 419.40 L253.76 418.89 L254.18 418.35 L254.59 417.79 L254.99 417.18 L255.37 416.52 L255.75 415.81 L256.11 415.04 L256.45 414.20 L256.79 413.27 L257.11 412.26 L257.42 411.17 L257.72 410.04 L258.01 408.87 L258.28 407.69 L258.55 406.51 L258.80 405.36 L259.04 404.15 L259.28 402.84 L259.51 401.48 L259.72 400.13 L259.92 398.85 L260.10 397.69 L260.24 396.73 L260.36 396.00" fill="none" stroke="#76aa5a" stroke-width="1.2" stroke-linejoin="round"/>
<rect x="165.10" y="379.10" width="99.30" height="47.90" fill="none" stroke="#111" stroke-width="1.05" />
<line x1="162.80" y1="385.60" x2="165.10" y2="385.60" stroke="#111" stroke-width="1.0" />
<text x="159.40" y="387.60" font-size="5.8" fill="#111" stroke="#111" stroke-width="0.080" textLength="11.40" lengthAdjust="spacingAndGlyphs" text-anchor="end" >0.10</text>
<line x1="162.80" y1="396.00" x2="165.10" y2="396.00" stroke="#111" stroke-width="1.0" />
<text x="159.40" y="398.00" font-size="5.8" fill="#111" stroke="#111" stroke-width="0.080" textLength="11.40" lengthAdjust="spacingAndGlyphs" text-anchor="end" >0.00</text>
<line x1="162.80" y1="406.40" x2="165.10" y2="406.40" stroke="#111" stroke-width="1.0" />
<text x="159.40" y="408.40" font-size="5.8" fill="#111" stroke="#111" stroke-width="0.080" textLength="12.60" lengthAdjust="spacingAndGlyphs" text-anchor="end" >-0.10</text>
<line x1="162.80" y1="416.80" x2="165.10" y2="416.80" stroke="#111" stroke-width="1.0" />
<text x="159.40" y="418.80" font-size="5.8" fill="#111" stroke="#111" stroke-width="0.080" textLength="12.60" lengthAdjust="spacingAndGlyphs" text-anchor="end" >-0.20</text>
<line x1="165.10" y1="427.00" x2="165.10" y2="429.30" stroke="#111" stroke-width="1.0" />
<text x="165.10" y="438.50" font-size="6.4" fill="#111" stroke="#111" stroke-width="0.080" text-anchor="middle" >0</text>
<line x1="184.62" y1="427.00" x2="184.62" y2="429.30" stroke="#111" stroke-width="1.0" />
<text x="184.62" y="438.50" font-size="6.4" fill="#111" stroke="#111" stroke-width="0.080" text-anchor="middle" >5</text>
<line x1="204.14" y1="427.00" x2="204.14" y2="429.30" stroke="#111" stroke-width="1.0" />
<text x="204.14" y="438.50" font-size="6.4" fill="#111" stroke="#111" stroke-width="0.080" text-anchor="middle" >10</text>
<line x1="223.66" y1="427.00" x2="223.66" y2="429.30" stroke="#111" stroke-width="1.0" />
<text x="223.66" y="438.50" font-size="6.4" fill="#111" stroke="#111" stroke-width="0.080" text-anchor="middle" >15</text>
<line x1="243.18" y1="427.00" x2="243.18" y2="429.30" stroke="#111" stroke-width="1.0" />
<text x="243.18" y="438.50" font-size="6.4" fill="#111" stroke="#111" stroke-width="0.080" text-anchor="middle" >20</text>
<line x1="262.70" y1="427.00" x2="262.70" y2="429.30" stroke="#111" stroke-width="1.0" />
<text x="262.70" y="438.50" font-size="6.4" fill="#111" stroke="#111" stroke-width="0.080" text-anchor="middle" >25</text>
<text x="163.10" y="448.80" font-size="6.0" fill="#555" stroke="#555" stroke-width="0.080" textLength="13.10" lengthAdjust="spacingAndGlyphs" >GMP</text>
<text x="265.40" y="448.80" font-size="6.0" fill="#555" stroke="#555" stroke-width="0.080" textLength="11.10" lengthAdjust="spacingAndGlyphs" text-anchor="end" >CDP</text>
<text x="262.00" y="385.60" font-size="4.8" fill="#111" stroke="#111" stroke-width="0.040" textLength="20.90" lengthAdjust="spacingAndGlyphs" text-anchor="end" >P &lt; 0.001</text>
<text x="262.00" y="392.10" font-size="4.8" fill="#111" stroke="#111" stroke-width="0.040" textLength="28.90" lengthAdjust="spacingAndGlyphs" text-anchor="end" >NES = -1.405</text>
<line x1="40.00" y1="486.30" x2="139.00" y2="486.30" stroke="#c4c4c4" stroke-width="1.3" />
<path d="M40.00 486.30 L40.11 485.69 L40.26 484.88 L40.44 483.91 L40.63 482.84 L40.85 481.70 L41.08 480.55 L41.31 479.42 L41.56 478.38 L41.80 477.38 L42.05 476.35 L42.31 475.32 L42.58 474.30 L42.87 473.28 L43.18 472.30 L43.52 471.36 L43.89 470.46 L44.30 469.60 L44.76 468.74 L45.24 467.91 L45.74 467.12 L46.26 466.37 L46.77 465.68 L47.29 465.06 L47.78 464.52 L48.26 464.08 L48.71 463.72 L49.16 463.44 L49.61 463.22 L50.07 463.04 L50.57 462.87 L51.10 462.71 L51.68 462.54 L52.31 462.36 L53.00 462.18 L53.72 462.01 L54.47 461.86 L55.24 461.73 L56.01 461.64 L56.77 461.57 L57.51 461.55 L58.23 461.55 L58.93 461.57 L59.62 461.60 L60.31 461.67 L61.02 461.79 L61.76 461.97 L62.53 462.21 L63.35 462.54 L64.23 462.95 L65.16 463.43 L66.13 463.98 L67.12 464.58 L68.13 465.24 L69.14 465.95 L70.15 466.70 L71.14 467.49 L72.09 468.32 L73.02 469.19 L73.94 470.11 L74.86 471.08 L75.80 472.09 L76.78 473.15 L77.82 474.26 L78.92 475.41 L80.11 476.64 L81.39 477.97 L82.73 479.36 L84.10 480.79 L85.48 482.23 L86.85 483.65 L88.17 485.01 L89.43 486.30 L90.62 487.52 L91.76 488.71 L92.87 489.87 L93.95 491.00 L95.03 492.10 L96.12 493.17 L97.23 494.20 L98.38 495.21 L99.57 496.20 L100.80 497.17 L102.06 498.13 L103.32 499.05 L104.57 499.92 L105.80 500.73 L106.98 501.48 L108.11 502.14 L109.20 502.72 L110.28 503.23 L111.34 503.67 L112.37 504.06 L113.35 504.39 L114.27 504.67 L115.12 504.91 L115.89 505.11 L116.56 505.27 L117.11 505.37 L117.59 505.41 L118.01 505.42 L118.41 505.39 L118.82 505.32 L119.27 505.23 L119.79 505.11 L120.37 504.97 L120.98 504.80 L121.61 504.60 L122.27 504.37 L122.93 504.10 L123.58 503.81 L124.22 503.49 L124.85 503.13 L125.46 502.74 L126.08 502.33 L126.69 501.88 L127.30 501.40 L127.90 500.89 L128.47 500.35 L129.01 499.77 L129.52 499.17 L129.99 498.53 L130.43 497.85 L130.85 497.13 L131.24 496.39 L131.62 495.62 L131.97 494.83 L132.31 494.03 L132.63 493.23 L132.94 492.36 L133.24 491.40 L133.53 490.40 L133.80 489.39 L134.04 488.43 L134.25 487.57 L134.43 486.84 L134.58 486.30" fill="none" stroke="#76aa5a" stroke-width="1.2" stroke-linejoin="round"/>
<rect x="40.00" y="459.30" width="99.00" height="48.10" fill="none" stroke="#111" stroke-width="1.05" />
<line x1="37.70" y1="466.50" x2="40.00" y2="466.50" stroke="#111" stroke-width="1.0" />
<text x="34.30" y="468.50" font-size="5.8" fill="#111" stroke="#111" stroke-width="0.080" textLength="11.40" lengthAdjust="spacingAndGlyphs" text-anchor="end" >0.20</text>
<line x1="37.70" y1="476.40" x2="40.00" y2="476.40" stroke="#111" stroke-width="1.0" />
<text x="34.30" y="478.40" font-size="5.8" fill="#111" stroke="#111" stroke-width="0.080" textLength="11.40" lengthAdjust="spacingAndGlyphs" text-anchor="end" >0.10</text>
<line x1="37.70" y1="486.30" x2="40.00" y2="486.30" stroke="#111" stroke-width="1.0" />
<text x="34.30" y="488.30" font-size="5.8" fill="#111" stroke="#111" stroke-width="0.080" textLength="11.40" lengthAdjust="spacingAndGlyphs" text-anchor="end" >0.00</text>
<line x1="37.70" y1="496.20" x2="40.00" y2="496.20" stroke="#111" stroke-width="1.0" />
<text x="34.30" y="498.20" font-size="5.8" fill="#111" stroke="#111" stroke-width="0.080" textLength="12.60" lengthAdjust="spacingAndGlyphs" text-anchor="end" >-0.10</text>
<line x1="37.70" y1="506.10" x2="40.00" y2="506.10" stroke="#111" stroke-width="1.0" />
<text x="34.30" y="508.10" font-size="5.8" fill="#111" stroke="#111" stroke-width="0.080" textLength="12.60" lengthAdjust="spacingAndGlyphs" text-anchor="end" >-0.20</text>
<line x1="40.00" y1="507.40" x2="40.00" y2="509.70" stroke="#111" stroke-width="1.0" />
<text x="40.00" y="518.70" font-size="6.4" fill="#111" stroke="#111" stroke-width="0.080" text-anchor="middle" >0</text>
<line x1="59.46" y1="507.40" x2="59.46" y2="509.70" stroke="#111" stroke-width="1.0" />
<text x="59.46" y="518.70" font-size="6.4" fill="#111" stroke="#111" stroke-width="0.080" text-anchor="middle" >5</text>
<line x1="78.92" y1="507.40" x2="78.92" y2="509.70" stroke="#111" stroke-width="1.0" />
<text x="78.92" y="518.70" font-size="6.4" fill="#111" stroke="#111" stroke-width="0.080" text-anchor="middle" >10</text>
<line x1="98.38" y1="507.40" x2="98.38" y2="509.70" stroke="#111" stroke-width="1.0" />
<text x="98.38" y="518.70" font-size="6.4" fill="#111" stroke="#111" stroke-width="0.080" text-anchor="middle" >15</text>
<line x1="117.84" y1="507.40" x2="117.84" y2="509.70" stroke="#111" stroke-width="1.0" />
<text x="117.84" y="518.70" font-size="6.4" fill="#111" stroke="#111" stroke-width="0.080" text-anchor="middle" >20</text>
<line x1="137.30" y1="507.40" x2="137.30" y2="509.70" stroke="#111" stroke-width="1.0" />
<text x="137.30" y="518.70" font-size="6.4" fill="#111" stroke="#111" stroke-width="0.080" text-anchor="middle" >25</text>
<text x="38.00" y="531.00" font-size="6.0" fill="#555" stroke="#555" stroke-width="0.080" textLength="13.40" lengthAdjust="spacingAndGlyphs" >GMP</text>
<text x="140.00" y="531.00" font-size="6.0" fill="#555" stroke="#555" stroke-width="0.080" textLength="16.20" lengthAdjust="spacingAndGlyphs" text-anchor="end" >cMoP</text>
<text x="136.60" y="465.80" font-size="4.8" fill="#111" stroke="#111" stroke-width="0.040" textLength="20.90" lengthAdjust="spacingAndGlyphs" text-anchor="end" >P = 0.249</text>
<text x="136.60" y="472.30" font-size="4.8" fill="#111" stroke="#111" stroke-width="0.040" textLength="25.00" lengthAdjust="spacingAndGlyphs" text-anchor="end" >NES = 1.045</text>
<line x1="165.10" y1="474.20" x2="264.40" y2="474.20" stroke="#c4c4c4" stroke-width="1.3" />
<path d="M165.10 470.90 L165.27 470.83 L165.49 470.75 L165.76 470.66 L166.05 470.56 L166.38 470.42 L166.72 470.26 L167.08 470.05 L167.44 469.80 L167.82 469.49 L168.23 469.10 L168.66 468.68 L169.10 468.22 L169.56 467.75 L170.02 467.30 L170.49 466.87 L170.96 466.50 L171.41 466.16 L171.86 465.85 L172.31 465.55 L172.76 465.26 L173.24 465.00 L173.74 464.75 L174.28 464.51 L174.86 464.30 L175.50 464.09 L176.19 463.90 L176.91 463.71 L177.67 463.54 L178.43 463.40 L179.21 463.29 L179.97 463.22 L180.72 463.20 L181.45 463.21 L182.18 463.24 L182.91 463.31 L183.64 463.41 L184.38 463.55 L185.11 463.74 L185.84 463.99 L186.57 464.30 L187.30 464.68 L188.04 465.14 L188.77 465.66 L189.50 466.22 L190.23 466.82 L190.96 467.45 L191.70 468.07 L192.43 468.70 L193.15 469.31 L193.85 469.92 L194.54 470.54 L195.23 471.18 L195.95 471.85 L196.68 472.57 L197.46 473.35 L198.28 474.20 L199.15 475.13 L200.05 476.14 L200.98 477.21 L201.94 478.32 L202.94 479.47 L203.96 480.65 L205.01 481.82 L206.09 483.00 L207.22 484.20 L208.39 485.45 L209.61 486.73 L210.85 488.02 L212.11 489.30 L213.37 490.55 L214.62 491.76 L215.85 492.90 L217.09 493.99 L218.37 495.07 L219.65 496.12 L220.93 497.13 L222.18 498.09 L223.39 499.00 L224.54 499.84 L225.61 500.60 L226.60 501.28 L227.54 501.88 L228.42 502.41 L229.25 502.89 L230.04 503.32 L230.80 503.72 L231.53 504.09 L232.25 504.45 L232.93 504.79 L233.58 505.08 L234.18 505.34 L234.76 505.57 L235.32 505.78 L235.86 505.97 L236.40 506.15 L236.93 506.32 L237.46 506.49 L237.96 506.64 L238.45 506.79 L238.93 506.91 L239.41 507.02 L239.88 507.10 L240.35 507.17 L240.84 507.20 L241.33 507.20 L241.82 507.18 L242.32 507.12 L242.81 507.05 L243.31 506.96 L243.79 506.86 L244.27 506.75 L244.74 506.65 L245.19 506.56 L245.63 506.48 L246.05 506.40 L246.47 506.31 L246.90 506.19 L247.33 506.03 L247.78 505.82 L248.26 505.55 L248.76 505.22 L249.29 504.85 L249.84 504.43 L250.40 503.97 L250.96 503.47 L251.51 502.92 L252.04 502.33 L252.55 501.70 L253.03 501.03 L253.51 500.32 L253.98 499.57 L254.43 498.78 L254.87 497.94 L255.29 497.05 L255.69 496.10 L256.06 495.10 L256.41 494.04 L256.74 492.93 L257.04 491.77 L257.33 490.56 L257.61 489.30 L257.87 487.98 L258.14 486.62 L258.41 485.20 L258.68 483.62 L258.97 481.82 L259.25 479.91 L259.53 477.98 L259.79 476.13 L260.02 474.45 L260.21 473.04 L260.36 472.00" fill="none" stroke="#76aa5a" stroke-width="1.2" stroke-linejoin="round"/>
<rect x="165.10" y="461.70" width="99.30" height="48.10" fill="none" stroke="#111" stroke-width="1.05" />
<line x1="162.80" y1="463.20" x2="165.10" y2="463.20" stroke="#111" stroke-width="1.0" />
<text x="159.40" y="465.20" font-size="5.8" fill="#111" stroke="#111" stroke-width="0.080" textLength="11.40" lengthAdjust="spacingAndGlyphs" text-anchor="end" >0.10</text>
<line x1="162.80" y1="474.20" x2="165.10" y2="474.20" stroke="#111" stroke-width="1.0" />
<text x="159.40" y="476.20" font-size="5.8" fill="#111" stroke="#111" stroke-width="0.080" textLength="11.40" lengthAdjust="spacingAndGlyphs" text-anchor="end" >0.00</text>
<line x1="162.80" y1="485.20" x2="165.10" y2="485.20" stroke="#111" stroke-width="1.0" />
<text x="159.40" y="487.20" font-size="5.8" fill="#111" stroke="#111" stroke-width="0.080" textLength="12.60" lengthAdjust="spacingAndGlyphs" text-anchor="end" >-0.10</text>
<line x1="162.80" y1="496.20" x2="165.10" y2="496.20" stroke="#111" stroke-width="1.0" />
<text x="159.40" y="498.20" font-size="5.8" fill="#111" stroke="#111" stroke-width="0.080" textLength="12.60" lengthAdjust="spacingAndGlyphs" text-anchor="end" >-0.20</text>
<line x1="162.80" y1="507.20" x2="165.10" y2="507.20" stroke="#111" stroke-width="1.0" />
<text x="159.40" y="509.20" font-size="5.8" fill="#111" stroke="#111" stroke-width="0.080" textLength="12.60" lengthAdjust="spacingAndGlyphs" text-anchor="end" >-0.30</text>
<line x1="165.10" y1="509.80" x2="165.10" y2="512.10" stroke="#111" stroke-width="1.0" />
<text x="165.10" y="520.60" font-size="6.4" fill="#111" stroke="#111" stroke-width="0.080" text-anchor="middle" >0</text>
<line x1="184.62" y1="509.80" x2="184.62" y2="512.10" stroke="#111" stroke-width="1.0" />
<text x="184.62" y="520.60" font-size="6.4" fill="#111" stroke="#111" stroke-width="0.080" text-anchor="middle" >5</text>
<line x1="204.14" y1="509.80" x2="204.14" y2="512.10" stroke="#111" stroke-width="1.0" />
<text x="204.14" y="520.60" font-size="6.4" fill="#111" stroke="#111" stroke-width="0.080" text-anchor="middle" >10</text>
<line x1="223.66" y1="509.80" x2="223.66" y2="512.10" stroke="#111" stroke-width="1.0" />
<text x="223.66" y="520.60" font-size="6.4" fill="#111" stroke="#111" stroke-width="0.080" text-anchor="middle" >15</text>
<line x1="243.18" y1="509.80" x2="243.18" y2="512.10" stroke="#111" stroke-width="1.0" />
<text x="243.18" y="520.60" font-size="6.4" fill="#111" stroke="#111" stroke-width="0.080" text-anchor="middle" >20</text>
<line x1="262.70" y1="509.80" x2="262.70" y2="512.10" stroke="#111" stroke-width="1.0" />
<text x="262.70" y="520.60" font-size="6.4" fill="#111" stroke="#111" stroke-width="0.080" text-anchor="middle" >25</text>
<text x="163.10" y="531.00" font-size="6.0" fill="#555" stroke="#555" stroke-width="0.080" textLength="15.70" lengthAdjust="spacingAndGlyphs" >cMoP</text>
<text x="265.40" y="531.00" font-size="6.0" fill="#555" stroke="#555" stroke-width="0.080" textLength="11.10" lengthAdjust="spacingAndGlyphs" text-anchor="end" >CDP</text>
<text x="262.00" y="466.50" font-size="4.8" fill="#111" stroke="#111" stroke-width="0.040" textLength="20.90" lengthAdjust="spacingAndGlyphs" text-anchor="end" >P &lt; 0.001</text>
<text x="262.00" y="473.00" font-size="4.8" fill="#111" stroke="#111" stroke-width="0.040" textLength="28.90" lengthAdjust="spacingAndGlyphs" text-anchor="end" >NES = -1.411</text>
<text x="185.80" y="533.10" font-size="8.2" fill="#111" stroke="#111" stroke-width="0.050" textLength="57.70" lengthAdjust="spacingAndGlyphs" >Rank in ordered</text>
<text x="185.80" y="542.80" font-size="8.2" fill="#111" stroke="#111" stroke-width="0.050" textLength="58.10" lengthAdjust="spacingAndGlyphs" >dataset (x 1000)</text>
<line x1="60.90" y1="539.60" x2="71.00" y2="539.60" stroke="#76aa5a" stroke-width="1.2" />
<text x="73.40" y="540.80" font-size="4.6" fill="#111" stroke="#111" stroke-width="0.040" textLength="42.80" lengthAdjust="spacingAndGlyphs" >Enrichment profile</text>
<text x="284.10" y="371.60" font-size="11" fill="#111" stroke="#111" stroke-width="0.050" textLength="5.60" lengthAdjust="spacingAndGlyphs" >E</text>
<text x="340.30" y="368.10" font-size="6.4" fill="#111" stroke="#111" stroke-width="0.080" textLength="81.20" lengthAdjust="spacingAndGlyphs" >Right side population in GSEA</text>
<line x1="329.70" y1="374.30" x2="432.60" y2="374.30" stroke="#333" stroke-width="1.1" />
<line x1="294.40" y1="412.40" x2="294.40" y2="503.70" stroke="#333" stroke-width="1.1" />
<text x="0" y="0" font-size="6.0" fill="#111" stroke="#111" stroke-width="0.080" textLength="77.90" lengthAdjust="spacingAndGlyphs" transform="translate(289.60 497.10) rotate(-90)">Left side population in GSEA</text>
<rect x="332.20" y="411.10" width="13.60" height="13.30" fill="#e2ce46" stroke="none" stroke-width="1" />
<rect x="344.80" y="411.10" width="13.70" height="14.30" fill="#c4bc70" stroke="none" stroke-width="1" />
<rect x="357.50" y="411.10" width="13.70" height="14.30" fill="#dacc58" stroke="none" stroke-width="1" />
<rect x="370.20" y="411.10" width="13.70" height="14.30" fill="#be5c3e" stroke="none" stroke-width="1" />
<rect x="382.90" y="411.10" width="13.60" height="14.30" fill="#be5c3e" stroke="none" stroke-width="1" />
<rect x="395.50" y="411.10" width="13.70" height="14.30" fill="#be5c3e" stroke="none" stroke-width="1" />
<rect x="344.80" y="424.40" width="13.70" height="13.30" fill="#5c4c84" stroke="none" stroke-width="1" />
<rect x="357.50" y="424.40" width="13.70" height="14.30" fill="#b2ac88" stroke="none" stroke-width="1" />
<rect x="370.20" y="424.40" width="13.70" height="14.30" fill="#c46e3a" stroke="none" stroke-width="1" />
<rect x="382.90" y="424.40" width="13.60" height="14.30" fill="#be5c3e" stroke="none" stroke-width="1" />
<rect x="395.50" y="424.40" width="13.70" height="14.30" fill="#c46e3a" stroke="none" stroke-width="1" />
<rect x="357.50" y="437.70" width="13.70" height="13.30" fill="#f0d640" stroke="none" stroke-width="1" />
<rect x="370.20" y="437.70" width="13.70" height="14.30" fill="#be5c3e" stroke="none" stroke-width="1" />
<rect x="382.90" y="437.70" width="13.60" height="14.30" fill="#be5c3e" stroke="none" stroke-width="1" />
<rect x="395.50" y="437.70" width="13.70" height="14.30" fill="#be5c3e" stroke="none" stroke-width="1" />
<rect x="370.20" y="451.00" width="13.70" height="13.20" fill="#f0d63c" stroke="none" stroke-width="1" />
<rect x="382.90" y="451.00" width="13.60" height="14.20" fill="#ecd444" stroke="none" stroke-width="1" />
<rect x="395.50" y="451.00" width="13.70" height="14.20" fill="#eab83a" stroke="none" stroke-width="1" />
<rect x="382.90" y="464.20" width="13.60" height="13.60" fill="#b0a87a" stroke="none" stroke-width="1" />
<rect x="395.50" y="464.20" width="13.70" height="14.60" fill="#e6d246" stroke="none" stroke-width="1" />
<rect x="395.50" y="477.80" width="13.70" height="13.50" fill="#eed63e" stroke="none" stroke-width="1" />
<rect x="408.20" y="411.10" width="12.60" height="93.70" fill="#5e4e80" stroke="none" stroke-width="1" />
<text x="0" y="0" font-size="5.8" fill="#111" stroke="#111" stroke-width="0.080" textLength="28.50" lengthAdjust="spacingAndGlyphs" transform="translate(337.20 406.40) rotate(-45)">IRF8<tspan font-size="65%" dy="-0.5em">+</tspan><tspan dy="0.325em"> LMPP</tspan></text>
<text x="0" y="0" font-size="5.8" fill="#111" stroke="#111" stroke-width="0.080" textLength="12.80" lengthAdjust="spacingAndGlyphs" transform="translate(349.80 406.40) rotate(-45)">GMP</text>
<text x="0" y="0" font-size="5.8" fill="#111" stroke="#111" stroke-width="0.080" textLength="13.20" lengthAdjust="spacingAndGlyphs" transform="translate(362.50 406.40) rotate(-45)">MDP</text>
<text x="0" y="0" font-size="5.8" fill="#111" stroke="#111" stroke-width="0.080" textLength="12.20" lengthAdjust="spacingAndGlyphs" transform="translate(375.20 406.40) rotate(-45)">CDP</text>
<text x="0" y="0" font-size="5.8" fill="#111" stroke="#111" stroke-width="0.080" textLength="24.50" lengthAdjust="spacingAndGlyphs" transform="translate(387.90 406.40) rotate(-45)">Pre-cDC</text>
<text x="0" y="0" font-size="5.8" fill="#111" stroke="#111" stroke-width="0.080" textLength="15.00" lengthAdjust="spacingAndGlyphs" transform="translate(400.50 406.40) rotate(-45)">cDC1</text>
<text x="0" y="0" font-size="5.8" fill="#111" stroke="#111" stroke-width="0.080" textLength="16.00" lengthAdjust="spacingAndGlyphs" transform="translate(413.20 406.40) rotate(-45)">cMop</text>
<text x="329.20" y="419.90" font-size="5.8" fill="#111" stroke="#111" stroke-width="0.080" textLength="28.10" lengthAdjust="spacingAndGlyphs" text-anchor="end" >IRF8<tspan font-size="65%" dy="-0.5em">&#8722;</tspan><tspan dy="0.325em">LMPP</tspan></text>
<text x="341.80" y="433.20" font-size="5.8" fill="#111" stroke="#111" stroke-width="0.080" textLength="29.40" lengthAdjust="spacingAndGlyphs" text-anchor="end" >IRF8<tspan font-size="65%" dy="-0.5em">+</tspan><tspan dy="0.325em">LMPP</tspan></text>
<text x="354.50" y="446.50" font-size="5.8" fill="#111" stroke="#111" stroke-width="0.080" textLength="12.70" lengthAdjust="spacingAndGlyphs" text-anchor="end" >GMP</text>
<text x="367.20" y="459.80" font-size="5.8" fill="#111" stroke="#111" stroke-width="0.080" textLength="12.90" lengthAdjust="spacingAndGlyphs" text-anchor="end" >MDP</text>
<text x="379.90" y="473.00" font-size="5.8" fill="#111" stroke="#111" stroke-width="0.080" textLength="12.00" lengthAdjust="spacingAndGlyphs" text-anchor="end" >CDP</text>
<text x="392.50" y="486.60" font-size="5.8" fill="#111" stroke="#111" stroke-width="0.080" textLength="23.00" lengthAdjust="spacingAndGlyphs" text-anchor="end" >Pre-cDC</text>
<text x="405.20" y="500.10" font-size="5.8" fill="#111" stroke="#111" stroke-width="0.080" textLength="14.50" lengthAdjust="spacingAndGlyphs" text-anchor="end" >cDC1</text>
<defs><linearGradient id="nes" x1="0" x2="1" y1="0" y2="0"><stop offset="0" stop-color="#5a52a0"/><stop offset="0.22" stop-color="#8e88c0"/><stop offset="0.42" stop-color="#c8b878"/><stop offset="0.65" stop-color="#f8e020"/><stop offset="0.82" stop-color="#e8a030"/><stop offset="1" stop-color="#d05030"/></linearGradient></defs>
<rect x="363.70" y="517.40" width="50.50" height="7.80" fill="url(#nes)" stroke="#111" stroke-width="1.0" />
<line x1="363.70" y1="525.20" x2="363.70" y2="527.30" stroke="#111" stroke-width="0.9" />
<line x1="381.20" y1="525.20" x2="381.20" y2="527.30" stroke="#111" stroke-width="0.9" />
<line x1="397.80" y1="525.20" x2="397.80" y2="527.30" stroke="#111" stroke-width="0.9" />
<line x1="414.20" y1="525.20" x2="414.20" y2="527.30" stroke="#111" stroke-width="0.9" />
<text x="383.90" y="513.10" font-size="6.0" fill="#111" stroke="#111" stroke-width="0.080" textLength="10.10" lengthAdjust="spacingAndGlyphs" >NES</text>
<text x="357.00" y="536.60" font-size="6.0" fill="#111" stroke="#111" stroke-width="0.080" textLength="14.80" lengthAdjust="spacingAndGlyphs" >&gt; -0.8</text>
<text x="376.50" y="536.60" font-size="6.0" fill="#111" stroke="#111" stroke-width="0.080" textLength="10.10" lengthAdjust="spacingAndGlyphs" >-1.0</text>
<text x="393.40" y="536.60" font-size="6.0" fill="#111" stroke="#111" stroke-width="0.080" textLength="8.70" lengthAdjust="spacingAndGlyphs" >-1.2</text>
<text x="408.80" y="536.60" font-size="6.0" fill="#111" stroke="#111" stroke-width="0.080" textLength="9.50" lengthAdjust="spacingAndGlyphs" >-1.4</text>
<line x1="0.00" y1="0.50" x2="520.00" y2="0.50" stroke="#4a4a4a" stroke-width="1" />
<line x1="0.00" y1="1.50" x2="520.00" y2="1.50" stroke="#9a9a9a" stroke-width="1" />
<line x1="0.50" y1="0.00" x2="0.50" y2="553.00" stroke="#4a4a4a" stroke-width="1" />
<line x1="1.50" y1="1.00" x2="1.50" y2="553.00" stroke="#9a9a9a" stroke-width="1" />
<line x1="519.50" y1="0.00" x2="519.50" y2="553.00" stroke="#000" stroke-width="1" />
<line x1="0.00" y1="552.50" x2="520.00" y2="552.50" stroke="#000" stroke-width="1" />
</svg>
</body></html>
